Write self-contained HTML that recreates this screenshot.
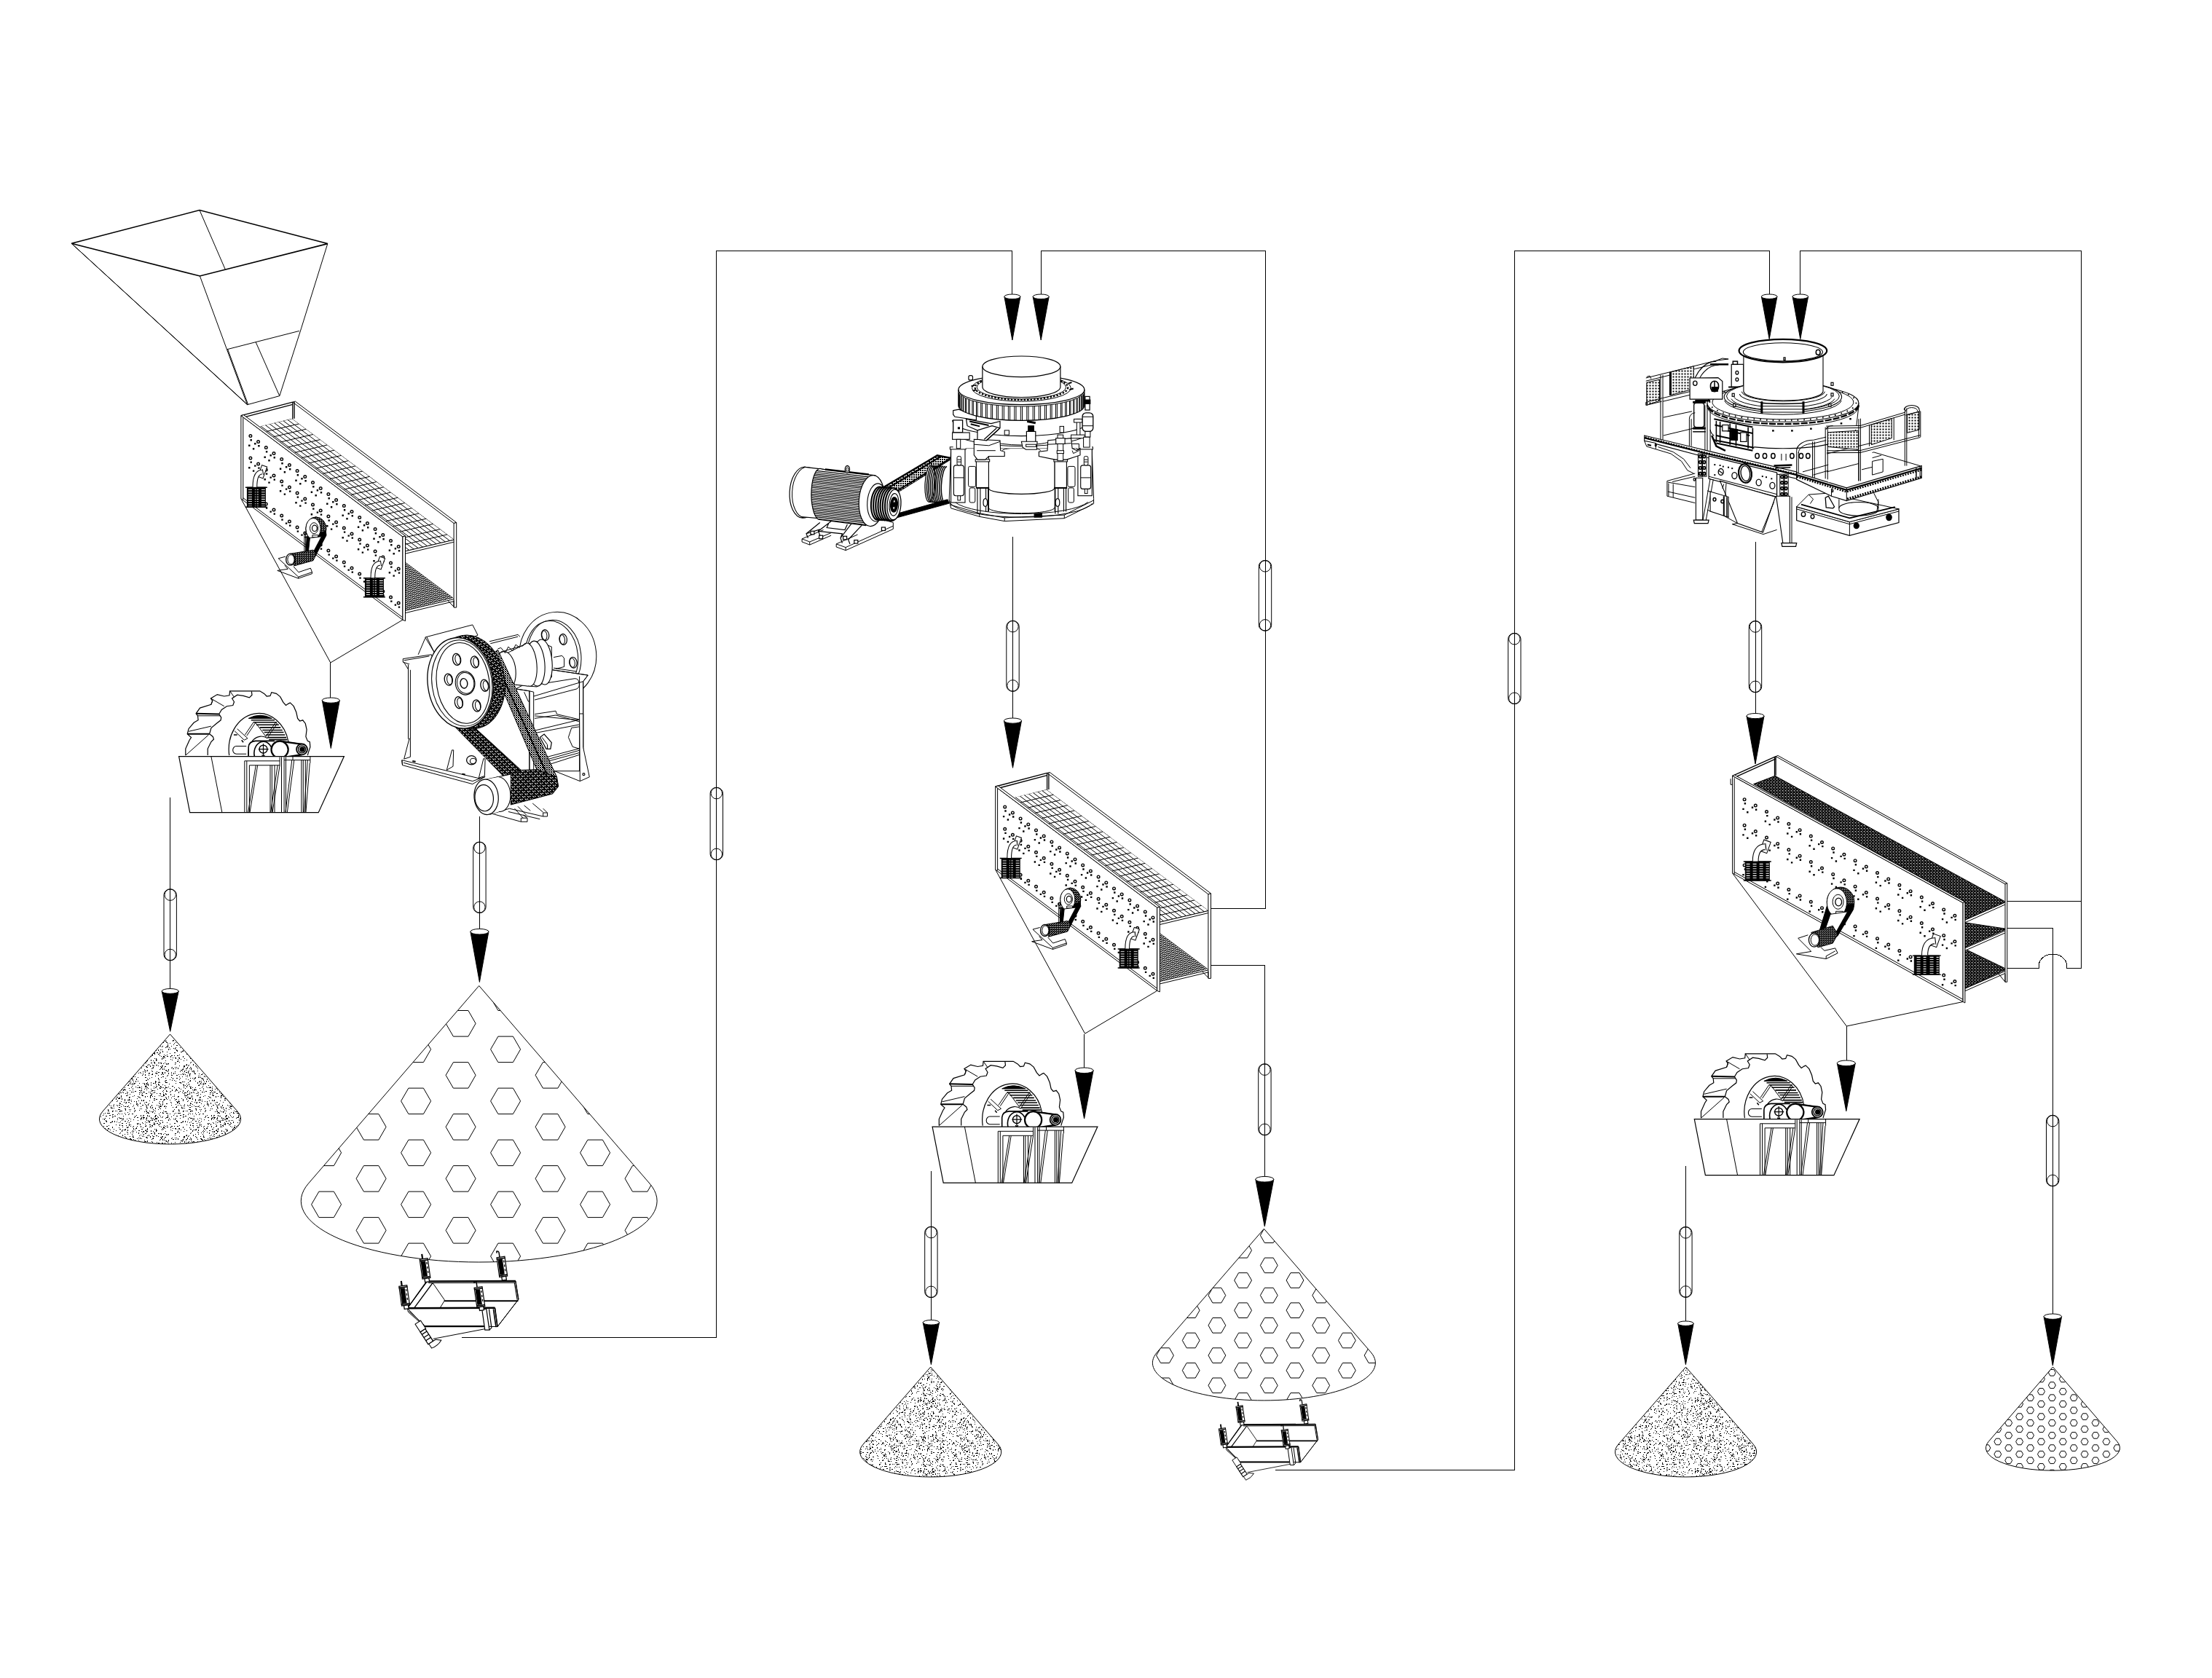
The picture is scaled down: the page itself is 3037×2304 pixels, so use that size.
<!DOCTYPE html>
<html><head><meta charset="utf-8"><title>Flow</title>
<style>html,body{margin:0;padding:0;background:#fff;font-family:"Liberation Sans",sans-serif}svg{display:block}</style>
</head><body>
<svg width="3037" height="2304" viewBox="0 0 3037 2304">
<defs>
<pattern id="sand" patternUnits="userSpaceOnUse" width="97" height="97"><path d="M41,19h1M6,9h2M12,46h1M64,27h1M55,53h1M11,70h1M72,15l1,1M80,80h1M7,73h1M6,28h1M17,37h1M69,15h1M71,87h1M74,73h1M47,12h1M8,72h1M26,63h1M54,40h1M58,46h1M23,89h2M10,73h1M63,43h1M36,77l1,1M15,65h1M96,43h1M62,53h1M85,9h2M73,40h1M44,76h1M58,8h2M34,60h1M8,7h1M39,82h1M87,57h1M49,85h1M59,45h1M14,63h1M36,16h1M50,50l1,1M63,10h1M51,70h1M17,55h2M35,90h1M45,87h2M29,19h1M19,29h1M1,62h2M23,33h1M18,53h1M78,72h1M16,88h2M79,83h1M6,58h2M87,71h1M51,50h1M81,51h1M8,26h1M14,43h1M13,0h1M68,12l1,1M78,3h1M26,78h1M81,32l1,1M77,46h1M14,62l1,1M59,61h1M10,18h1M43,94h1M88,20h1M26,67h1M88,69l1,1M67,38l1,1M11,89h2M66,46l1,1M45,28h1M64,42h1M78,24h2M51,94h2M25,66h1M93,3l1,1M35,60h1M88,77l1,1M57,92l1,1M46,10h1M29,60h1M26,61h1M78,0h1M83,44h2M10,84h1M49,91h2M61,22h1M81,42h1M92,50h1M95,10h1M21,16h1M75,59h2M18,78h2M60,84l1,1M19,70h1M2,1h2M92,83h1M95,17h1M24,27h1M27,37h1M75,41h1M53,16h1M94,45h2M84,74h2M66,53h2M64,16h1M67,65h1M56,23h1M19,22h1M79,92h1M7,41h1M67,71h1M13,71h1M24,35h1M12,64h1M3,8h1M78,64h1M25,88h1M65,68h2M64,31h1M33,71h2M25,57h1M15,50h1M9,85h1M9,27h1M15,19l1,1M82,84h1M32,17l1,1M28,95l1,1M50,62h1M85,28h1M55,65h1M53,25h1M11,92h1M43,70h1M90,2h1M66,79h1M8,14l1,1M29,13h1M34,5l1,1M23,34h2M54,86h2M33,51h1M65,73h1M41,11h1M88,23h1M9,34l1,1M81,11h2M10,77h2M8,33h2M58,1h1M70,53l1,1M34,79h1M67,90h1M14,20h1M23,25l1,1M80,39h1M26,37h1M86,22h1M2,32h1M2,93h1M24,65h1M57,13h1M83,55h1M69,50l1,1M39,88h1M29,43h1M90,93h1M51,44l1,1M16,1h1M94,32h1M7,10h1M48,64h1M36,76h1M37,5h1M20,34h1M33,46l1,1M70,41h1M39,27h1M0,42h1M60,35h1M25,31h1M0,11h1M11,18h1M5,50h1M38,80h1M74,67h2M19,84h2M76,49h2M92,63h1M92,79h1M5,91h2M80,54h1M64,17l1,1M96,64h1M2,87h1M91,87l1,1M82,29h1M5,17h1M13,48h2M71,6h1M80,68h1M62,33h1M8,95l1,1M68,11h1M8,95h1M32,9h2M30,93h2M29,94h1M58,63h2M9,61l1,1M36,5h1M82,25h1M18,42h1M95,88h1M72,17h1M7,62h1M86,12h1M86,62h1M66,36h1M59,15l1,1M70,25h1M10,60h1M58,9h2M57,34h1M26,9h1M18,95h1M46,16h1M80,65h1M14,90h1M63,62h1M20,0l1,1M87,57h1M93,18h1M48,40h1M42,0h1M43,50h1M25,91h1M94,37h1M8,50h1M75,9h1M54,96h1M6,35h1M84,36h1M19,31l1,1M55,65h1M47,54h2M80,51l1,1M70,70h1M10,6l1,1M52,57h1M17,82h2M62,6l1,1M70,16h1M53,43h1M32,94h1M83,33h1M30,38h1M85,50h1M82,20h1M64,63h1M57,42l1,1M57,54h1M24,31h1M43,71h1M30,47h1M72,25h2M95,52h1M95,67h1M34,43h2M63,35h1M46,16h1M67,80h2M27,11h1M31,49h1M57,55l1,1M2,16h1M90,60l1,1M62,0h1M67,59l1,1M31,13h1M19,66l1,1M13,92h1M58,10h1M5,0h2M29,72l1,1M82,91h1M16,80h1M81,55h1M14,12h1M67,74h1M33,28h2M0,1h1M58,35l1,1M82,31h1M30,70h1M52,90h1M7,2h1M86,82h1M32,29h1M47,29h1M89,43h1M46,87h1M0,37h1M64,8h1M25,39h2M24,29h1M33,37h1M79,63h1M28,62h1M85,7l1,1M18,50h1M3,76h1M6,90h1M50,57h2M40,93h1M10,21h1M23,83l1,1M95,59h1M85,92h1M47,42h1M13,0h1M10,44h1M15,71l1,1M26,48h1M39,55h1M90,60h1M69,57h1M46,94h2M3,80h1M80,51h1M4,59h1M7,32h1M8,77h1M34,42l1,1M78,5h1M91,88h1M35,38h1M96,76l1,1M81,8h1M29,13h1M59,49h2M55,63h1M63,23h1M94,38h2M19,77h1M40,58h1M76,10h1M50,96h1M52,8h1M61,70h1M20,54h2M9,33h1M26,12h1M90,57h1M17,53h1M86,30h1M85,15h2M37,37h1M34,47h1M33,25h1M23,31h1M36,74h1M8,50h1M31,64h1M83,12h1M4,13h1M29,57l1,1M5,37h1M6,24h1M74,24l1,1M47,65h2M57,77h1M85,0h1M76,90h1M27,4h1M18,5h1M32,4h1M83,26h2M41,52h1M23,79h1M26,4h2M70,61h1M12,50h1M19,81h1M83,20h1M34,52l1,1M85,39h1M6,39h1M45,53h1M46,82h1M93,51h1M0,55l1,1M54,14h2M51,73h2M58,20h1M6,70h1M50,11h1M47,94h1M18,44h1M66,21l1,1M13,49h1M25,38h1M5,61h1M77,81h1M91,79h1M20,81h2M28,79h1M25,60h1M27,5h1M66,20h1M15,19h1M92,24h1M71,96h1M85,41h1M76,58h1M80,39h1M39,74h1M49,84h1M64,56h1M0,79l1,1M59,30h1M79,58h2M60,51h1M16,45h1M11,56h1M84,5h1M16,10l1,1M40,92h1M6,96h1M48,83l1,1M17,3h2M78,93h1M14,24h1M62,36l1,1M21,87h2M28,8h2M78,96h1M41,78h1M58,18h1M61,26h1M78,64h1M47,4h1M51,20h1M35,86h1M48,21h2M33,14h2M6,81h2M57,71h1M88,13h1M68,80h2M94,47h1M47,73h1M42,10h1M22,78h1M6,37h2M32,39h1M74,84h2M93,0h1M28,19h1M80,55h1M46,6h1M29,78h1M2,6h1M45,38h1M45,68h1M74,38h1M26,46h1M60,20h1M31,90h1M12,8h1M85,34h1M33,1h1M71,44h1M74,56h1M66,93h1M21,0h1M68,3h1M30,20h1M13,1h1M84,25h1M25,66h1M64,82h1M78,22h1M8,38h1M92,61h1M0,48h2M95,59h1M83,57h1M13,33h1M4,15h1M95,88l1,1M33,91h1M81,70h1M87,66l1,1M37,82l1,1M27,10h2M1,21h1M30,95h1M20,95l1,1M24,49h1M30,48l1,1M80,88l1,1M68,60h1M67,89h1M3,55l1,1M29,73h2M27,50h1M9,72l1,1M18,4h1M13,79l1,1M44,18h1M3,5h1M82,81h1M8,94h1M75,46h1M68,85h1M96,91l1,1M13,31h1M14,4h1M96,81h1M96,80h1M61,12h1M96,82h1M40,43h1M2,44h1M36,6h1M47,41h2M77,64h1M36,79h1M52,3h1M12,44h1M6,68h1M91,11h1M36,21h1M67,25h1M96,6h1M62,12h1M23,63h1M65,33h1M20,36h2M89,29h1M14,81h2M62,89h1M13,80h1M12,51l1,1M95,11h1M82,3h1M38,33h1M69,64h1M80,29l1,1M16,68h1M88,96h1M4,44h1M66,19h2M57,84h1M41,21h1M88,32h1M16,42h1M89,30h1M34,38h2M79,19h1M31,92h1M66,44h1M41,24h1M93,13h1M84,13h1M19,18h2M93,38h1M25,13h1M13,35h1M49,59h1M51,55h1M64,80h1M2,18h1M94,51h1M31,55h1M75,95h1M29,85h1M82,89h1M29,86h1M15,58h1M33,80h1M53,31h2M91,91h1M32,54h1M2,79h2M66,86h1M23,83h1M1,49h2M13,4h1M27,20h1M25,66h1M73,58h1M91,60h1M81,47h1M52,94l1,1M26,87h1M65,15h1M78,45h1M32,35h1M7,1h1M53,80h1M45,74h1M28,38h1M67,28l1,1M50,59h1M16,8h2M81,24h1M71,92h1M18,45h1M52,59l1,1M70,83h1M60,45h2M29,34h1M87,32l1,1M86,23h1M92,35h1M83,38h1M62,54h1M10,84h2M19,38h2M7,10h2M41,17h1M44,81h1M84,1h1M9,83h1M77,12h1M29,23h2M44,19h1M51,68h1M88,77l1,1M11,85l1,1M70,81h2M25,63h1M67,10h1M56,85h2M71,15h1M29,17h1M71,7h1M18,89h1M63,21h1M94,0h1M41,59h1M63,85h1M59,47h1M86,9h1M46,81h1M2,78h1M94,42h2M12,65h1M96,18h1M91,53h1M43,12h2M46,43h1M67,70h2M26,36h1M54,32h1M37,37h1M63,51h1M34,64h1M26,83h1M15,42h1M91,38h1M81,11h2M5,51h1M51,69h1M51,38h1M5,24h2M60,77h2M7,64l1,1M78,48h1M80,86h1M76,87h1M5,85h1M80,22h1M23,4h1M12,83h1M17,39h1M33,38h1M4,40h1M72,82h1M6,63h1M5,15h2M53,73h1M51,57h1M87,49h1M84,19h1M52,70h1M82,60h1M19,80h1M0,1h1M15,11h1M15,16h1M35,92h1M57,93h1M6,46h2M91,88h2M93,10h1M71,90h1M85,32l1,1M6,91h1M7,1h2M87,79h1M39,39h1M21,62h1M40,47l1,1M93,56h1M21,18l1,1M14,46l1,1M20,80h2M61,49h2M57,34h2M72,42h1M7,79l1,1M90,76h1M77,92l1,1M19,76h2M74,54l1,1M31,48h1M48,77h2M29,57h1M0,41h1M54,20h1M5,36h2M73,18h1M70,87h2M63,44h1M69,70h1M48,25h2M92,29h1M7,86h1M90,26l1,1M75,96h1M49,58h1M68,45h2M29,50h1M33,66h1M64,75h1M27,24h1M89,37h1M72,45h1M66,19h1M63,47h2M47,80h1M10,19h1M3,44h1M77,2h1M26,72h1M72,27h1M35,54h1M57,75h2M16,32h2M43,25l1,1M48,10h1M4,71h1M90,58h1M8,76h1M15,90l1,1M32,40h1M82,11l1,1M85,64h1M57,20h1M30,92h1M4,32l1,1M7,70l1,1M6,33h2M90,94h1M61,7h1M40,96h1M25,86h1M75,75h1M83,13h1M47,32h1M47,61h1M56,30h2M86,1h1M24,4h1M28,9l1,1M47,95h1M57,12l1,1M49,2h1M57,43h1M29,61h1M46,18h1M94,7h1M57,70h2M56,19h1M52,31h1M34,73h2M42,21h1M13,40h1M61,14h1M65,7h1M85,27h1M36,15h1M25,46h1M33,30l1,1M12,49h1M20,7h2M37,18l1,1M2,56h2M43,65h1M0,67h1M46,55h1M52,27h1M23,17h2M66,29h1M25,76h1M11,77h1M35,22h1M78,85h1M24,74h1M1,8h1M66,52h2M7,66h2M42,36h2M63,11h1M61,17h2M34,31h1M46,4h1M47,73h1M0,45h1M57,66h1M45,91h1M41,91h2M73,96h2M37,13l1,1M63,57h1M67,68h1M31,11h1M23,21h1M32,71h2M3,2h1M89,94h1M2,76h1M59,66h1M56,13h1M12,91h1M34,15h1M74,64h2M14,15h1M17,69h1M29,18h1M59,95h1M2,81h1M53,76h2M67,4h1M6,46h1M30,42h1M72,41h2M71,6h1M18,87l1,1M31,54h1M1,46h1M23,8h1M25,64h1M28,17h1M50,58h1M5,4h2M79,34l1,1M79,34h1M4,79h1M15,66h1M30,5h1M39,44h1M15,7h1M65,34h1M75,68l1,1M56,15h1M37,52h1M35,31h1M94,69h1M58,78h1M28,83h1M70,90h1M70,38h1M60,39h1M42,28h1M69,49l1,1M50,1l1,1M20,30h1M41,62h1M27,37h1M2,20h1M77,44h1M7,66h1M56,45h1M13,66h1M86,94l1,1M53,43h1M17,86h1M78,35h2M66,12h1M95,60h1M80,90h1M90,16h1M13,0h1M70,74h1M50,73h1M35,79h1M48,57h1M36,92h1M45,50h1M76,49h1M0,95h2M63,48h1M23,68h1M18,55h1M74,29h1M42,41l1,1M77,31l1,1M26,54h2M1,3h1M72,63h1M68,39h1M55,66h2M93,87h1M59,45h1M86,44h1M1,86h1M29,12h1M64,51h1M73,19h2M53,62h1M79,75h1M67,95h2M21,46h1M9,39h1M14,83h2M88,43h2M65,53h1M67,37h2M26,64h2M52,23h1M72,77h1M72,80h1M5,88h1M0,39h1M70,0l1,1M50,12h1M85,3h1M63,70h1M82,68h1M18,73h1M77,15h1M66,65h1M12,9h1M66,62h2M78,55h2M7,83h1M74,41h1M30,45h1M4,34h1M74,8h1M57,79h1M6,28h2M74,5h1M79,30h1M5,20l1,1M22,40h1M58,38h1M32,63l1,1M8,31h1M86,91h1M52,39h1M91,62h1M31,11h1M45,48h1M37,50h1M14,42h1M49,42h1M8,15h1M44,70h1M24,59h1M30,55h1M85,3h1M19,30h1M11,25h1M16,71h1M30,20h1M27,92h1M80,74h1" fill="none" stroke="#000" stroke-width="1" shape-rendering="crispEdges" transform="translate(0 0.5)"/></pattern>
<clipPath id="hp1"><path d="M657.7,1353.5 L892,1625.1 A244.4,84 0 1 1 423.4,1625.1 Z"/></clipPath>
<clipPath id="hp2"><path d="M1735.4,1687.2 L1882.3,1856.9 A153,51.6 0 1 1 1588.5,1856.9 Z"/></clipPath>
<clipPath id="hp3"><path d="M2818.5,1876.9 L2906.8,1979.4 A92,31 0 1 1 2730.2,1979.4 Z"/></clipPath>
<pattern id="dk" patternUnits="userSpaceOnUse" width="4" height="4"><rect width="4" height="4" fill="#000"/><rect x="0" y="0" width="2" height="1" fill="#fff"/><rect x="2" y="2" width="1" height="1" fill="#fff"/></pattern>
<pattern id="dk2" patternUnits="userSpaceOnUse" width="3" height="3"><rect width="3" height="3" fill="#000"/><rect x="0" y="0" width="1" height="1" fill="#fff"/><rect x="1" y="2" width="1" height="1" fill="#fff"/></pattern>
<pattern id="coil" patternUnits="userSpaceOnUse" width="9" height="3.2"><rect width="9" height="3.2" fill="#000"/><rect x="1" y="2.2" width="5" height="1" fill="#fff"/></pattern>
<clipPath id="mc1"><path d="M26,14.9 L70.1,4 L292.9,170.4 L224.9,186.3 L225.6,164.5Z"/></clipPath>
<clipPath id="mc2"><path d="M225.6,197.5 L292.5,250.4 L225.6,267.7Z"/></clipPath>
<clipPath id="mc3"><path d="M26,14.9 L70.1,4 L292.9,170.4 L224.9,186.3 L225.6,164.5Z"/></clipPath>
<clipPath id="mc4"><path d="M225.6,197.5 L292.5,250.4 L225.6,267.7Z"/></clipPath>
<pattern id="belt1" patternUnits="userSpaceOnUse" width="5" height="5" patternTransform="rotate(43)"><rect width="5" height="5" fill="#000"/><rect x="0" y="0" width="3" height="1" fill="#fff"/><rect x="2" y="3" width="2" height="1" fill="#fff"/></pattern>
<pattern id="belt2" patternUnits="userSpaceOnUse" width="3" height="3"><rect width="3" height="3" fill="#fff"/><rect x="0" y="0" width="2" height="2" fill="#000"/><rect x="2" y="2" width="1" height="1" fill="#000"/></pattern>
<pattern id="dots" patternUnits="userSpaceOnUse" width="3" height="3"><rect width="3" height="3" fill="#fff"/><rect x="0" y="0" width="2" height="2" fill="#000"/></pattern>
<clipPath id="finclip"><path d="M1128.2,644.1 L1202.2,652.9 L1189.3,721.7 L1123.5,713.1 A11.8,34.8 0 0 1 1128.2,644.1 Z"/></clipPath>
<pattern id="perf" patternUnits="userSpaceOnUse" width="4" height="4"><rect width="4" height="4" fill="#fff"/><rect x="0.5" y="0.5" width="2" height="2" fill="#000"/></pattern>
</defs>
<rect width="3037" height="2304" fill="#fff"/>
<g stroke-linecap="butt" stroke-linejoin="miter">
<g shape-rendering="crispEdges">
<path d="M453.8,910 V958" fill="none" stroke="#000" stroke-width="1" />
<path d="M233.7,1094.7 V1358" fill="none" stroke="#000" stroke-width="1" />
<path d="M658.4,1121 V1276" fill="none" stroke="#000" stroke-width="1" />
<path d="M634.4,1836.5 H983.8 V344.8 H1389.9 V405" fill="none" stroke="#000" stroke-width="1" />
<path d="M1660.9,1247.4 H1737 V344.8 H1429.2 V405" fill="none" stroke="#000" stroke-width="1" />
<path d="M1390.5,736.6 V987" fill="none" stroke="#000" stroke-width="1" />
<path d="M1660.9,1325.3 H1736.4 V1616" fill="none" stroke="#000" stroke-width="1" />
<path d="M1488.7,1419.6 V1467" fill="none" stroke="#000" stroke-width="1" />
<path d="M1278.4,1608 V1813" fill="none" stroke="#000" stroke-width="1" />
<path d="M1751.3,2018.7 H2079.3 V344.4 H2429.2 V405" fill="none" stroke="#000" stroke-width="1" />
<path d="M2756.3,1237.4 H2857.5 M2857.5,1329.3 V344.4 H2471.8 V405" fill="none" stroke="#000" stroke-width="1" />
<path d="M2756.3,1274.5 H2818.3 V1805" fill="none" stroke="#000" stroke-width="1" />
<path d="M2756.3,1329.3 H2799.2 V1326 A19.2,16 0 0 1 2837.6,1326 V1329.3 H2857.5" fill="none" stroke="#000" stroke-width="1" />
<path d="M2410,743.7 V980" fill="none" stroke="#000" stroke-width="1" />
<path d="M2535,1408.5 V1457" fill="none" stroke="#000" stroke-width="1" />
<path d="M2314.4,1601.3 V1815" fill="none" stroke="#000" stroke-width="1" />
</g>
<path d="M225,1228.7 A8.7,8 0 0 1 242.4,1228.7 V1310.9 A8.7,8 0 0 1 225,1310.9 Z" fill="none" stroke="#000" stroke-width="1" />
<circle cx="233.7" cy="1228.7" r="7.7" fill="none" stroke="#000" stroke-width="1"/>
<circle cx="233.7" cy="1310.9" r="7.7" fill="none" stroke="#000" stroke-width="1"/>
<path d="M649.7,1164 A8.7,8 0 0 1 667.1,1164 V1245.5 A8.7,8 0 0 1 649.7,1245.5 Z" fill="none" stroke="#000" stroke-width="1" />
<circle cx="658.4" cy="1164" r="7.7" fill="none" stroke="#000" stroke-width="1"/>
<circle cx="658.4" cy="1245.5" r="7.7" fill="none" stroke="#000" stroke-width="1"/>
<path d="M975.1,1089.2 A8.7,8 0 0 1 992.5,1089.2 V1172.8 A8.7,8 0 0 1 975.1,1172.8 Z" fill="none" stroke="#000" stroke-width="1" />
<circle cx="983.8" cy="1089.2" r="7.7" fill="none" stroke="#000" stroke-width="1"/>
<circle cx="983.8" cy="1172.8" r="7.7" fill="none" stroke="#000" stroke-width="1"/>
<path d="M1381.8,860.2 A8.7,8 0 0 1 1399.2,860.2 V941.4 A8.7,8 0 0 1 1381.8,941.4 Z" fill="none" stroke="#000" stroke-width="1" />
<circle cx="1390.5" cy="860.2" r="7.7" fill="none" stroke="#000" stroke-width="1"/>
<circle cx="1390.5" cy="941.4" r="7.7" fill="none" stroke="#000" stroke-width="1"/>
<path d="M1728.3,777.4 A8.7,8 0 0 1 1745.7,777.4 V858.3 A8.7,8 0 0 1 1728.3,858.3 Z" fill="none" stroke="#000" stroke-width="1" />
<circle cx="1737" cy="777.4" r="7.7" fill="none" stroke="#000" stroke-width="1"/>
<circle cx="1737" cy="858.3" r="7.7" fill="none" stroke="#000" stroke-width="1"/>
<path d="M1727.7,1468.7 A8.7,8 0 0 1 1745.1,1468.7 V1550.8 A8.7,8 0 0 1 1727.7,1550.8 Z" fill="none" stroke="#000" stroke-width="1" />
<circle cx="1736.4" cy="1468.7" r="7.7" fill="none" stroke="#000" stroke-width="1"/>
<circle cx="1736.4" cy="1550.8" r="7.7" fill="none" stroke="#000" stroke-width="1"/>
<path d="M1269.7,1692.2 A8.7,8 0 0 1 1287.1,1692.2 V1773.7 A8.7,8 0 0 1 1269.7,1773.7 Z" fill="none" stroke="#000" stroke-width="1" />
<circle cx="1278.4" cy="1692.2" r="7.7" fill="none" stroke="#000" stroke-width="1"/>
<circle cx="1278.4" cy="1773.7" r="7.7" fill="none" stroke="#000" stroke-width="1"/>
<path d="M2070.6,877.3 A8.7,8 0 0 1 2088,877.3 V958.7 A8.7,8 0 0 1 2070.6,958.7 Z" fill="none" stroke="#000" stroke-width="1" />
<circle cx="2079.3" cy="877.3" r="7.7" fill="none" stroke="#000" stroke-width="1"/>
<circle cx="2079.3" cy="958.7" r="7.7" fill="none" stroke="#000" stroke-width="1"/>
<path d="M2401.3,860.5 A8.7,8 0 0 1 2418.7,860.5 V942.8 A8.7,8 0 0 1 2401.3,942.8 Z" fill="none" stroke="#000" stroke-width="1" />
<circle cx="2410" cy="860.5" r="7.7" fill="none" stroke="#000" stroke-width="1"/>
<circle cx="2410" cy="942.8" r="7.7" fill="none" stroke="#000" stroke-width="1"/>
<path d="M2305.7,1692.5 A8.7,8 0 0 1 2323.1,1692.5 V1773.4 A8.7,8 0 0 1 2305.7,1773.4 Z" fill="none" stroke="#000" stroke-width="1" />
<circle cx="2314.4" cy="1692.5" r="7.7" fill="none" stroke="#000" stroke-width="1"/>
<circle cx="2314.4" cy="1773.4" r="7.7" fill="none" stroke="#000" stroke-width="1"/>
<path d="M2809.5,1539.2 A8.7,8 0 0 1 2826.9,1539.2 V1620.8 A8.7,8 0 0 1 2809.5,1620.8 Z" fill="none" stroke="#000" stroke-width="1" />
<circle cx="2818.2" cy="1539.2" r="7.7" fill="none" stroke="#000" stroke-width="1"/>
<circle cx="2818.2" cy="1620.8" r="7.7" fill="none" stroke="#000" stroke-width="1"/>
<path d="M442.3,961.6 A12,3.6 0 0 0 466.3,961.6 L454.3,1027.5 Z" fill="#000" stroke="#000" stroke-width="1"/>
<ellipse cx="454.3" cy="961.6" rx="12" ry="3.6" fill="#fff" stroke="#000" stroke-width="1" />
<path d="M222.2,1360.9 A11.5,3.4 0 0 0 245.2,1360.9 L233.7,1416.3 Z" fill="#000" stroke="#000" stroke-width="1"/>
<ellipse cx="233.7" cy="1360.9" rx="11.5" ry="3.4" fill="#fff" stroke="#000" stroke-width="1" />
<path d="M645.9,1279.2 A12.5,3.8 0 0 0 670.9,1279.2 L658.4,1348.5 Z" fill="#000" stroke="#000" stroke-width="1"/>
<ellipse cx="658.4" cy="1279.2" rx="12.5" ry="3.8" fill="#fff" stroke="#000" stroke-width="1" />
<path d="M1378.9,407.3 A11,3.3 0 0 0 1400.9,407.3 L1389.9,467 Z" fill="#000" stroke="#000" stroke-width="1"/>
<ellipse cx="1389.9" cy="407.3" rx="11" ry="3.3" fill="#fff" stroke="#000" stroke-width="1" />
<path d="M1418.2,407.3 A11,3.3 0 0 0 1440.2,407.3 L1429.2,467 Z" fill="#000" stroke="#000" stroke-width="1"/>
<ellipse cx="1429.2" cy="407.3" rx="11" ry="3.3" fill="#fff" stroke="#000" stroke-width="1" />
<path d="M1378.5,989.6 A12,3.6 0 0 0 1402.5,989.6 L1390.5,1054.3 Z" fill="#000" stroke="#000" stroke-width="1"/>
<ellipse cx="1390.5" cy="989.6" rx="12" ry="3.6" fill="#fff" stroke="#000" stroke-width="1" />
<path d="M1476.1,1469.8 A12.5,3.8 0 0 0 1501.1,1469.8 L1488.6,1536 Z" fill="#000" stroke="#000" stroke-width="1"/>
<ellipse cx="1488.6" cy="1469.8" rx="12.5" ry="3.8" fill="#fff" stroke="#000" stroke-width="1" />
<path d="M1267.2,1815.8 A11.2,3.3 0 0 0 1289.6,1815.8 L1278.4,1873.6 Z" fill="#000" stroke="#000" stroke-width="1"/>
<ellipse cx="1278.4" cy="1815.8" rx="11.2" ry="3.3" fill="#fff" stroke="#000" stroke-width="1" />
<path d="M1723.8,1619.2 A12.5,3.8 0 0 0 1748.8,1619.2 L1736.3,1684 Z" fill="#000" stroke="#000" stroke-width="1"/>
<ellipse cx="1736.3" cy="1619.2" rx="12.5" ry="3.8" fill="#fff" stroke="#000" stroke-width="1" />
<path d="M2418.4,407.2 A10.8,3.2 0 0 0 2439.9,407.2 L2429.2,465.5 Z" fill="#000" stroke="#000" stroke-width="1"/>
<ellipse cx="2429.2" cy="407.2" rx="10.8" ry="3.2" fill="#fff" stroke="#000" stroke-width="1" />
<path d="M2461.1,407.2 A10.8,3.2 0 0 0 2482.6,407.2 L2471.8,465.5 Z" fill="#000" stroke="#000" stroke-width="1"/>
<ellipse cx="2471.8" cy="407.2" rx="10.8" ry="3.2" fill="#fff" stroke="#000" stroke-width="1" />
<path d="M2398,983.1 A12,3.6 0 0 0 2422,983.1 L2410,1049 Z" fill="#000" stroke="#000" stroke-width="1"/>
<ellipse cx="2410" cy="983.1" rx="12" ry="3.6" fill="#fff" stroke="#000" stroke-width="1" />
<path d="M2522.3,1459.8 A12.5,3.8 0 0 0 2547.3,1459.8 L2534.8,1525.7 Z" fill="#000" stroke="#000" stroke-width="1"/>
<ellipse cx="2534.8" cy="1459.8" rx="12.5" ry="3.8" fill="#fff" stroke="#000" stroke-width="1" />
<path d="M2303.7,1817.2 A10.8,3.2 0 0 0 2325.2,1817.2 L2314.4,1873.7 Z" fill="#000" stroke="#000" stroke-width="1"/>
<ellipse cx="2314.4" cy="1817.2" rx="10.8" ry="3.2" fill="#fff" stroke="#000" stroke-width="1" />
<path d="M2806.1,1807.7 A12.2,3.7 0 0 0 2830.6,1807.7 L2818.3,1875 Z" fill="#000" stroke="#000" stroke-width="1"/>
<ellipse cx="2818.3" cy="1807.7" rx="12.2" ry="3.7" fill="#fff" stroke="#000" stroke-width="1" />
<path d="M98.1,334.2 L274,288.6 L449.8,334.6 L274.4,379Z" fill="none" stroke="#000" stroke-width="1.6" />
<path d="M274,288.6 L309.3,370" fill="none" stroke="#000" stroke-width="1" />
<path d="M274.4,379 L311.5,479.8 L339.5,555.7" fill="none" stroke="#000" stroke-width="1" />
<path d="M312.6,479.5 L340.6,555.4" fill="none" stroke="#000" stroke-width="1" />
<path d="M98.1,334.2 L339.5,555.7 L383.8,543.6" fill="none" stroke="#000" stroke-width="1" />
<path d="M98.1,334.2 L336.5,552.5 L339.5,555.7" fill="none" stroke="#000" stroke-width="1" />
<path d="M449.8,334.6 L413.6,450.8 L383.8,543.6" fill="none" stroke="#000" stroke-width="1" />
<path d="M311.5,479.8 L410.9,454.4" fill="none" stroke="#000" stroke-width="1" />
<path d="M351.2,469.8 L383.8,543.6" fill="none" stroke="#000" stroke-width="1" />
<path d="M233.5,1420 L326.2,1526.2 A97.1,34.5 0 1 1 140.8,1526.2 Z" fill="url(#sand)" stroke="#000" stroke-width="1"/>
<path d="M1277.7,1877 L1370.4,1983.2 A97.1,34.5 0 1 1 1185,1983.2 Z" fill="url(#sand)" stroke="#000" stroke-width="1"/>
<path d="M2314.6,1877 L2407.3,1983.2 A97.1,34.5 0 1 1 2221.9,1983.2 Z" fill="url(#sand)" stroke="#000" stroke-width="1"/>
<path d="M407.1,1334.3 L396.9,1352 L376.4,1352 L366.1,1334.3 L376.4,1316.5 L396.9,1316.5ZM407.1,1405.3 L396.9,1423.1 L376.4,1423.1 L366.1,1405.3 L376.4,1387.5 L396.9,1387.5ZM407.1,1476.3 L396.9,1494.1 L376.4,1494.1 L366.1,1476.3 L376.4,1458.6 L396.9,1458.6ZM407.1,1547.3 L396.9,1565.1 L376.4,1565.1 L366.1,1547.3 L376.4,1529.6 L396.9,1529.6ZM407.1,1618.3 L396.9,1636.1 L376.4,1636.1 L366.1,1618.3 L376.4,1600.6 L396.9,1600.6ZM407.1,1689.4 L396.9,1707.1 L376.4,1707.1 L366.1,1689.4 L376.4,1671.6 L396.9,1671.6ZM407.1,1760.4 L396.9,1778.1 L376.4,1778.1 L366.1,1760.4 L376.4,1742.6 L396.9,1742.6ZM468.6,1369.8 L458.4,1387.5 L437.9,1387.5 L427.6,1369.8 L437.9,1352 L458.4,1352ZM468.6,1440.8 L458.4,1458.6 L437.9,1458.6 L427.6,1440.8 L437.9,1423.1 L458.4,1423.1ZM468.6,1511.8 L458.4,1529.6 L437.9,1529.6 L427.6,1511.8 L437.9,1494.1 L458.4,1494.1ZM468.6,1582.8 L458.4,1600.6 L437.9,1600.6 L427.6,1582.8 L437.9,1565.1 L458.4,1565.1ZM468.6,1653.8 L458.4,1671.6 L437.9,1671.6 L427.6,1653.8 L437.9,1636.1 L458.4,1636.1ZM468.6,1724.9 L458.4,1742.6 L437.9,1742.6 L427.6,1724.9 L437.9,1707.1 L458.4,1707.1ZM530.1,1334.3 L519.9,1352 L499.4,1352 L489.1,1334.3 L499.4,1316.5 L519.9,1316.5ZM530.1,1405.3 L519.9,1423.1 L499.4,1423.1 L489.1,1405.3 L499.4,1387.5 L519.9,1387.5ZM530.1,1476.3 L519.9,1494.1 L499.4,1494.1 L489.1,1476.3 L499.4,1458.6 L519.9,1458.6ZM530.1,1547.3 L519.9,1565.1 L499.4,1565.1 L489.1,1547.3 L499.4,1529.6 L519.9,1529.6ZM530.1,1618.3 L519.9,1636.1 L499.4,1636.1 L489.1,1618.3 L499.4,1600.6 L519.9,1600.6ZM530.1,1689.4 L519.9,1707.1 L499.4,1707.1 L489.1,1689.4 L499.4,1671.6 L519.9,1671.6ZM530.1,1760.4 L519.9,1778.1 L499.4,1778.1 L489.1,1760.4 L499.4,1742.6 L519.9,1742.6ZM591.6,1369.8 L581.4,1387.5 L560.9,1387.5 L550.6,1369.8 L560.9,1352 L581.4,1352ZM591.6,1440.8 L581.4,1458.6 L560.9,1458.6 L550.6,1440.8 L560.9,1423.1 L581.4,1423.1ZM591.6,1511.8 L581.4,1529.6 L560.9,1529.6 L550.6,1511.8 L560.9,1494.1 L581.4,1494.1ZM591.6,1582.8 L581.4,1600.6 L560.9,1600.6 L550.6,1582.8 L560.9,1565.1 L581.4,1565.1ZM591.6,1653.8 L581.4,1671.6 L560.9,1671.6 L550.6,1653.8 L560.9,1636.1 L581.4,1636.1ZM591.6,1724.9 L581.4,1742.6 L560.9,1742.6 L550.6,1724.9 L560.9,1707.1 L581.4,1707.1ZM653.1,1334.3 L642.9,1352 L622.4,1352 L612.1,1334.3 L622.4,1316.5 L642.9,1316.5ZM653.1,1405.3 L642.9,1423.1 L622.4,1423.1 L612.1,1405.3 L622.4,1387.5 L642.9,1387.5ZM653.1,1476.3 L642.9,1494.1 L622.4,1494.1 L612.1,1476.3 L622.4,1458.6 L642.9,1458.6ZM653.1,1547.3 L642.9,1565.1 L622.4,1565.1 L612.1,1547.3 L622.4,1529.6 L642.9,1529.6ZM653.1,1618.3 L642.9,1636.1 L622.4,1636.1 L612.1,1618.3 L622.4,1600.6 L642.9,1600.6ZM653.1,1689.4 L642.9,1707.1 L622.4,1707.1 L612.1,1689.4 L622.4,1671.6 L642.9,1671.6ZM653.1,1760.4 L642.9,1778.1 L622.4,1778.1 L612.1,1760.4 L622.4,1742.6 L642.9,1742.6ZM714.6,1369.8 L704.4,1387.5 L683.9,1387.5 L673.6,1369.8 L683.9,1352 L704.4,1352ZM714.6,1440.8 L704.4,1458.6 L683.9,1458.6 L673.6,1440.8 L683.9,1423.1 L704.4,1423.1ZM714.6,1511.8 L704.4,1529.6 L683.9,1529.6 L673.6,1511.8 L683.9,1494.1 L704.4,1494.1ZM714.6,1582.8 L704.4,1600.6 L683.9,1600.6 L673.6,1582.8 L683.9,1565.1 L704.4,1565.1ZM714.6,1653.8 L704.4,1671.6 L683.9,1671.6 L673.6,1653.8 L683.9,1636.1 L704.4,1636.1ZM714.6,1724.9 L704.4,1742.6 L683.9,1742.6 L673.6,1724.9 L683.9,1707.1 L704.4,1707.1ZM776.1,1334.3 L765.9,1352 L745.4,1352 L735.1,1334.3 L745.4,1316.5 L765.9,1316.5ZM776.1,1405.3 L765.9,1423.1 L745.4,1423.1 L735.1,1405.3 L745.4,1387.5 L765.9,1387.5ZM776.1,1476.3 L765.9,1494.1 L745.4,1494.1 L735.1,1476.3 L745.4,1458.6 L765.9,1458.6ZM776.1,1547.3 L765.9,1565.1 L745.4,1565.1 L735.1,1547.3 L745.4,1529.6 L765.9,1529.6ZM776.1,1618.3 L765.9,1636.1 L745.4,1636.1 L735.1,1618.3 L745.4,1600.6 L765.9,1600.6ZM776.1,1689.4 L765.9,1707.1 L745.4,1707.1 L735.1,1689.4 L745.4,1671.6 L765.9,1671.6ZM776.1,1760.4 L765.9,1778.1 L745.4,1778.1 L735.1,1760.4 L745.4,1742.6 L765.9,1742.6ZM837.6,1369.8 L827.4,1387.5 L806.9,1387.5 L796.6,1369.8 L806.9,1352 L827.4,1352ZM837.6,1440.8 L827.4,1458.6 L806.9,1458.6 L796.6,1440.8 L806.9,1423.1 L827.4,1423.1ZM837.6,1511.8 L827.4,1529.6 L806.9,1529.6 L796.6,1511.8 L806.9,1494.1 L827.4,1494.1ZM837.6,1582.8 L827.4,1600.6 L806.9,1600.6 L796.6,1582.8 L806.9,1565.1 L827.4,1565.1ZM837.6,1653.8 L827.4,1671.6 L806.9,1671.6 L796.6,1653.8 L806.9,1636.1 L827.4,1636.1ZM837.6,1724.9 L827.4,1742.6 L806.9,1742.6 L796.6,1724.9 L806.9,1707.1 L827.4,1707.1ZM899.1,1334.3 L888.9,1352 L868.4,1352 L858.1,1334.3 L868.4,1316.5 L888.9,1316.5ZM899.1,1405.3 L888.9,1423.1 L868.4,1423.1 L858.1,1405.3 L868.4,1387.5 L888.9,1387.5ZM899.1,1476.3 L888.9,1494.1 L868.4,1494.1 L858.1,1476.3 L868.4,1458.6 L888.9,1458.6ZM899.1,1547.3 L888.9,1565.1 L868.4,1565.1 L858.1,1547.3 L868.4,1529.6 L888.9,1529.6ZM899.1,1618.3 L888.9,1636.1 L868.4,1636.1 L858.1,1618.3 L868.4,1600.6 L888.9,1600.6ZM899.1,1689.4 L888.9,1707.1 L868.4,1707.1 L858.1,1689.4 L868.4,1671.6 L888.9,1671.6ZM899.1,1760.4 L888.9,1778.1 L868.4,1778.1 L858.1,1760.4 L868.4,1742.6 L888.9,1742.6ZM960.6,1369.8 L950.4,1387.5 L929.9,1387.5 L919.6,1369.8 L929.9,1352 L950.4,1352ZM960.6,1440.8 L950.4,1458.6 L929.9,1458.6 L919.6,1440.8 L929.9,1423.1 L950.4,1423.1ZM960.6,1511.8 L950.4,1529.6 L929.9,1529.6 L919.6,1511.8 L929.9,1494.1 L950.4,1494.1ZM960.6,1582.8 L950.4,1600.6 L929.9,1600.6 L919.6,1582.8 L929.9,1565.1 L950.4,1565.1ZM960.6,1653.8 L950.4,1671.6 L929.9,1671.6 L919.6,1653.8 L929.9,1636.1 L950.4,1636.1ZM960.6,1724.9 L950.4,1742.6 L929.9,1742.6 L919.6,1724.9 L929.9,1707.1 L950.4,1707.1Z" fill="none" stroke="#000" stroke-width="1" clip-path="url(#hp1)"/>
<path d="M657.7,1353.5 L892,1625.1 A244.4,84 0 1 1 423.4,1625.1 Z" fill="none" stroke="#000" stroke-width="1"/>
<path d="M1575.7,1675.6 L1569.8,1685.9 L1557.8,1685.9 L1551.9,1675.6 L1557.8,1665.3 L1569.8,1665.3ZM1575.7,1716.8 L1569.8,1727.1 L1557.8,1727.1 L1551.9,1716.8 L1557.8,1706.5 L1569.8,1706.5ZM1575.7,1758 L1569.8,1768.3 L1557.8,1768.3 L1551.9,1758 L1557.8,1747.7 L1569.8,1747.7ZM1575.7,1799.2 L1569.8,1809.5 L1557.8,1809.5 L1551.9,1799.2 L1557.8,1788.9 L1569.8,1788.9ZM1575.7,1840.5 L1569.8,1850.8 L1557.8,1850.8 L1551.9,1840.5 L1557.8,1830.2 L1569.8,1830.2ZM1575.7,1881.7 L1569.8,1892 L1557.8,1892 L1551.9,1881.7 L1557.8,1871.4 L1569.8,1871.4ZM1575.7,1922.9 L1569.8,1933.2 L1557.8,1933.2 L1551.9,1922.9 L1557.8,1912.6 L1569.8,1912.6ZM1611.4,1696.2 L1605.5,1706.5 L1593.5,1706.5 L1587.6,1696.2 L1593.5,1685.9 L1605.5,1685.9ZM1611.4,1737.4 L1605.5,1747.7 L1593.5,1747.7 L1587.6,1737.4 L1593.5,1727.1 L1605.5,1727.1ZM1611.4,1778.6 L1605.5,1788.9 L1593.5,1788.9 L1587.6,1778.6 L1593.5,1768.3 L1605.5,1768.3ZM1611.4,1819.8 L1605.5,1830.2 L1593.5,1830.2 L1587.6,1819.8 L1593.5,1809.5 L1605.5,1809.5ZM1611.4,1861.1 L1605.5,1871.4 L1593.5,1871.4 L1587.6,1861.1 L1593.5,1850.8 L1605.5,1850.8ZM1611.4,1902.3 L1605.5,1912.6 L1593.5,1912.6 L1587.6,1902.3 L1593.5,1892 L1605.5,1892ZM1611.4,1943.5 L1605.5,1953.8 L1593.5,1953.8 L1587.6,1943.5 L1593.5,1933.2 L1605.5,1933.2ZM1647.1,1675.6 L1641.2,1685.9 L1629.2,1685.9 L1623.3,1675.6 L1629.2,1665.3 L1641.2,1665.3ZM1647.1,1716.8 L1641.2,1727.1 L1629.2,1727.1 L1623.3,1716.8 L1629.2,1706.5 L1641.2,1706.5ZM1647.1,1758 L1641.2,1768.3 L1629.2,1768.3 L1623.3,1758 L1629.2,1747.7 L1641.2,1747.7ZM1647.1,1799.2 L1641.2,1809.5 L1629.2,1809.5 L1623.3,1799.2 L1629.2,1788.9 L1641.2,1788.9ZM1647.1,1840.5 L1641.2,1850.8 L1629.2,1850.8 L1623.3,1840.5 L1629.2,1830.2 L1641.2,1830.2ZM1647.1,1881.7 L1641.2,1892 L1629.2,1892 L1623.3,1881.7 L1629.2,1871.4 L1641.2,1871.4ZM1647.1,1922.9 L1641.2,1933.2 L1629.2,1933.2 L1623.3,1922.9 L1629.2,1912.6 L1641.2,1912.6ZM1682.8,1696.2 L1676.8,1706.5 L1664.9,1706.5 L1659,1696.2 L1664.9,1685.9 L1676.8,1685.9ZM1682.8,1737.4 L1676.8,1747.7 L1664.9,1747.7 L1659,1737.4 L1664.9,1727.1 L1676.8,1727.1ZM1682.8,1778.6 L1676.8,1788.9 L1664.9,1788.9 L1659,1778.6 L1664.9,1768.3 L1676.8,1768.3ZM1682.8,1819.8 L1676.8,1830.2 L1664.9,1830.2 L1659,1819.8 L1664.9,1809.5 L1676.8,1809.5ZM1682.8,1861.1 L1676.8,1871.4 L1664.9,1871.4 L1659,1861.1 L1664.9,1850.8 L1676.8,1850.8ZM1682.8,1902.3 L1676.8,1912.6 L1664.9,1912.6 L1659,1902.3 L1664.9,1892 L1676.8,1892ZM1682.8,1943.5 L1676.8,1953.8 L1664.9,1953.8 L1659,1943.5 L1664.9,1933.2 L1676.8,1933.2ZM1718.5,1675.6 L1712.5,1685.9 L1700.6,1685.9 L1694.7,1675.6 L1700.6,1665.3 L1712.5,1665.3ZM1718.5,1716.8 L1712.5,1727.1 L1700.6,1727.1 L1694.7,1716.8 L1700.6,1706.5 L1712.5,1706.5ZM1718.5,1758 L1712.5,1768.3 L1700.6,1768.3 L1694.7,1758 L1700.6,1747.7 L1712.5,1747.7ZM1718.5,1799.2 L1712.5,1809.5 L1700.6,1809.5 L1694.7,1799.2 L1700.6,1788.9 L1712.5,1788.9ZM1718.5,1840.5 L1712.5,1850.8 L1700.6,1850.8 L1694.7,1840.5 L1700.6,1830.2 L1712.5,1830.2ZM1718.5,1881.7 L1712.5,1892 L1700.6,1892 L1694.7,1881.7 L1700.6,1871.4 L1712.5,1871.4ZM1718.5,1922.9 L1712.5,1933.2 L1700.6,1933.2 L1694.7,1922.9 L1700.6,1912.6 L1712.5,1912.6ZM1754.2,1696.2 L1748.2,1706.5 L1736.3,1706.5 L1730.4,1696.2 L1736.3,1685.9 L1748.2,1685.9ZM1754.2,1737.4 L1748.2,1747.7 L1736.3,1747.7 L1730.4,1737.4 L1736.3,1727.1 L1748.2,1727.1ZM1754.2,1778.6 L1748.2,1788.9 L1736.3,1788.9 L1730.4,1778.6 L1736.3,1768.3 L1748.2,1768.3ZM1754.2,1819.8 L1748.2,1830.2 L1736.3,1830.2 L1730.4,1819.8 L1736.3,1809.5 L1748.2,1809.5ZM1754.2,1861.1 L1748.2,1871.4 L1736.3,1871.4 L1730.4,1861.1 L1736.3,1850.8 L1748.2,1850.8ZM1754.2,1902.3 L1748.2,1912.6 L1736.3,1912.6 L1730.4,1902.3 L1736.3,1892 L1748.2,1892ZM1754.2,1943.5 L1748.2,1953.8 L1736.3,1953.8 L1730.4,1943.5 L1736.3,1933.2 L1748.2,1933.2ZM1789.9,1675.6 L1784,1685.9 L1772,1685.9 L1766.1,1675.6 L1772,1665.3 L1784,1665.3ZM1789.9,1716.8 L1784,1727.1 L1772,1727.1 L1766.1,1716.8 L1772,1706.5 L1784,1706.5ZM1789.9,1758 L1784,1768.3 L1772,1768.3 L1766.1,1758 L1772,1747.7 L1784,1747.7ZM1789.9,1799.2 L1784,1809.5 L1772,1809.5 L1766.1,1799.2 L1772,1788.9 L1784,1788.9ZM1789.9,1840.5 L1784,1850.8 L1772,1850.8 L1766.1,1840.5 L1772,1830.2 L1784,1830.2ZM1789.9,1881.7 L1784,1892 L1772,1892 L1766.1,1881.7 L1772,1871.4 L1784,1871.4ZM1789.9,1922.9 L1784,1933.2 L1772,1933.2 L1766.1,1922.9 L1772,1912.6 L1784,1912.6ZM1825.6,1696.2 L1819.7,1706.5 L1807.8,1706.5 L1801.8,1696.2 L1807.8,1685.9 L1819.7,1685.9ZM1825.6,1737.4 L1819.7,1747.7 L1807.8,1747.7 L1801.8,1737.4 L1807.8,1727.1 L1819.7,1727.1ZM1825.6,1778.6 L1819.7,1788.9 L1807.8,1788.9 L1801.8,1778.6 L1807.8,1768.3 L1819.7,1768.3ZM1825.6,1819.8 L1819.7,1830.2 L1807.8,1830.2 L1801.8,1819.8 L1807.8,1809.5 L1819.7,1809.5ZM1825.6,1861.1 L1819.7,1871.4 L1807.8,1871.4 L1801.8,1861.1 L1807.8,1850.8 L1819.7,1850.8ZM1825.6,1902.3 L1819.7,1912.6 L1807.8,1912.6 L1801.8,1902.3 L1807.8,1892 L1819.7,1892ZM1825.6,1943.5 L1819.7,1953.8 L1807.8,1953.8 L1801.8,1943.5 L1807.8,1933.2 L1819.7,1933.2ZM1861.3,1675.6 L1855.3,1685.9 L1843.4,1685.9 L1837.5,1675.6 L1843.4,1665.3 L1855.3,1665.3ZM1861.3,1716.8 L1855.3,1727.1 L1843.4,1727.1 L1837.5,1716.8 L1843.4,1706.5 L1855.3,1706.5ZM1861.3,1758 L1855.3,1768.3 L1843.4,1768.3 L1837.5,1758 L1843.4,1747.7 L1855.3,1747.7ZM1861.3,1799.2 L1855.3,1809.5 L1843.4,1809.5 L1837.5,1799.2 L1843.4,1788.9 L1855.3,1788.9ZM1861.3,1840.5 L1855.3,1850.8 L1843.4,1850.8 L1837.5,1840.5 L1843.4,1830.2 L1855.3,1830.2ZM1861.3,1881.7 L1855.3,1892 L1843.4,1892 L1837.5,1881.7 L1843.4,1871.4 L1855.3,1871.4ZM1861.3,1922.9 L1855.3,1933.2 L1843.4,1933.2 L1837.5,1922.9 L1843.4,1912.6 L1855.3,1912.6ZM1897,1696.2 L1891,1706.5 L1879.1,1706.5 L1873.2,1696.2 L1879.1,1685.9 L1891,1685.9ZM1897,1737.4 L1891,1747.7 L1879.1,1747.7 L1873.2,1737.4 L1879.1,1727.1 L1891,1727.1ZM1897,1778.6 L1891,1788.9 L1879.1,1788.9 L1873.2,1778.6 L1879.1,1768.3 L1891,1768.3ZM1897,1819.8 L1891,1830.2 L1879.1,1830.2 L1873.2,1819.8 L1879.1,1809.5 L1891,1809.5ZM1897,1861.1 L1891,1871.4 L1879.1,1871.4 L1873.2,1861.1 L1879.1,1850.8 L1891,1850.8ZM1897,1902.3 L1891,1912.6 L1879.1,1912.6 L1873.2,1902.3 L1879.1,1892 L1891,1892ZM1897,1943.5 L1891,1953.8 L1879.1,1953.8 L1873.2,1943.5 L1879.1,1933.2 L1891,1933.2Z" fill="none" stroke="#000" stroke-width="1" clip-path="url(#hp2)"/>
<path d="M1735.4,1687.2 L1882.3,1856.9 A153,51.6 0 1 1 1588.5,1856.9 Z" fill="none" stroke="#000" stroke-width="1"/>
<path d="M2732.9,1867.6 L2730.4,1871.9 L2725.5,1871.9 L2723,1867.6 L2725.5,1863.3 L2730.4,1863.3ZM2732.9,1884.8 L2730.4,1889.1 L2725.5,1889.1 L2723,1884.8 L2725.5,1880.5 L2730.4,1880.5ZM2732.9,1902 L2730.4,1906.3 L2725.5,1906.3 L2723,1902 L2725.5,1897.7 L2730.4,1897.7ZM2732.9,1919.2 L2730.4,1923.5 L2725.5,1923.5 L2723,1919.2 L2725.5,1914.9 L2730.4,1914.9ZM2732.9,1936.4 L2730.4,1940.8 L2725.5,1940.8 L2723,1936.4 L2725.5,1932.1 L2730.4,1932.1ZM2732.9,1953.7 L2730.4,1958 L2725.5,1958 L2723,1953.7 L2725.5,1949.4 L2730.4,1949.4ZM2732.9,1970.9 L2730.4,1975.2 L2725.5,1975.2 L2723,1970.9 L2725.5,1966.6 L2730.4,1966.6ZM2732.9,1988.1 L2730.4,1992.4 L2725.5,1992.4 L2723,1988.1 L2725.5,1983.8 L2730.4,1983.8ZM2732.9,2005.3 L2730.4,2009.6 L2725.5,2009.6 L2723,2005.3 L2725.5,2001 L2730.4,2001ZM2732.9,2022.5 L2730.4,2026.8 L2725.5,2026.8 L2723,2022.5 L2725.5,2018.2 L2730.4,2018.2ZM2747.8,1876.2 L2745.3,1880.5 L2740.4,1880.5 L2737.9,1876.2 L2740.4,1871.9 L2745.3,1871.9ZM2747.8,1893.4 L2745.3,1897.7 L2740.4,1897.7 L2737.9,1893.4 L2740.4,1889.1 L2745.3,1889.1ZM2747.8,1910.6 L2745.3,1914.9 L2740.4,1914.9 L2737.9,1910.6 L2740.4,1906.3 L2745.3,1906.3ZM2747.8,1927.8 L2745.3,1932.1 L2740.4,1932.1 L2737.9,1927.8 L2740.4,1923.5 L2745.3,1923.5ZM2747.8,1945.1 L2745.3,1949.4 L2740.4,1949.4 L2737.9,1945.1 L2740.4,1940.8 L2745.3,1940.8ZM2747.8,1962.3 L2745.3,1966.6 L2740.4,1966.6 L2737.9,1962.3 L2740.4,1958 L2745.3,1958ZM2747.8,1979.5 L2745.3,1983.8 L2740.4,1983.8 L2737.9,1979.5 L2740.4,1975.2 L2745.3,1975.2ZM2747.8,1996.7 L2745.3,2001 L2740.4,2001 L2737.9,1996.7 L2740.4,1992.4 L2745.3,1992.4ZM2747.8,2013.9 L2745.3,2018.2 L2740.4,2018.2 L2737.9,2013.9 L2740.4,2009.6 L2745.3,2009.6ZM2762.7,1867.6 L2760.2,1871.9 L2755.3,1871.9 L2752.8,1867.6 L2755.3,1863.3 L2760.2,1863.3ZM2762.7,1884.8 L2760.2,1889.1 L2755.3,1889.1 L2752.8,1884.8 L2755.3,1880.5 L2760.2,1880.5ZM2762.7,1902 L2760.2,1906.3 L2755.3,1906.3 L2752.8,1902 L2755.3,1897.7 L2760.2,1897.7ZM2762.7,1919.2 L2760.2,1923.5 L2755.3,1923.5 L2752.8,1919.2 L2755.3,1914.9 L2760.2,1914.9ZM2762.7,1936.4 L2760.2,1940.8 L2755.3,1940.8 L2752.8,1936.4 L2755.3,1932.1 L2760.2,1932.1ZM2762.7,1953.7 L2760.2,1958 L2755.3,1958 L2752.8,1953.7 L2755.3,1949.4 L2760.2,1949.4ZM2762.7,1970.9 L2760.2,1975.2 L2755.3,1975.2 L2752.8,1970.9 L2755.3,1966.6 L2760.2,1966.6ZM2762.7,1988.1 L2760.2,1992.4 L2755.3,1992.4 L2752.8,1988.1 L2755.3,1983.8 L2760.2,1983.8ZM2762.7,2005.3 L2760.2,2009.6 L2755.3,2009.6 L2752.8,2005.3 L2755.3,2001 L2760.2,2001ZM2762.7,2022.5 L2760.2,2026.8 L2755.3,2026.8 L2752.8,2022.5 L2755.3,2018.2 L2760.2,2018.2ZM2777.6,1876.2 L2775.2,1880.5 L2770.2,1880.5 L2767.7,1876.2 L2770.2,1871.9 L2775.2,1871.9ZM2777.6,1893.4 L2775.2,1897.7 L2770.2,1897.7 L2767.7,1893.4 L2770.2,1889.1 L2775.2,1889.1ZM2777.6,1910.6 L2775.2,1914.9 L2770.2,1914.9 L2767.7,1910.6 L2770.2,1906.3 L2775.2,1906.3ZM2777.6,1927.8 L2775.2,1932.1 L2770.2,1932.1 L2767.7,1927.8 L2770.2,1923.5 L2775.2,1923.5ZM2777.6,1945.1 L2775.2,1949.4 L2770.2,1949.4 L2767.7,1945.1 L2770.2,1940.8 L2775.2,1940.8ZM2777.6,1962.3 L2775.2,1966.6 L2770.2,1966.6 L2767.7,1962.3 L2770.2,1958 L2775.2,1958ZM2777.6,1979.5 L2775.2,1983.8 L2770.2,1983.8 L2767.7,1979.5 L2770.2,1975.2 L2775.2,1975.2ZM2777.6,1996.7 L2775.2,2001 L2770.2,2001 L2767.7,1996.7 L2770.2,1992.4 L2775.2,1992.4ZM2777.6,2013.9 L2775.2,2018.2 L2770.2,2018.2 L2767.7,2013.9 L2770.2,2009.6 L2775.2,2009.6ZM2792.5,1867.6 L2790.1,1871.9 L2785.1,1871.9 L2782.6,1867.6 L2785.1,1863.3 L2790.1,1863.3ZM2792.5,1884.8 L2790.1,1889.1 L2785.1,1889.1 L2782.6,1884.8 L2785.1,1880.5 L2790.1,1880.5ZM2792.5,1902 L2790.1,1906.3 L2785.1,1906.3 L2782.6,1902 L2785.1,1897.7 L2790.1,1897.7ZM2792.5,1919.2 L2790.1,1923.5 L2785.1,1923.5 L2782.6,1919.2 L2785.1,1914.9 L2790.1,1914.9ZM2792.5,1936.4 L2790.1,1940.8 L2785.1,1940.8 L2782.6,1936.4 L2785.1,1932.1 L2790.1,1932.1ZM2792.5,1953.7 L2790.1,1958 L2785.1,1958 L2782.6,1953.7 L2785.1,1949.4 L2790.1,1949.4ZM2792.5,1970.9 L2790.1,1975.2 L2785.1,1975.2 L2782.6,1970.9 L2785.1,1966.6 L2790.1,1966.6ZM2792.5,1988.1 L2790.1,1992.4 L2785.1,1992.4 L2782.6,1988.1 L2785.1,1983.8 L2790.1,1983.8ZM2792.5,2005.3 L2790.1,2009.6 L2785.1,2009.6 L2782.6,2005.3 L2785.1,2001 L2790.1,2001ZM2792.5,2022.5 L2790.1,2026.8 L2785.1,2026.8 L2782.6,2022.5 L2785.1,2018.2 L2790.1,2018.2ZM2807.5,1876.2 L2805,1880.5 L2800,1880.5 L2797.5,1876.2 L2800,1871.9 L2805,1871.9ZM2807.5,1893.4 L2805,1897.7 L2800,1897.7 L2797.5,1893.4 L2800,1889.1 L2805,1889.1ZM2807.5,1910.6 L2805,1914.9 L2800,1914.9 L2797.5,1910.6 L2800,1906.3 L2805,1906.3ZM2807.5,1927.8 L2805,1932.1 L2800,1932.1 L2797.5,1927.8 L2800,1923.5 L2805,1923.5ZM2807.5,1945.1 L2805,1949.4 L2800,1949.4 L2797.5,1945.1 L2800,1940.8 L2805,1940.8ZM2807.5,1962.3 L2805,1966.6 L2800,1966.6 L2797.5,1962.3 L2800,1958 L2805,1958ZM2807.5,1979.5 L2805,1983.8 L2800,1983.8 L2797.5,1979.5 L2800,1975.2 L2805,1975.2ZM2807.5,1996.7 L2805,2001 L2800,2001 L2797.5,1996.7 L2800,1992.4 L2805,1992.4ZM2807.5,2013.9 L2805,2018.2 L2800,2018.2 L2797.5,2013.9 L2800,2009.6 L2805,2009.6ZM2822.4,1867.6 L2819.9,1871.9 L2814.9,1871.9 L2812.4,1867.6 L2814.9,1863.3 L2819.9,1863.3ZM2822.4,1884.8 L2819.9,1889.1 L2814.9,1889.1 L2812.4,1884.8 L2814.9,1880.5 L2819.9,1880.5ZM2822.4,1902 L2819.9,1906.3 L2814.9,1906.3 L2812.4,1902 L2814.9,1897.7 L2819.9,1897.7ZM2822.4,1919.2 L2819.9,1923.5 L2814.9,1923.5 L2812.4,1919.2 L2814.9,1914.9 L2819.9,1914.9ZM2822.4,1936.4 L2819.9,1940.8 L2814.9,1940.8 L2812.4,1936.4 L2814.9,1932.1 L2819.9,1932.1ZM2822.4,1953.7 L2819.9,1958 L2814.9,1958 L2812.4,1953.7 L2814.9,1949.4 L2819.9,1949.4ZM2822.4,1970.9 L2819.9,1975.2 L2814.9,1975.2 L2812.4,1970.9 L2814.9,1966.6 L2819.9,1966.6ZM2822.4,1988.1 L2819.9,1992.4 L2814.9,1992.4 L2812.4,1988.1 L2814.9,1983.8 L2819.9,1983.8ZM2822.4,2005.3 L2819.9,2009.6 L2814.9,2009.6 L2812.4,2005.3 L2814.9,2001 L2819.9,2001ZM2822.4,2022.5 L2819.9,2026.8 L2814.9,2026.8 L2812.4,2022.5 L2814.9,2018.2 L2819.9,2018.2ZM2837.3,1876.2 L2834.8,1880.5 L2829.8,1880.5 L2827.3,1876.2 L2829.8,1871.9 L2834.8,1871.9ZM2837.3,1893.4 L2834.8,1897.7 L2829.8,1897.7 L2827.3,1893.4 L2829.8,1889.1 L2834.8,1889.1ZM2837.3,1910.6 L2834.8,1914.9 L2829.8,1914.9 L2827.3,1910.6 L2829.8,1906.3 L2834.8,1906.3ZM2837.3,1927.8 L2834.8,1932.1 L2829.8,1932.1 L2827.3,1927.8 L2829.8,1923.5 L2834.8,1923.5ZM2837.3,1945.1 L2834.8,1949.4 L2829.8,1949.4 L2827.3,1945.1 L2829.8,1940.8 L2834.8,1940.8ZM2837.3,1962.3 L2834.8,1966.6 L2829.8,1966.6 L2827.3,1962.3 L2829.8,1958 L2834.8,1958ZM2837.3,1979.5 L2834.8,1983.8 L2829.8,1983.8 L2827.3,1979.5 L2829.8,1975.2 L2834.8,1975.2ZM2837.3,1996.7 L2834.8,2001 L2829.8,2001 L2827.3,1996.7 L2829.8,1992.4 L2834.8,1992.4ZM2837.3,2013.9 L2834.8,2018.2 L2829.8,2018.2 L2827.3,2013.9 L2829.8,2009.6 L2834.8,2009.6ZM2852.2,1867.6 L2849.7,1871.9 L2844.7,1871.9 L2842.3,1867.6 L2844.7,1863.3 L2849.7,1863.3ZM2852.2,1884.8 L2849.7,1889.1 L2844.7,1889.1 L2842.3,1884.8 L2844.7,1880.5 L2849.7,1880.5ZM2852.2,1902 L2849.7,1906.3 L2844.7,1906.3 L2842.3,1902 L2844.7,1897.7 L2849.7,1897.7ZM2852.2,1919.2 L2849.7,1923.5 L2844.7,1923.5 L2842.3,1919.2 L2844.7,1914.9 L2849.7,1914.9ZM2852.2,1936.4 L2849.7,1940.8 L2844.7,1940.8 L2842.3,1936.4 L2844.7,1932.1 L2849.7,1932.1ZM2852.2,1953.7 L2849.7,1958 L2844.7,1958 L2842.3,1953.7 L2844.7,1949.4 L2849.7,1949.4ZM2852.2,1970.9 L2849.7,1975.2 L2844.7,1975.2 L2842.3,1970.9 L2844.7,1966.6 L2849.7,1966.6ZM2852.2,1988.1 L2849.7,1992.4 L2844.7,1992.4 L2842.3,1988.1 L2844.7,1983.8 L2849.7,1983.8ZM2852.2,2005.3 L2849.7,2009.6 L2844.7,2009.6 L2842.3,2005.3 L2844.7,2001 L2849.7,2001ZM2852.2,2022.5 L2849.7,2026.8 L2844.7,2026.8 L2842.3,2022.5 L2844.7,2018.2 L2849.7,2018.2ZM2867.1,1876.2 L2864.6,1880.5 L2859.6,1880.5 L2857.2,1876.2 L2859.6,1871.9 L2864.6,1871.9ZM2867.1,1893.4 L2864.6,1897.7 L2859.6,1897.7 L2857.2,1893.4 L2859.6,1889.1 L2864.6,1889.1ZM2867.1,1910.6 L2864.6,1914.9 L2859.6,1914.9 L2857.2,1910.6 L2859.6,1906.3 L2864.6,1906.3ZM2867.1,1927.8 L2864.6,1932.1 L2859.6,1932.1 L2857.2,1927.8 L2859.6,1923.5 L2864.6,1923.5ZM2867.1,1945.1 L2864.6,1949.4 L2859.6,1949.4 L2857.2,1945.1 L2859.6,1940.8 L2864.6,1940.8ZM2867.1,1962.3 L2864.6,1966.6 L2859.6,1966.6 L2857.2,1962.3 L2859.6,1958 L2864.6,1958ZM2867.1,1979.5 L2864.6,1983.8 L2859.6,1983.8 L2857.2,1979.5 L2859.6,1975.2 L2864.6,1975.2ZM2867.1,1996.7 L2864.6,2001 L2859.6,2001 L2857.2,1996.7 L2859.6,1992.4 L2864.6,1992.4ZM2867.1,2013.9 L2864.6,2018.2 L2859.6,2018.2 L2857.2,2013.9 L2859.6,2009.6 L2864.6,2009.6ZM2882,1867.6 L2879.5,1871.9 L2874.6,1871.9 L2872.1,1867.6 L2874.6,1863.3 L2879.5,1863.3ZM2882,1884.8 L2879.5,1889.1 L2874.6,1889.1 L2872.1,1884.8 L2874.6,1880.5 L2879.5,1880.5ZM2882,1902 L2879.5,1906.3 L2874.6,1906.3 L2872.1,1902 L2874.6,1897.7 L2879.5,1897.7ZM2882,1919.2 L2879.5,1923.5 L2874.6,1923.5 L2872.1,1919.2 L2874.6,1914.9 L2879.5,1914.9ZM2882,1936.4 L2879.5,1940.8 L2874.6,1940.8 L2872.1,1936.4 L2874.6,1932.1 L2879.5,1932.1ZM2882,1953.7 L2879.5,1958 L2874.6,1958 L2872.1,1953.7 L2874.6,1949.4 L2879.5,1949.4ZM2882,1970.9 L2879.5,1975.2 L2874.6,1975.2 L2872.1,1970.9 L2874.6,1966.6 L2879.5,1966.6ZM2882,1988.1 L2879.5,1992.4 L2874.6,1992.4 L2872.1,1988.1 L2874.6,1983.8 L2879.5,1983.8ZM2882,2005.3 L2879.5,2009.6 L2874.6,2009.6 L2872.1,2005.3 L2874.6,2001 L2879.5,2001ZM2882,2022.5 L2879.5,2026.8 L2874.6,2026.8 L2872.1,2022.5 L2874.6,2018.2 L2879.5,2018.2ZM2896.9,1876.2 L2894.4,1880.5 L2889.5,1880.5 L2887,1876.2 L2889.5,1871.9 L2894.4,1871.9ZM2896.9,1893.4 L2894.4,1897.7 L2889.5,1897.7 L2887,1893.4 L2889.5,1889.1 L2894.4,1889.1ZM2896.9,1910.6 L2894.4,1914.9 L2889.5,1914.9 L2887,1910.6 L2889.5,1906.3 L2894.4,1906.3ZM2896.9,1927.8 L2894.4,1932.1 L2889.5,1932.1 L2887,1927.8 L2889.5,1923.5 L2894.4,1923.5ZM2896.9,1945.1 L2894.4,1949.4 L2889.5,1949.4 L2887,1945.1 L2889.5,1940.8 L2894.4,1940.8ZM2896.9,1962.3 L2894.4,1966.6 L2889.5,1966.6 L2887,1962.3 L2889.5,1958 L2894.4,1958ZM2896.9,1979.5 L2894.4,1983.8 L2889.5,1983.8 L2887,1979.5 L2889.5,1975.2 L2894.4,1975.2ZM2896.9,1996.7 L2894.4,2001 L2889.5,2001 L2887,1996.7 L2889.5,1992.4 L2894.4,1992.4ZM2896.9,2013.9 L2894.4,2018.2 L2889.5,2018.2 L2887,2013.9 L2889.5,2009.6 L2894.4,2009.6ZM2911.8,1867.6 L2909.3,1871.9 L2904.4,1871.9 L2901.9,1867.6 L2904.4,1863.3 L2909.3,1863.3ZM2911.8,1884.8 L2909.3,1889.1 L2904.4,1889.1 L2901.9,1884.8 L2904.4,1880.5 L2909.3,1880.5ZM2911.8,1902 L2909.3,1906.3 L2904.4,1906.3 L2901.9,1902 L2904.4,1897.7 L2909.3,1897.7ZM2911.8,1919.2 L2909.3,1923.5 L2904.4,1923.5 L2901.9,1919.2 L2904.4,1914.9 L2909.3,1914.9ZM2911.8,1936.4 L2909.3,1940.8 L2904.4,1940.8 L2901.9,1936.4 L2904.4,1932.1 L2909.3,1932.1ZM2911.8,1953.7 L2909.3,1958 L2904.4,1958 L2901.9,1953.7 L2904.4,1949.4 L2909.3,1949.4ZM2911.8,1970.9 L2909.3,1975.2 L2904.4,1975.2 L2901.9,1970.9 L2904.4,1966.6 L2909.3,1966.6ZM2911.8,1988.1 L2909.3,1992.4 L2904.4,1992.4 L2901.9,1988.1 L2904.4,1983.8 L2909.3,1983.8ZM2911.8,2005.3 L2909.3,2009.6 L2904.4,2009.6 L2901.9,2005.3 L2904.4,2001 L2909.3,2001ZM2911.8,2022.5 L2909.3,2026.8 L2904.4,2026.8 L2901.9,2022.5 L2904.4,2018.2 L2909.3,2018.2Z" fill="none" stroke="#000" stroke-width="1" clip-path="url(#hp3)"/>
<path d="M2818.5,1876.9 L2906.8,1979.4 A92,31 0 1 1 2730.2,1979.4 Z" fill="none" stroke="#000" stroke-width="1"/>
<g transform="translate(330.9 570.7)">
<path d="M0,114 L122.9,339.2 L222,280.4" fill="none" stroke="#000" stroke-width="1" />
<path d="M70.9,-18.6 L74.5,-19.6 L295.8,146.8 L292.2,147.8Z" fill="#fff" stroke="#000" stroke-width="1" />
<path d="M2.2,20L224.9,186.3M8.4,18.5L231.1,184.9M14.5,17.1L237.3,183.4M20.7,15.6L243.4,182M26.9,14.2L249.6,180.5M33.1,12.7L255.8,179.1M39.2,11.3L262,177.6M45.4,9.8L268.2,176.2M51.6,8.4L274.4,174.7M57.8,6.9L280.5,173.3M63.9,5.5L286.7,171.8M70.1,4L292.9,170.4M2.2,20L70.1,4M11.9,27.2L79.8,11.2M21.6,34.5L89.5,18.5M31.2,41.7L99.2,25.7M40.9,48.9L108.8,32.9M50.6,56.2L118.5,40.2M60.3,63.4L128.2,47.4M70,70.6L137.9,54.6M79.7,77.8L147.6,61.9M89.3,85.1L157.3,69.1M99,92.3L167,76.3M108.7,99.5L176.7,83.6M118.4,106.8L186.3,90.8M128.1,114L196,98.1M137.8,121.2L205.7,105.3M147.4,128.5L215.4,112.5M157.1,135.7L225.1,119.8M166.8,142.9L234.8,127M176.5,150.1L244.5,134.2M186.2,157.4L254.2,141.5M195.9,164.6L263.8,148.7M205.5,171.8L273.5,155.9M215.2,179.1L283.2,163.2M224.9,186.3L292.9,170.4" fill="none" stroke="#000" stroke-width="1" clip-path="url(#mc1)"/>
<path d="M2.2,101.4L224.9,267.7M4.8,100.8L227.5,267.1M7.4,100.2L230.1,266.5M10,99.6L232.7,265.9M12.6,98.9L235.4,265.3M15.3,98.3L238,264.6M17.9,97.7L240.6,264M20.5,97.1L243.2,263.4M23.1,96.5L245.8,262.8M25.7,95.9L248.4,262.2M28.3,95.2L251.1,261.6M30.9,94.6L253.7,261M33.5,94L256.3,260.4M36.1,93.4L258.9,259.8M38.8,92.8L261.5,259.1M41.4,92.2L264.1,258.5M44,91.6L266.7,257.9M46.6,90.9L269.4,257.3M49.2,90.3L272,256.7M51.8,89.7L274.6,256.1M54.4,89.1L277.2,255.5M57,88.5L279.8,254.9M59.7,87.9L282.4,254.2M62.3,87.2L285.1,253.6M64.9,86.6L287.7,253M67.5,86L290.3,252.4M70.1,85.4L292.9,251.8M2.2,101.4L70.1,85.4M5,103.5L72.9,87.5M7.8,105.6L75.7,89.6M10.6,107.6L78.5,91.6M13.3,109.7L81.2,93.7M16.1,111.8L84,95.8M18.9,113.9L86.8,97.9M21.7,116L89.6,100M24.5,118L92.4,102M27.3,120.1L95.2,104.1M30,122.2L97.9,106.2M32.8,124.3L100.7,108.3M35.6,126.3L103.5,110.4M38.4,128.4L106.3,112.4M41.2,130.5L109.1,114.5M44,132.6L111.9,116.6M46.7,134.7L114.7,118.7M49.5,136.7L117.4,120.8M52.3,138.8L120.2,122.8M55.1,140.9L123,124.9M57.9,143L125.8,127M60.7,145.1L128.6,129.1M63.4,147.1L131.4,131.2M66.2,149.2L134.2,133.2M69,151.3L136.9,135.3M71.8,153.4L139.7,137.4M74.6,155.4L142.5,139.5M77.4,157.5L145.3,141.6M80.1,159.6L148.1,143.6M82.9,161.7L150.9,145.7M85.7,163.8L153.6,147.8M88.5,165.8L156.4,149.9M91.3,167.9L159.2,152M94.1,170L162,154M96.8,172.1L164.8,156.1M99.6,174.2L167.6,158.2M102.4,176.2L170.4,160.3M105.2,178.3L173.1,162.4M108,180.4L175.9,164.4M110.8,182.5L178.7,166.5M113.6,184.6L181.5,168.6M116.3,186.6L184.3,170.7M119.1,188.7L187.1,172.8M121.9,190.8L189.9,174.8M124.7,192.9L192.6,176.9M127.5,194.9L195.4,179M130.3,197L198.2,181.1M133,199.1L201,183.2M135.8,201.2L203.8,185.2M138.6,203.3L206.6,187.3M141.4,205.3L209.3,189.4M144.2,207.4L212.1,191.5M147,209.5L214.9,193.6M149.7,211.6L217.7,195.6M152.5,213.7L220.5,197.7M155.3,215.7L223.3,199.8M158.1,217.8L226.1,201.9M160.9,219.9L228.8,204M163.7,222L231.6,206M166.4,224L234.4,208.1M169.2,226.1L237.2,210.2M172,228.2L240,212.3M174.8,230.3L242.8,214.4M177.6,232.4L245.6,216.4M180.4,234.4L248.3,218.5M183.1,236.5L251.1,220.6M185.9,238.6L253.9,222.7M188.7,240.7L256.7,224.8M191.5,242.8L259.5,226.8M194.3,244.8L262.3,228.9M197.1,246.9L265,231M199.8,249L267.8,233.1M202.6,251.1L270.6,235.2M205.4,253.1L273.4,237.2M208.2,255.2L276.2,239.3M211,257.3L279,241.4M213.8,259.4L281.8,243.5M216.5,261.5L284.5,245.6M219.3,263.5L287.3,247.6M222.1,265.6L290.1,249.7M224.9,267.7L292.9,251.8" fill="none" stroke="#000" stroke-width="0.9" clip-path="url(#mc2)"/>
<path d="M224.9,186.3 L292.9,170.4 L292.9,173.4 L224.9,189.7Z" fill="#fff" stroke="#000" stroke-width="1" />
<path d="M224.9,267.7 L292.9,251.8 L292.9,254.8 L224.9,271.1Z" fill="#fff" stroke="#000" stroke-width="1" />
<path d="M292.2,147.8 L295.8,146.8 L295.8,263.4 L292.2,263.4Z" fill="#fff" stroke="#000" stroke-width="1" />
<path d="M284,254 L292.2,262.5 L292.2,254" fill="none" stroke="#000" stroke-width="1" />
<path d="M0,0 L70.9,-18.6M1.2,3 L70.9,-15.4" fill="none" stroke="#000" stroke-width="1.3" />
<path d="M70.9,-18.6 L70.9,4.5M73.2,-18.6 L73.2,4" fill="none" stroke="#000" stroke-width="1.3" />
<path d="M0,0 L222,166.2 L222,280.4 L0,114Z" fill="#fff" stroke="#000" stroke-width="1" />
<path d="M0,0 L3.6,-1 L225.6,165.2 L222,166.2Z" fill="#fff" stroke="#000" stroke-width="1" />
<path d="M222,166.2 L225.6,165.2 L225.6,281.9 L222,280.4Z" fill="#fff" stroke="#000" stroke-width="1" />
<path d="M2.9,3 L2.9,115.5" fill="none" stroke="#000" stroke-width="1" />
<path d="M2.9,113 L222,277.2" fill="none" stroke="#000" stroke-width="1" />
<circle cx="13" cy="27.9" r="1.8" fill="#fff" stroke="#000" stroke-width="1.4"/>
<circle cx="23.7" cy="35.9" r="1.8" fill="#fff" stroke="#000" stroke-width="1.4"/>
<circle cx="34.4" cy="43.9" r="1.8" fill="#fff" stroke="#000" stroke-width="1.4"/>
<circle cx="45.1" cy="51.9" r="1.8" fill="#fff" stroke="#000" stroke-width="1.4"/>
<circle cx="55.8" cy="59.9" r="1.8" fill="#fff" stroke="#000" stroke-width="1.4"/>
<circle cx="66.5" cy="67.9" r="1.8" fill="#fff" stroke="#000" stroke-width="1.4"/>
<circle cx="77.2" cy="75.9" r="1.8" fill="#fff" stroke="#000" stroke-width="1.4"/>
<circle cx="87.9" cy="83.9" r="1.8" fill="#fff" stroke="#000" stroke-width="1.4"/>
<circle cx="98.6" cy="91.9" r="1.8" fill="#fff" stroke="#000" stroke-width="1.4"/>
<circle cx="109.3" cy="99.9" r="1.8" fill="#fff" stroke="#000" stroke-width="1.4"/>
<circle cx="120" cy="107.9" r="1.8" fill="#fff" stroke="#000" stroke-width="1.4"/>
<circle cx="130.7" cy="115.9" r="1.8" fill="#fff" stroke="#000" stroke-width="1.4"/>
<circle cx="141.4" cy="123.9" r="1.8" fill="#fff" stroke="#000" stroke-width="1.4"/>
<circle cx="152.1" cy="131.9" r="1.8" fill="#fff" stroke="#000" stroke-width="1.4"/>
<circle cx="162.8" cy="139.9" r="1.8" fill="#fff" stroke="#000" stroke-width="1.4"/>
<circle cx="173.5" cy="147.9" r="1.8" fill="#fff" stroke="#000" stroke-width="1.4"/>
<circle cx="184.2" cy="155.9" r="1.8" fill="#fff" stroke="#000" stroke-width="1.4"/>
<circle cx="194.9" cy="163.9" r="1.8" fill="#fff" stroke="#000" stroke-width="1.4"/>
<circle cx="205.6" cy="171.9" r="1.8" fill="#fff" stroke="#000" stroke-width="1.4"/>
<circle cx="216.3" cy="179.9" r="1.8" fill="#fff" stroke="#000" stroke-width="1.4"/>
<circle cx="13" cy="58.3" r="1.8" fill="#fff" stroke="#000" stroke-width="1.4"/>
<circle cx="23.7" cy="66.3" r="1.8" fill="#fff" stroke="#000" stroke-width="1.4"/>
<circle cx="34.4" cy="74.3" r="1.8" fill="#fff" stroke="#000" stroke-width="1.4"/>
<circle cx="45.1" cy="82.3" r="1.8" fill="#fff" stroke="#000" stroke-width="1.4"/>
<circle cx="55.8" cy="90.3" r="1.8" fill="#fff" stroke="#000" stroke-width="1.4"/>
<circle cx="66.5" cy="98.3" r="1.8" fill="#fff" stroke="#000" stroke-width="1.4"/>
<circle cx="77.2" cy="106.3" r="1.8" fill="#fff" stroke="#000" stroke-width="1.4"/>
<circle cx="87.9" cy="114.3" r="1.8" fill="#fff" stroke="#000" stroke-width="1.4"/>
<circle cx="98.6" cy="122.3" r="1.8" fill="#fff" stroke="#000" stroke-width="1.4"/>
<circle cx="109.3" cy="130.3" r="1.8" fill="#fff" stroke="#000" stroke-width="1.4"/>
<circle cx="120" cy="138.3" r="1.8" fill="#fff" stroke="#000" stroke-width="1.4"/>
<circle cx="130.7" cy="146.3" r="1.8" fill="#fff" stroke="#000" stroke-width="1.4"/>
<circle cx="141.4" cy="154.3" r="1.8" fill="#fff" stroke="#000" stroke-width="1.4"/>
<circle cx="152.1" cy="162.3" r="1.8" fill="#fff" stroke="#000" stroke-width="1.4"/>
<circle cx="162.8" cy="170.3" r="1.8" fill="#fff" stroke="#000" stroke-width="1.4"/>
<circle cx="173.5" cy="178.3" r="1.8" fill="#fff" stroke="#000" stroke-width="1.4"/>
<circle cx="184.2" cy="186.3" r="1.8" fill="#fff" stroke="#000" stroke-width="1.4"/>
<circle cx="194.9" cy="194.3" r="1.8" fill="#fff" stroke="#000" stroke-width="1.4"/>
<circle cx="205.6" cy="202.3" r="1.8" fill="#fff" stroke="#000" stroke-width="1.4"/>
<circle cx="216.3" cy="210.3" r="1.8" fill="#fff" stroke="#000" stroke-width="1.4"/>
<circle cx="13" cy="105.3" r="1.8" fill="#fff" stroke="#000" stroke-width="1.4"/>
<circle cx="23.7" cy="113.3" r="1.8" fill="#fff" stroke="#000" stroke-width="1.4"/>
<circle cx="34.4" cy="121.3" r="1.8" fill="#fff" stroke="#000" stroke-width="1.4"/>
<circle cx="45.1" cy="129.3" r="1.8" fill="#fff" stroke="#000" stroke-width="1.4"/>
<circle cx="55.8" cy="137.3" r="1.8" fill="#fff" stroke="#000" stroke-width="1.4"/>
<circle cx="66.5" cy="145.3" r="1.8" fill="#fff" stroke="#000" stroke-width="1.4"/>
<circle cx="77.2" cy="153.3" r="1.8" fill="#fff" stroke="#000" stroke-width="1.4"/>
<circle cx="87.9" cy="161.3" r="1.8" fill="#fff" stroke="#000" stroke-width="1.4"/>
<circle cx="98.6" cy="169.3" r="1.8" fill="#fff" stroke="#000" stroke-width="1.4"/>
<circle cx="109.3" cy="177.3" r="1.8" fill="#fff" stroke="#000" stroke-width="1.4"/>
<circle cx="120" cy="185.3" r="1.8" fill="#fff" stroke="#000" stroke-width="1.4"/>
<circle cx="130.7" cy="193.3" r="1.8" fill="#fff" stroke="#000" stroke-width="1.4"/>
<circle cx="141.4" cy="201.3" r="1.8" fill="#fff" stroke="#000" stroke-width="1.4"/>
<circle cx="152.1" cy="209.3" r="1.8" fill="#fff" stroke="#000" stroke-width="1.4"/>
<circle cx="162.8" cy="217.3" r="1.8" fill="#fff" stroke="#000" stroke-width="1.4"/>
<circle cx="173.5" cy="225.3" r="1.8" fill="#fff" stroke="#000" stroke-width="1.4"/>
<circle cx="184.2" cy="233.3" r="1.8" fill="#fff" stroke="#000" stroke-width="1.4"/>
<circle cx="194.9" cy="241.3" r="1.8" fill="#fff" stroke="#000" stroke-width="1.4"/>
<circle cx="205.6" cy="249.3" r="1.8" fill="#fff" stroke="#000" stroke-width="1.4"/>
<circle cx="216.3" cy="257.3" r="1.8" fill="#fff" stroke="#000" stroke-width="1.4"/>
<path d="M12.6,33.5h2.4M10.2,41.1h2.4M16,45.5h2.4M23.3,41.5h2.4M18.2,38.5h2.4M34,49.5h2.4M31.6,57.1h2.4M37.4,61.5h2.4M44.7,57.5h2.4M39.6,54.5h2.4M55.4,65.5h2.4M53,73.1h2.4M58.8,77.5h2.4M66.1,73.5h2.4M61,70.5h2.4M76.8,81.5h2.4M74.4,89.1h2.4M80.2,93.5h2.4M87.5,89.5h2.4M82.4,86.5h2.4M98.2,97.5h2.4M95.8,105.1h2.4M101.6,109.5h2.4M108.9,105.5h2.4M103.8,102.5h2.4M119.6,113.5h2.4M117.2,121.1h2.4M123,125.5h2.4M130.3,121.5h2.4M125.2,118.5h2.4M141,129.5h2.4M138.6,137.1h2.4M144.4,141.5h2.4M151.7,137.5h2.4M146.6,134.5h2.4M162.4,145.5h2.4M160,153.1h2.4M165.8,157.5h2.4M173.1,153.5h2.4M168,150.5h2.4M183.8,161.5h2.4M181.4,169.1h2.4M187.2,173.5h2.4M194.5,169.5h2.4M189.4,166.5h2.4M205.2,177.5h2.4M202.8,185.1h2.4M208.6,189.5h2.4M215.9,185.5h2.4M210.8,182.5h2.4M12.6,63.9h2.4M10.2,71.5h2.4M16,75.9h2.4M23.3,71.9h2.4M18.2,68.9h2.4M34,79.9h2.4M31.6,87.5h2.4M37.4,91.9h2.4M44.7,87.9h2.4M39.6,84.9h2.4M55.4,95.9h2.4M53,103.5h2.4M58.8,107.9h2.4M66.1,103.9h2.4M61,100.9h2.4M76.8,111.9h2.4M74.4,119.5h2.4M80.2,123.9h2.4M87.5,119.9h2.4M82.4,116.9h2.4M98.2,127.9h2.4M95.8,135.5h2.4M101.6,139.9h2.4M108.9,135.9h2.4M103.8,132.9h2.4M119.6,143.9h2.4M117.2,151.5h2.4M123,155.9h2.4M130.3,151.9h2.4M125.2,148.9h2.4M141,159.9h2.4M138.6,167.5h2.4M144.4,171.9h2.4M151.7,167.9h2.4M146.6,164.9h2.4M162.4,175.9h2.4M160,183.5h2.4M165.8,187.9h2.4M173.1,183.9h2.4M168,180.9h2.4M183.8,191.9h2.4M181.4,199.5h2.4M187.2,203.9h2.4M194.5,199.9h2.4M189.4,196.9h2.4M205.2,207.9h2.4M202.8,215.5h2.4M208.6,219.9h2.4M215.9,215.9h2.4M210.8,212.9h2.4M12.6,110.9h2.4M23.3,118.9h2.4M18.2,115.9h2.4M34,126.9h2.4M44.7,134.9h2.4M39.6,131.9h2.4M55.4,142.9h2.4M66.1,150.9h2.4M61,147.9h2.4M76.8,158.9h2.4M87.5,166.9h2.4M82.4,163.9h2.4M98.2,174.9h2.4M108.9,182.9h2.4M103.8,179.9h2.4M119.6,190.9h2.4M130.3,198.9h2.4M125.2,195.9h2.4M141,206.9h2.4M151.7,214.9h2.4M146.6,211.9h2.4M162.4,222.9h2.4M173.1,230.9h2.4M168,227.9h2.4M183.8,238.9h2.4M194.5,246.9h2.4M189.4,243.9h2.4M205.2,254.9h2.4M215.9,262.9h2.4M210.8,259.9h2.4" stroke="#000" stroke-width="2.4" fill="none"/>
<rect x="8.5" y="98.5" width="25" height="27" fill="url(#coil)" stroke="#000" stroke-width="1"/>
<path d="M6,98.5 h30 M6,125.5 h30" fill="none" stroke="#000" stroke-width="1.4" />
<path d="M21,98.5 v27" fill="none" stroke="#000" stroke-width="1.5" stroke="#fff"/>
<rect x="25.5" y="68.5" width="7.5" height="16.7" fill="#fff" stroke="#000" stroke-width="1" transform="rotate(20 29 77.4)"/>
<path d="M19,98 C19,85 22.2,77.4 29,77.4" fill="none" stroke="#000" stroke-width="6.8"/>
<path d="M19,98 C19,85 22.2,77.4 29,77.4" fill="none" stroke="#fff" stroke-width="4.7"/>
<path d="M29.5,73.7 l1.2,7.4" stroke="#000" stroke-width="1" fill="none"/>
<rect x="170.5" y="223" width="25" height="26" fill="url(#coil)" stroke="#000" stroke-width="1"/>
<path d="M168,223 h30 M168,249 h30" fill="none" stroke="#000" stroke-width="1.4" />
<path d="M183,223 v26" fill="none" stroke="#000" stroke-width="1.5" stroke="#fff"/>
<rect x="187.5" y="194.1" width="7.5" height="16.1" fill="#fff" stroke="#000" stroke-width="1" transform="rotate(20 191 202.7)"/>
<path d="M181,222.5 C181,210 184.2,202.7 191,202.7" fill="none" stroke="#000" stroke-width="6.8"/>
<path d="M181,222.5 C181,210 184.2,202.7 191,202.7" fill="none" stroke="#fff" stroke-width="4.7"/>
<path d="M191.5,199 l1.2,7.4" stroke="#000" stroke-width="1" fill="none"/>
<ellipse cx="103" cy="155.5" rx="14.1" ry="16.3" fill="url(#dk2)" stroke="#000" stroke-width="1" />
<path d="M90.4,165.7 L116.4,158.7 L117.1,164.3 L103.4,190.3 L96.2,199 L88.9,190.3Z" fill="#000" stroke="#000" stroke-width="1" />
<ellipse cx="99.1" cy="155.2" rx="10.1" ry="14.5" fill="#fff" stroke="#000" stroke-width="1" />
<ellipse cx="100.2" cy="154.5" rx="5.6" ry="7.5" fill="none" stroke="#000" stroke-width="1" />
<ellipse cx="101" cy="154.6" rx="3.4" ry="4.2" fill="none" stroke="#000" stroke-width="1.2" />
<path d="M98,164 h8 v3 h-8z" fill="none" stroke="#000" stroke-width="1" />
<path d="M94.5,168 L110.5,166 L99.5,187 L92.5,187Z" fill="#fff" stroke="#000" stroke-width="1" />
<path d="M87,159.9 L87,196M88.8,159.9 L88.8,196" fill="none" stroke="#000" stroke-width="1" />
<path d="M67.9,189.6 L99,184.5 L103.4,190.3 L99,199 L73,206.2Z" fill="url(#dk2)" stroke="#000" stroke-width="1" />
<ellipse cx="67.9" cy="197.5" rx="6.1" ry="8" fill="#fff" stroke="#000" stroke-width="1.3" />
<ellipse cx="68.6" cy="197.5" rx="4.6" ry="6.5" fill="none" stroke="#000" stroke-width="1" />
<path d="M51.3,196.1 L61,193.5M51.3,196.1 L78.8,221.4 L97.6,214.9 L95.5,209.5 L79,215 L72,207M49.9,212.7 L64.3,210.6 L60,205.5M49.9,212.7 L78.8,223.5 L97.6,217 L97.6,214.9M78.8,221.4 L78.8,223.5" fill="none" stroke="#000" stroke-width="1" />
</g>
<g transform="translate(1366.7 1080)">
<path d="M0,114 L122.9,339.2 L222,280.4" fill="none" stroke="#000" stroke-width="1" />
<path d="M70.9,-18.6 L74.5,-19.6 L295.8,146.8 L292.2,147.8Z" fill="#fff" stroke="#000" stroke-width="1" />
<path d="M2.2,20L224.9,186.3M8.4,18.5L231.1,184.9M14.5,17.1L237.3,183.4M20.7,15.6L243.4,182M26.9,14.2L249.6,180.5M33.1,12.7L255.8,179.1M39.2,11.3L262,177.6M45.4,9.8L268.2,176.2M51.6,8.4L274.4,174.7M57.8,6.9L280.5,173.3M63.9,5.5L286.7,171.8M70.1,4L292.9,170.4M2.2,20L70.1,4M11.9,27.2L79.8,11.2M21.6,34.5L89.5,18.5M31.2,41.7L99.2,25.7M40.9,48.9L108.8,32.9M50.6,56.2L118.5,40.2M60.3,63.4L128.2,47.4M70,70.6L137.9,54.6M79.7,77.8L147.6,61.9M89.3,85.1L157.3,69.1M99,92.3L167,76.3M108.7,99.5L176.7,83.6M118.4,106.8L186.3,90.8M128.1,114L196,98.1M137.8,121.2L205.7,105.3M147.4,128.5L215.4,112.5M157.1,135.7L225.1,119.8M166.8,142.9L234.8,127M176.5,150.1L244.5,134.2M186.2,157.4L254.2,141.5M195.9,164.6L263.8,148.7M205.5,171.8L273.5,155.9M215.2,179.1L283.2,163.2M224.9,186.3L292.9,170.4" fill="none" stroke="#000" stroke-width="1" clip-path="url(#mc3)"/>
<path d="M2.2,101.4L224.9,267.7M4.8,100.8L227.5,267.1M7.4,100.2L230.1,266.5M10,99.6L232.7,265.9M12.6,98.9L235.4,265.3M15.3,98.3L238,264.6M17.9,97.7L240.6,264M20.5,97.1L243.2,263.4M23.1,96.5L245.8,262.8M25.7,95.9L248.4,262.2M28.3,95.2L251.1,261.6M30.9,94.6L253.7,261M33.5,94L256.3,260.4M36.1,93.4L258.9,259.8M38.8,92.8L261.5,259.1M41.4,92.2L264.1,258.5M44,91.6L266.7,257.9M46.6,90.9L269.4,257.3M49.2,90.3L272,256.7M51.8,89.7L274.6,256.1M54.4,89.1L277.2,255.5M57,88.5L279.8,254.9M59.7,87.9L282.4,254.2M62.3,87.2L285.1,253.6M64.9,86.6L287.7,253M67.5,86L290.3,252.4M70.1,85.4L292.9,251.8M2.2,101.4L70.1,85.4M5,103.5L72.9,87.5M7.8,105.6L75.7,89.6M10.6,107.6L78.5,91.6M13.3,109.7L81.2,93.7M16.1,111.8L84,95.8M18.9,113.9L86.8,97.9M21.7,116L89.6,100M24.5,118L92.4,102M27.3,120.1L95.2,104.1M30,122.2L97.9,106.2M32.8,124.3L100.7,108.3M35.6,126.3L103.5,110.4M38.4,128.4L106.3,112.4M41.2,130.5L109.1,114.5M44,132.6L111.9,116.6M46.7,134.7L114.7,118.7M49.5,136.7L117.4,120.8M52.3,138.8L120.2,122.8M55.1,140.9L123,124.9M57.9,143L125.8,127M60.7,145.1L128.6,129.1M63.4,147.1L131.4,131.2M66.2,149.2L134.2,133.2M69,151.3L136.9,135.3M71.8,153.4L139.7,137.4M74.6,155.4L142.5,139.5M77.4,157.5L145.3,141.6M80.1,159.6L148.1,143.6M82.9,161.7L150.9,145.7M85.7,163.8L153.6,147.8M88.5,165.8L156.4,149.9M91.3,167.9L159.2,152M94.1,170L162,154M96.8,172.1L164.8,156.1M99.6,174.2L167.6,158.2M102.4,176.2L170.4,160.3M105.2,178.3L173.1,162.4M108,180.4L175.9,164.4M110.8,182.5L178.7,166.5M113.6,184.6L181.5,168.6M116.3,186.6L184.3,170.7M119.1,188.7L187.1,172.8M121.9,190.8L189.9,174.8M124.7,192.9L192.6,176.9M127.5,194.9L195.4,179M130.3,197L198.2,181.1M133,199.1L201,183.2M135.8,201.2L203.8,185.2M138.6,203.3L206.6,187.3M141.4,205.3L209.3,189.4M144.2,207.4L212.1,191.5M147,209.5L214.9,193.6M149.7,211.6L217.7,195.6M152.5,213.7L220.5,197.7M155.3,215.7L223.3,199.8M158.1,217.8L226.1,201.9M160.9,219.9L228.8,204M163.7,222L231.6,206M166.4,224L234.4,208.1M169.2,226.1L237.2,210.2M172,228.2L240,212.3M174.8,230.3L242.8,214.4M177.6,232.4L245.6,216.4M180.4,234.4L248.3,218.5M183.1,236.5L251.1,220.6M185.9,238.6L253.9,222.7M188.7,240.7L256.7,224.8M191.5,242.8L259.5,226.8M194.3,244.8L262.3,228.9M197.1,246.9L265,231M199.8,249L267.8,233.1M202.6,251.1L270.6,235.2M205.4,253.1L273.4,237.2M208.2,255.2L276.2,239.3M211,257.3L279,241.4M213.8,259.4L281.8,243.5M216.5,261.5L284.5,245.6M219.3,263.5L287.3,247.6M222.1,265.6L290.1,249.7M224.9,267.7L292.9,251.8" fill="none" stroke="#000" stroke-width="0.9" clip-path="url(#mc4)"/>
<path d="M224.9,186.3 L292.9,170.4 L292.9,173.4 L224.9,189.7Z" fill="#fff" stroke="#000" stroke-width="1" />
<path d="M224.9,267.7 L292.9,251.8 L292.9,254.8 L224.9,271.1Z" fill="#fff" stroke="#000" stroke-width="1" />
<path d="M292.2,147.8 L295.8,146.8 L295.8,263.4 L292.2,263.4Z" fill="#fff" stroke="#000" stroke-width="1" />
<path d="M284,254 L292.2,262.5 L292.2,254" fill="none" stroke="#000" stroke-width="1" />
<path d="M0,0 L70.9,-18.6M1.2,3 L70.9,-15.4" fill="none" stroke="#000" stroke-width="1.3" />
<path d="M70.9,-18.6 L70.9,4.5M73.2,-18.6 L73.2,4" fill="none" stroke="#000" stroke-width="1.3" />
<path d="M0,0 L222,166.2 L222,280.4 L0,114Z" fill="#fff" stroke="#000" stroke-width="1" />
<path d="M0,0 L3.6,-1 L225.6,165.2 L222,166.2Z" fill="#fff" stroke="#000" stroke-width="1" />
<path d="M222,166.2 L225.6,165.2 L225.6,281.9 L222,280.4Z" fill="#fff" stroke="#000" stroke-width="1" />
<path d="M2.9,3 L2.9,115.5" fill="none" stroke="#000" stroke-width="1" />
<path d="M2.9,113 L222,277.2" fill="none" stroke="#000" stroke-width="1" />
<circle cx="13" cy="27.9" r="1.8" fill="#fff" stroke="#000" stroke-width="1.4"/>
<circle cx="23.7" cy="35.9" r="1.8" fill="#fff" stroke="#000" stroke-width="1.4"/>
<circle cx="34.4" cy="43.9" r="1.8" fill="#fff" stroke="#000" stroke-width="1.4"/>
<circle cx="45.1" cy="51.9" r="1.8" fill="#fff" stroke="#000" stroke-width="1.4"/>
<circle cx="55.8" cy="59.9" r="1.8" fill="#fff" stroke="#000" stroke-width="1.4"/>
<circle cx="66.5" cy="67.9" r="1.8" fill="#fff" stroke="#000" stroke-width="1.4"/>
<circle cx="77.2" cy="75.9" r="1.8" fill="#fff" stroke="#000" stroke-width="1.4"/>
<circle cx="87.9" cy="83.9" r="1.8" fill="#fff" stroke="#000" stroke-width="1.4"/>
<circle cx="98.6" cy="91.9" r="1.8" fill="#fff" stroke="#000" stroke-width="1.4"/>
<circle cx="109.3" cy="99.9" r="1.8" fill="#fff" stroke="#000" stroke-width="1.4"/>
<circle cx="120" cy="107.9" r="1.8" fill="#fff" stroke="#000" stroke-width="1.4"/>
<circle cx="130.7" cy="115.9" r="1.8" fill="#fff" stroke="#000" stroke-width="1.4"/>
<circle cx="141.4" cy="123.9" r="1.8" fill="#fff" stroke="#000" stroke-width="1.4"/>
<circle cx="152.1" cy="131.9" r="1.8" fill="#fff" stroke="#000" stroke-width="1.4"/>
<circle cx="162.8" cy="139.9" r="1.8" fill="#fff" stroke="#000" stroke-width="1.4"/>
<circle cx="173.5" cy="147.9" r="1.8" fill="#fff" stroke="#000" stroke-width="1.4"/>
<circle cx="184.2" cy="155.9" r="1.8" fill="#fff" stroke="#000" stroke-width="1.4"/>
<circle cx="194.9" cy="163.9" r="1.8" fill="#fff" stroke="#000" stroke-width="1.4"/>
<circle cx="205.6" cy="171.9" r="1.8" fill="#fff" stroke="#000" stroke-width="1.4"/>
<circle cx="216.3" cy="179.9" r="1.8" fill="#fff" stroke="#000" stroke-width="1.4"/>
<circle cx="13" cy="58.3" r="1.8" fill="#fff" stroke="#000" stroke-width="1.4"/>
<circle cx="23.7" cy="66.3" r="1.8" fill="#fff" stroke="#000" stroke-width="1.4"/>
<circle cx="34.4" cy="74.3" r="1.8" fill="#fff" stroke="#000" stroke-width="1.4"/>
<circle cx="45.1" cy="82.3" r="1.8" fill="#fff" stroke="#000" stroke-width="1.4"/>
<circle cx="55.8" cy="90.3" r="1.8" fill="#fff" stroke="#000" stroke-width="1.4"/>
<circle cx="66.5" cy="98.3" r="1.8" fill="#fff" stroke="#000" stroke-width="1.4"/>
<circle cx="77.2" cy="106.3" r="1.8" fill="#fff" stroke="#000" stroke-width="1.4"/>
<circle cx="87.9" cy="114.3" r="1.8" fill="#fff" stroke="#000" stroke-width="1.4"/>
<circle cx="98.6" cy="122.3" r="1.8" fill="#fff" stroke="#000" stroke-width="1.4"/>
<circle cx="109.3" cy="130.3" r="1.8" fill="#fff" stroke="#000" stroke-width="1.4"/>
<circle cx="120" cy="138.3" r="1.8" fill="#fff" stroke="#000" stroke-width="1.4"/>
<circle cx="130.7" cy="146.3" r="1.8" fill="#fff" stroke="#000" stroke-width="1.4"/>
<circle cx="141.4" cy="154.3" r="1.8" fill="#fff" stroke="#000" stroke-width="1.4"/>
<circle cx="152.1" cy="162.3" r="1.8" fill="#fff" stroke="#000" stroke-width="1.4"/>
<circle cx="162.8" cy="170.3" r="1.8" fill="#fff" stroke="#000" stroke-width="1.4"/>
<circle cx="173.5" cy="178.3" r="1.8" fill="#fff" stroke="#000" stroke-width="1.4"/>
<circle cx="184.2" cy="186.3" r="1.8" fill="#fff" stroke="#000" stroke-width="1.4"/>
<circle cx="194.9" cy="194.3" r="1.8" fill="#fff" stroke="#000" stroke-width="1.4"/>
<circle cx="205.6" cy="202.3" r="1.8" fill="#fff" stroke="#000" stroke-width="1.4"/>
<circle cx="216.3" cy="210.3" r="1.8" fill="#fff" stroke="#000" stroke-width="1.4"/>
<circle cx="13" cy="105.3" r="1.8" fill="#fff" stroke="#000" stroke-width="1.4"/>
<circle cx="23.7" cy="113.3" r="1.8" fill="#fff" stroke="#000" stroke-width="1.4"/>
<circle cx="34.4" cy="121.3" r="1.8" fill="#fff" stroke="#000" stroke-width="1.4"/>
<circle cx="45.1" cy="129.3" r="1.8" fill="#fff" stroke="#000" stroke-width="1.4"/>
<circle cx="55.8" cy="137.3" r="1.8" fill="#fff" stroke="#000" stroke-width="1.4"/>
<circle cx="66.5" cy="145.3" r="1.8" fill="#fff" stroke="#000" stroke-width="1.4"/>
<circle cx="77.2" cy="153.3" r="1.8" fill="#fff" stroke="#000" stroke-width="1.4"/>
<circle cx="87.9" cy="161.3" r="1.8" fill="#fff" stroke="#000" stroke-width="1.4"/>
<circle cx="98.6" cy="169.3" r="1.8" fill="#fff" stroke="#000" stroke-width="1.4"/>
<circle cx="109.3" cy="177.3" r="1.8" fill="#fff" stroke="#000" stroke-width="1.4"/>
<circle cx="120" cy="185.3" r="1.8" fill="#fff" stroke="#000" stroke-width="1.4"/>
<circle cx="130.7" cy="193.3" r="1.8" fill="#fff" stroke="#000" stroke-width="1.4"/>
<circle cx="141.4" cy="201.3" r="1.8" fill="#fff" stroke="#000" stroke-width="1.4"/>
<circle cx="152.1" cy="209.3" r="1.8" fill="#fff" stroke="#000" stroke-width="1.4"/>
<circle cx="162.8" cy="217.3" r="1.8" fill="#fff" stroke="#000" stroke-width="1.4"/>
<circle cx="173.5" cy="225.3" r="1.8" fill="#fff" stroke="#000" stroke-width="1.4"/>
<circle cx="184.2" cy="233.3" r="1.8" fill="#fff" stroke="#000" stroke-width="1.4"/>
<circle cx="194.9" cy="241.3" r="1.8" fill="#fff" stroke="#000" stroke-width="1.4"/>
<circle cx="205.6" cy="249.3" r="1.8" fill="#fff" stroke="#000" stroke-width="1.4"/>
<circle cx="216.3" cy="257.3" r="1.8" fill="#fff" stroke="#000" stroke-width="1.4"/>
<path d="M12.6,33.5h2.4M10.2,41.1h2.4M16,45.5h2.4M23.3,41.5h2.4M18.2,38.5h2.4M34,49.5h2.4M31.6,57.1h2.4M37.4,61.5h2.4M44.7,57.5h2.4M39.6,54.5h2.4M55.4,65.5h2.4M53,73.1h2.4M58.8,77.5h2.4M66.1,73.5h2.4M61,70.5h2.4M76.8,81.5h2.4M74.4,89.1h2.4M80.2,93.5h2.4M87.5,89.5h2.4M82.4,86.5h2.4M98.2,97.5h2.4M95.8,105.1h2.4M101.6,109.5h2.4M108.9,105.5h2.4M103.8,102.5h2.4M119.6,113.5h2.4M117.2,121.1h2.4M123,125.5h2.4M130.3,121.5h2.4M125.2,118.5h2.4M141,129.5h2.4M138.6,137.1h2.4M144.4,141.5h2.4M151.7,137.5h2.4M146.6,134.5h2.4M162.4,145.5h2.4M160,153.1h2.4M165.8,157.5h2.4M173.1,153.5h2.4M168,150.5h2.4M183.8,161.5h2.4M181.4,169.1h2.4M187.2,173.5h2.4M194.5,169.5h2.4M189.4,166.5h2.4M205.2,177.5h2.4M202.8,185.1h2.4M208.6,189.5h2.4M215.9,185.5h2.4M210.8,182.5h2.4M12.6,63.9h2.4M10.2,71.5h2.4M16,75.9h2.4M23.3,71.9h2.4M18.2,68.9h2.4M34,79.9h2.4M31.6,87.5h2.4M37.4,91.9h2.4M44.7,87.9h2.4M39.6,84.9h2.4M55.4,95.9h2.4M53,103.5h2.4M58.8,107.9h2.4M66.1,103.9h2.4M61,100.9h2.4M76.8,111.9h2.4M74.4,119.5h2.4M80.2,123.9h2.4M87.5,119.9h2.4M82.4,116.9h2.4M98.2,127.9h2.4M95.8,135.5h2.4M101.6,139.9h2.4M108.9,135.9h2.4M103.8,132.9h2.4M119.6,143.9h2.4M117.2,151.5h2.4M123,155.9h2.4M130.3,151.9h2.4M125.2,148.9h2.4M141,159.9h2.4M138.6,167.5h2.4M144.4,171.9h2.4M151.7,167.9h2.4M146.6,164.9h2.4M162.4,175.9h2.4M160,183.5h2.4M165.8,187.9h2.4M173.1,183.9h2.4M168,180.9h2.4M183.8,191.9h2.4M181.4,199.5h2.4M187.2,203.9h2.4M194.5,199.9h2.4M189.4,196.9h2.4M205.2,207.9h2.4M202.8,215.5h2.4M208.6,219.9h2.4M215.9,215.9h2.4M210.8,212.9h2.4M12.6,110.9h2.4M23.3,118.9h2.4M18.2,115.9h2.4M34,126.9h2.4M44.7,134.9h2.4M39.6,131.9h2.4M55.4,142.9h2.4M66.1,150.9h2.4M61,147.9h2.4M76.8,158.9h2.4M87.5,166.9h2.4M82.4,163.9h2.4M98.2,174.9h2.4M108.9,182.9h2.4M103.8,179.9h2.4M119.6,190.9h2.4M130.3,198.9h2.4M125.2,195.9h2.4M141,206.9h2.4M151.7,214.9h2.4M146.6,211.9h2.4M162.4,222.9h2.4M173.1,230.9h2.4M168,227.9h2.4M183.8,238.9h2.4M194.5,246.9h2.4M189.4,243.9h2.4M205.2,254.9h2.4M215.9,262.9h2.4M210.8,259.9h2.4" stroke="#000" stroke-width="2.4" fill="none"/>
<rect x="8.5" y="98.5" width="25" height="27" fill="url(#coil)" stroke="#000" stroke-width="1"/>
<path d="M6,98.5 h30 M6,125.5 h30" fill="none" stroke="#000" stroke-width="1.4" />
<path d="M21,98.5 v27" fill="none" stroke="#000" stroke-width="1.5" stroke="#fff"/>
<rect x="25.5" y="68.5" width="7.5" height="16.7" fill="#fff" stroke="#000" stroke-width="1" transform="rotate(20 29 77.4)"/>
<path d="M19,98 C19,85 22.2,77.4 29,77.4" fill="none" stroke="#000" stroke-width="6.8"/>
<path d="M19,98 C19,85 22.2,77.4 29,77.4" fill="none" stroke="#fff" stroke-width="4.7"/>
<path d="M29.5,73.7 l1.2,7.4" stroke="#000" stroke-width="1" fill="none"/>
<rect x="170.5" y="223" width="25" height="26" fill="url(#coil)" stroke="#000" stroke-width="1"/>
<path d="M168,223 h30 M168,249 h30" fill="none" stroke="#000" stroke-width="1.4" />
<path d="M183,223 v26" fill="none" stroke="#000" stroke-width="1.5" stroke="#fff"/>
<rect x="187.5" y="194.1" width="7.5" height="16.1" fill="#fff" stroke="#000" stroke-width="1" transform="rotate(20 191 202.7)"/>
<path d="M181,222.5 C181,210 184.2,202.7 191,202.7" fill="none" stroke="#000" stroke-width="6.8"/>
<path d="M181,222.5 C181,210 184.2,202.7 191,202.7" fill="none" stroke="#fff" stroke-width="4.7"/>
<path d="M191.5,199 l1.2,7.4" stroke="#000" stroke-width="1" fill="none"/>
<ellipse cx="103" cy="155.5" rx="14.1" ry="16.3" fill="url(#dk2)" stroke="#000" stroke-width="1" />
<path d="M90.4,165.7 L116.4,158.7 L117.1,164.3 L103.4,190.3 L96.2,199 L88.9,190.3Z" fill="#000" stroke="#000" stroke-width="1" />
<ellipse cx="99.1" cy="155.2" rx="10.1" ry="14.5" fill="#fff" stroke="#000" stroke-width="1" />
<ellipse cx="100.2" cy="154.5" rx="5.6" ry="7.5" fill="none" stroke="#000" stroke-width="1" />
<ellipse cx="101" cy="154.6" rx="3.4" ry="4.2" fill="none" stroke="#000" stroke-width="1.2" />
<path d="M98,164 h8 v3 h-8z" fill="none" stroke="#000" stroke-width="1" />
<path d="M94.5,168 L110.5,166 L99.5,187 L92.5,187Z" fill="#fff" stroke="#000" stroke-width="1" />
<path d="M87,159.9 L87,196M88.8,159.9 L88.8,196" fill="none" stroke="#000" stroke-width="1" />
<path d="M67.9,189.6 L99,184.5 L103.4,190.3 L99,199 L73,206.2Z" fill="url(#dk2)" stroke="#000" stroke-width="1" />
<ellipse cx="67.9" cy="197.5" rx="6.1" ry="8" fill="#fff" stroke="#000" stroke-width="1.3" />
<ellipse cx="68.6" cy="197.5" rx="4.6" ry="6.5" fill="none" stroke="#000" stroke-width="1" />
<path d="M51.3,196.1 L61,193.5M51.3,196.1 L78.8,221.4 L97.6,214.9 L95.5,209.5 L79,215 L72,207M49.9,212.7 L64.3,210.6 L60,205.5M49.9,212.7 L78.8,223.5 L97.6,217 L97.6,214.9M78.8,221.4 L78.8,223.5" fill="none" stroke="#000" stroke-width="1" />
</g>
<g transform="translate(2378.6 1065.3)">
<path d="M0,133.6 L156.7,343.7 L316.5,310.2" fill="none" stroke="#000" stroke-width="1" />
<path d="M59.5,-26.7 L62.3,-27.9 L377.2,147.4 L374.4,148.6Z" fill="#fff" stroke="#000" stroke-width="1" />
<path d="M29,11.3 L58.4,0 L375.4,173.2 L319.2,198.1 L319.2,173.2Z" fill="url(#dk)" stroke="#000" stroke-width="1" />
<path d="M319.2,201.5 L376.5,210.1 L319.2,235.5Z" fill="url(#dk)" stroke="#000" stroke-width="1" />
<path d="M319.2,237.7 L376.5,265.4 L319.2,292.1Z" fill="url(#dk)" stroke="#000" stroke-width="1" />
<path d="M319.2,198.1 L375.4,173.2 L375.4,176.2 L319.2,201.5Z" fill="#fff" stroke="#000" stroke-width="1" />
<path d="M319.2,236.6 L376.5,211.7 L376.5,214.7 L319.2,240Z" fill="#fff" stroke="#000" stroke-width="1" />
<path d="M319.2,292.1 L376.5,267.2 L376.5,270.2 L319.2,295.5Z" fill="#fff" stroke="#000" stroke-width="1" />
<path d="M374.4,148.6 L377.2,147.4 L377.2,283 L374.4,283Z" fill="#fff" stroke="#000" stroke-width="1" />
<path d="M364,270 L374.4,283 L374.4,272" fill="none" stroke="#000" stroke-width="1" />
<path d="M0,0 L59.5,-26.7M1,3 L59.5,-23.5" fill="none" stroke="#000" stroke-width="1.3" />
<path d="M59.5,-26.7 L59.5,-0.5M57.9,-25.7 L57.9,0" fill="none" stroke="#000" stroke-width="1.3" />
<path d="M0,0 L316.5,174.3 L316.5,310.2 L0,133.6Z" fill="#fff" stroke="#000" stroke-width="1" />
<path d="M0,0 L2.8,-1.2 L319.3,173.1 L316.5,174.3Z" fill="#fff" stroke="#000" stroke-width="1" />
<path d="M316.5,174.3 L319.3,173.1 L319.3,311.7 L316.5,310.2Z" fill="#fff" stroke="#000" stroke-width="1" />
<path d="M2.6,3 L2.6,135" fill="none" stroke="#000" stroke-width="1" />
<path d="M2.6,132 L316.5,307" fill="none" stroke="#000" stroke-width="1" />
<path d="M-2.5,4 L-2.5,12 L0,12" fill="none" stroke="#000" stroke-width="1" />
<circle cx="16.5" cy="32.4" r="1.8" fill="#fff" stroke="#000" stroke-width="1.4"/>
<circle cx="31.7" cy="40.8" r="1.8" fill="#fff" stroke="#000" stroke-width="1.4"/>
<circle cx="46.9" cy="49.2" r="1.8" fill="#fff" stroke="#000" stroke-width="1.4"/>
<circle cx="62.1" cy="57.6" r="1.8" fill="#fff" stroke="#000" stroke-width="1.4"/>
<circle cx="77.3" cy="66" r="1.8" fill="#fff" stroke="#000" stroke-width="1.4"/>
<circle cx="92.5" cy="74.4" r="1.8" fill="#fff" stroke="#000" stroke-width="1.4"/>
<circle cx="107.7" cy="82.8" r="1.8" fill="#fff" stroke="#000" stroke-width="1.4"/>
<circle cx="122.9" cy="91.2" r="1.8" fill="#fff" stroke="#000" stroke-width="1.4"/>
<circle cx="138.1" cy="99.6" r="1.8" fill="#fff" stroke="#000" stroke-width="1.4"/>
<circle cx="153.3" cy="108" r="1.8" fill="#fff" stroke="#000" stroke-width="1.4"/>
<circle cx="168.5" cy="116.4" r="1.8" fill="#fff" stroke="#000" stroke-width="1.4"/>
<circle cx="183.7" cy="124.8" r="1.8" fill="#fff" stroke="#000" stroke-width="1.4"/>
<circle cx="198.9" cy="133.2" r="1.8" fill="#fff" stroke="#000" stroke-width="1.4"/>
<circle cx="214.1" cy="141.6" r="1.8" fill="#fff" stroke="#000" stroke-width="1.4"/>
<circle cx="229.3" cy="150" r="1.8" fill="#fff" stroke="#000" stroke-width="1.4"/>
<circle cx="244.5" cy="158.4" r="1.8" fill="#fff" stroke="#000" stroke-width="1.4"/>
<circle cx="259.7" cy="166.8" r="1.8" fill="#fff" stroke="#000" stroke-width="1.4"/>
<circle cx="274.9" cy="175.2" r="1.8" fill="#fff" stroke="#000" stroke-width="1.4"/>
<circle cx="290.1" cy="183.6" r="1.8" fill="#fff" stroke="#000" stroke-width="1.4"/>
<circle cx="305.3" cy="192" r="1.8" fill="#fff" stroke="#000" stroke-width="1.4"/>
<circle cx="16.5" cy="67.9" r="1.8" fill="#fff" stroke="#000" stroke-width="1.4"/>
<circle cx="31.7" cy="76.3" r="1.8" fill="#fff" stroke="#000" stroke-width="1.4"/>
<circle cx="46.9" cy="84.7" r="1.8" fill="#fff" stroke="#000" stroke-width="1.4"/>
<circle cx="62.1" cy="93.1" r="1.8" fill="#fff" stroke="#000" stroke-width="1.4"/>
<circle cx="77.3" cy="101.5" r="1.8" fill="#fff" stroke="#000" stroke-width="1.4"/>
<circle cx="92.5" cy="109.9" r="1.8" fill="#fff" stroke="#000" stroke-width="1.4"/>
<circle cx="107.7" cy="118.3" r="1.8" fill="#fff" stroke="#000" stroke-width="1.4"/>
<circle cx="122.9" cy="126.7" r="1.8" fill="#fff" stroke="#000" stroke-width="1.4"/>
<circle cx="138.1" cy="135.1" r="1.8" fill="#fff" stroke="#000" stroke-width="1.4"/>
<circle cx="153.3" cy="143.5" r="1.8" fill="#fff" stroke="#000" stroke-width="1.4"/>
<circle cx="168.5" cy="151.9" r="1.8" fill="#fff" stroke="#000" stroke-width="1.4"/>
<circle cx="183.7" cy="160.3" r="1.8" fill="#fff" stroke="#000" stroke-width="1.4"/>
<circle cx="198.9" cy="168.7" r="1.8" fill="#fff" stroke="#000" stroke-width="1.4"/>
<circle cx="214.1" cy="177.1" r="1.8" fill="#fff" stroke="#000" stroke-width="1.4"/>
<circle cx="229.3" cy="185.5" r="1.8" fill="#fff" stroke="#000" stroke-width="1.4"/>
<circle cx="244.5" cy="193.9" r="1.8" fill="#fff" stroke="#000" stroke-width="1.4"/>
<circle cx="259.7" cy="202.3" r="1.8" fill="#fff" stroke="#000" stroke-width="1.4"/>
<circle cx="274.9" cy="210.7" r="1.8" fill="#fff" stroke="#000" stroke-width="1.4"/>
<circle cx="290.1" cy="219.1" r="1.8" fill="#fff" stroke="#000" stroke-width="1.4"/>
<circle cx="305.3" cy="227.5" r="1.8" fill="#fff" stroke="#000" stroke-width="1.4"/>
<circle cx="16.5" cy="122.6" r="1.8" fill="#fff" stroke="#000" stroke-width="1.4"/>
<circle cx="31.7" cy="131" r="1.8" fill="#fff" stroke="#000" stroke-width="1.4"/>
<circle cx="46.9" cy="139.4" r="1.8" fill="#fff" stroke="#000" stroke-width="1.4"/>
<circle cx="62.1" cy="147.8" r="1.8" fill="#fff" stroke="#000" stroke-width="1.4"/>
<circle cx="77.3" cy="156.2" r="1.8" fill="#fff" stroke="#000" stroke-width="1.4"/>
<circle cx="92.5" cy="164.6" r="1.8" fill="#fff" stroke="#000" stroke-width="1.4"/>
<circle cx="107.7" cy="173" r="1.8" fill="#fff" stroke="#000" stroke-width="1.4"/>
<circle cx="122.9" cy="181.4" r="1.8" fill="#fff" stroke="#000" stroke-width="1.4"/>
<circle cx="138.1" cy="189.8" r="1.8" fill="#fff" stroke="#000" stroke-width="1.4"/>
<circle cx="153.3" cy="198.2" r="1.8" fill="#fff" stroke="#000" stroke-width="1.4"/>
<circle cx="168.5" cy="206.6" r="1.8" fill="#fff" stroke="#000" stroke-width="1.4"/>
<circle cx="183.7" cy="215" r="1.8" fill="#fff" stroke="#000" stroke-width="1.4"/>
<circle cx="198.9" cy="223.4" r="1.8" fill="#fff" stroke="#000" stroke-width="1.4"/>
<circle cx="214.1" cy="231.8" r="1.8" fill="#fff" stroke="#000" stroke-width="1.4"/>
<circle cx="229.3" cy="240.2" r="1.8" fill="#fff" stroke="#000" stroke-width="1.4"/>
<circle cx="244.5" cy="248.6" r="1.8" fill="#fff" stroke="#000" stroke-width="1.4"/>
<circle cx="259.7" cy="257" r="1.8" fill="#fff" stroke="#000" stroke-width="1.4"/>
<circle cx="274.9" cy="265.4" r="1.8" fill="#fff" stroke="#000" stroke-width="1.4"/>
<circle cx="290.1" cy="273.8" r="1.8" fill="#fff" stroke="#000" stroke-width="1.4"/>
<circle cx="305.3" cy="282.2" r="1.8" fill="#fff" stroke="#000" stroke-width="1.4"/>
<path d="M16.1,38h2.4M13.7,45.6h2.4M19.5,50h2.4M31.3,46.4h2.4M26.2,43.4h2.4M46.5,54.8h2.4M44.1,62.4h2.4M49.9,66.8h2.4M61.7,63.2h2.4M56.6,60.2h2.4M76.9,71.6h2.4M74.5,79.2h2.4M80.3,83.6h2.4M92.1,80h2.4M87,77h2.4M107.3,88.4h2.4M104.9,96h2.4M110.7,100.4h2.4M122.5,96.8h2.4M117.4,93.8h2.4M137.7,105.2h2.4M135.3,112.8h2.4M141.1,117.2h2.4M152.9,113.6h2.4M147.8,110.6h2.4M168.1,122h2.4M165.7,129.6h2.4M171.5,134h2.4M183.3,130.4h2.4M178.2,127.4h2.4M198.5,138.8h2.4M196.1,146.4h2.4M201.9,150.8h2.4M213.7,147.2h2.4M208.6,144.2h2.4M228.9,155.6h2.4M226.5,163.2h2.4M232.3,167.6h2.4M244.1,164h2.4M239,161h2.4M259.3,172.4h2.4M256.9,180h2.4M262.7,184.4h2.4M274.5,180.8h2.4M269.4,177.8h2.4M289.7,189.2h2.4M287.3,196.8h2.4M293.1,201.2h2.4M304.9,197.6h2.4M299.8,194.6h2.4M16.1,73.5h2.4M13.7,81.1h2.4M19.5,85.5h2.4M31.3,81.9h2.4M26.2,78.9h2.4M46.5,90.3h2.4M44.1,97.9h2.4M49.9,102.3h2.4M61.7,98.7h2.4M56.6,95.7h2.4M76.9,107.1h2.4M74.5,114.7h2.4M80.3,119.1h2.4M92.1,115.5h2.4M87,112.5h2.4M107.3,123.9h2.4M104.9,131.5h2.4M110.7,135.9h2.4M122.5,132.3h2.4M117.4,129.3h2.4M137.7,140.7h2.4M135.3,148.3h2.4M141.1,152.7h2.4M152.9,149.1h2.4M147.8,146.1h2.4M168.1,157.5h2.4M165.7,165.1h2.4M171.5,169.5h2.4M183.3,165.9h2.4M178.2,162.9h2.4M198.5,174.3h2.4M196.1,181.9h2.4M201.9,186.3h2.4M213.7,182.7h2.4M208.6,179.7h2.4M228.9,191.1h2.4M226.5,198.7h2.4M232.3,203.1h2.4M244.1,199.5h2.4M239,196.5h2.4M259.3,207.9h2.4M256.9,215.5h2.4M262.7,219.9h2.4M274.5,216.3h2.4M269.4,213.3h2.4M289.7,224.7h2.4M287.3,232.3h2.4M293.1,236.7h2.4M304.9,233.1h2.4M299.8,230.1h2.4M16.1,128.2h2.4M13.7,135.8h2.4M31.3,136.6h2.4M26.2,133.6h2.4M46.5,145h2.4M44.1,152.6h2.4M61.7,153.4h2.4M56.6,150.4h2.4M76.9,161.8h2.4M74.5,169.4h2.4M92.1,170.2h2.4M87,167.2h2.4M107.3,178.6h2.4M104.9,186.2h2.4M122.5,187h2.4M117.4,184h2.4M137.7,195.4h2.4M135.3,203h2.4M152.9,203.8h2.4M147.8,200.8h2.4M168.1,212.2h2.4M165.7,219.8h2.4M183.3,220.6h2.4M178.2,217.6h2.4M198.5,229h2.4M196.1,236.6h2.4M213.7,237.4h2.4M208.6,234.4h2.4M228.9,245.8h2.4M226.5,253.4h2.4M244.1,254.2h2.4M239,251.2h2.4M259.3,262.6h2.4M256.9,270.2h2.4M274.5,271h2.4M269.4,268h2.4M289.7,279.4h2.4M287.3,287h2.4M304.9,287.8h2.4M299.8,284.8h2.4" stroke="#000" stroke-width="2.4" fill="none"/>
<rect x="17.7" y="117.7" width="33" height="26" fill="url(#coil)" stroke="#000" stroke-width="1"/>
<path d="M15.2,117.7 h38 M15.2,143.7 h38" fill="none" stroke="#000" stroke-width="1.4" />
<path d="M34.2,117.7 v26" fill="none" stroke="#000" stroke-width="1.5" stroke="#fff"/>
<rect x="40.1" y="88.8" width="9.9" height="16.1" fill="#fff" stroke="#000" stroke-width="1" transform="rotate(20 44.8 97.4)"/>
<path d="M31.6,117.2 C31.6,104.7 35.9,97.4 44.8,97.4" fill="none" stroke="#000" stroke-width="8.9"/>
<path d="M31.6,117.2 C31.6,104.7 35.9,97.4 44.8,97.4" fill="none" stroke="#fff" stroke-width="6.8"/>
<path d="M45.3,92.5 l1.2,9.8" stroke="#000" stroke-width="1" fill="none"/>
<rect x="249.7" y="246.8" width="34" height="26" fill="url(#coil)" stroke="#000" stroke-width="1"/>
<path d="M247.2,246.8 h39 M247.2,272.8 h39" fill="none" stroke="#000" stroke-width="1.4" />
<path d="M266.7,246.8 v26" fill="none" stroke="#000" stroke-width="1.5" stroke="#fff"/>
<rect x="272.8" y="217.9" width="10.2" height="16.1" fill="#fff" stroke="#000" stroke-width="1" transform="rotate(20 277.6 226.5)"/>
<path d="M264,246.3 C264,233.8 268.4,226.5 277.6,226.5" fill="none" stroke="#000" stroke-width="9.2"/>
<path d="M264,246.3 C264,233.8 268.4,226.5 277.6,226.5" fill="none" stroke="#fff" stroke-width="7.1"/>
<path d="M278.1,221.5 l1.2,10.1" stroke="#000" stroke-width="1" fill="none"/>
<ellipse cx="148.5" cy="173.2" rx="18.8" ry="20.4" fill="url(#dk2)" stroke="#000" stroke-width="1" />
<path d="M129.7,178.9 L167.1,176.1 L166,183.4 L144.5,219.6 L135.4,226.4 L119.5,212.8Z" fill="#000" stroke="#000" stroke-width="1" />
<ellipse cx="143.3" cy="173.9" rx="13.6" ry="19.2" fill="#fff" stroke="#000" stroke-width="1" />
<ellipse cx="145" cy="173" rx="7.5" ry="10" fill="none" stroke="#000" stroke-width="1" />
<ellipse cx="145.6" cy="173.2" rx="4.4" ry="5.4" fill="none" stroke="#000" stroke-width="1.3" />
<path d="M142,186 h10 v4 h-10z" fill="none" stroke="#000" stroke-width="1" />
<path d="M134.5,190 L158,186.5 L141.5,216 L126.5,213Z" fill="#fff" stroke="#000" stroke-width="1" />
<path d="M108.2,215.1 L137.7,206 L144.5,217.4 L137.7,229.8 L117.3,235.5Z" fill="url(#dk2)" stroke="#000" stroke-width="1" />
<ellipse cx="112.3" cy="225.3" rx="7.5" ry="9.5" fill="#fff" stroke="#000" stroke-width="1.3" />
<ellipse cx="113.2" cy="225.3" rx="5.6" ry="7.6" fill="none" stroke="#000" stroke-width="1" />
<path d="M90.1,223 L103.7,218.5M90.1,223 L108.2,241.1 L87.8,244.5 L128.6,251.3 L144.5,243.4 L141.1,236.6 L126.3,240 L121,235M128.6,251.3 L128.6,247.5 L141.1,240.5" fill="none" stroke="#000" stroke-width="1" />
</g>
<g transform="translate(245.6 1038.6)">
<path d="M9.2,-1.5 L9.2,-10.5 L14.5,-22.4 L16.9,-26 L11.6,-30.8 L13.4,-37.9 L20.5,-46.3 L26.5,-49.8 L25.9,-55.8 L23.5,-58.8 L28.9,-66.5 L44.3,-71.3 L46.1,-76.1 L43.8,-79.6 L52.7,-85 L62.2,-82.6 L69.4,-83.8 L70,-89.8 L111.1,-89.8 L117.1,-86.2 L120.6,-82.6 L125.4,-83.2 L127.2,-88 L133.8,-86.2 L139.1,-82 L143.3,-74.3 L146.9,-70.1 L150.5,-72.5 L152.8,-73.7 L157.6,-68.9 L161.2,-60.6 L163,-52.2 L166,-48.6 L170.1,-49.8 L173.7,-45.1 L175.5,-36.7 L174.3,-27.2 L176.7,-21.2 L179.7,-20 L180.3,-12.9 L177.9,-5.7 L176.7,-1.5" fill="#fff" stroke="#000" stroke-width="1.2" />
<path d="M39.6,-1.5 L39.6,-10.5 L44.3,-20 L47.9,-23.6 L46.7,-27.2 L42,-30.8 L44.3,-39.1 L51.5,-45.1 L57.5,-49.8 L58.1,-53.4 L55.1,-58.2 L58.7,-64.1 L65.8,-68.9 L74.2,-70.1 L75.9,-74.9 L73,-79.6 L80.1,-84.4 L88.5,-83.2 L96.8,-80.8 L100.4,-84.4 L99.8,-89.2" fill="none" stroke="#000" stroke-width="1.2" />
<path d="M23.5,-58.8 L55.1,-58.2M11.6,-30.8 L42,-30.8" fill="none" stroke="#000" stroke-width="2" />
<path d="M25.9,-55.8 L56.3,-55.8M43.8,-79.6 L62.2,-68.9M70,-89.8 L75.9,-81.4M13.4,-34.3 L44.3,-41.5M9.2,-1.5 L40.8,-29.6M44.3,-71.3 L46.7,-78.4" fill="none" stroke="#000" stroke-width="1" />
<path d="M69.1,-1.5 A40.8,48.9 0 0 1 150.7,-17.6" fill="#fff" stroke="#000" stroke-width="1.2"/>
<path d="M95.6,-52.2 Q111.1,-60.6 127.8,-52.2 Z" fill="#000" stroke="#000" stroke-width="1"/>
<path d="M99.2,-49.8L131.4,-49.8M102.8,-46.9L134.4,-46.9M106.3,-43.3L137.3,-43.3M111.1,-39.7L139.7,-39.7M114.7,-36.1L142.1,-36.1M117.1,-33.1L143.9,-33.1M119.5,-29.6L145.7,-29.6M121.8,-26L147.5,-26M123.6,-23L148.7,-23" fill="none" stroke="#000" stroke-width="1.6" />
<path d="M76.5,-34.9 L89.7,-22.4 L94.4,-24.8 L80.1,-37.9M90.8,-29.6 L102.8,-47.4 L105.2,-46.3 L93.2,-28.4M119.5,-27.2 L132.6,-46.3 L135,-45.1 L121.8,-26M105.2,-46.3 L119.5,-27.2" fill="none" stroke="#000" stroke-width="1" />
<path d="M75.3,-29.6 L80.1,-29.6M86.1,-22.4 L88.5,-19.4" fill="none" stroke="#000" stroke-width="1.5" />
<path d="M95.6,-1 A17.9,22.7 0 0 1 121.8,-24.8" fill="none" stroke="#000" stroke-width="1.1"/>
<path d="M92.6,-14.1 H78.9 A4.8,5.4 0 0 0 78.9,-3.3 H92.6" fill="none" stroke="#000" stroke-width="1.1"/>
<path d="M95.6,3.8 V-12.9 Q96.2,-20.6 105.2,-21.2 H131.4" fill="#fff" stroke="#000" stroke-width="1.6"/>
<circle cx="115.9" cy="-9.9" r="5.5" fill="#fff" stroke="#000" stroke-width="1.4"/>
<path d="M115.9,-17.6 L115.9,2M109.3,-9.9 L123,-9.9M114.1,-2.1 L115.9,2 L117.7,-2.1" fill="none" stroke="#000" stroke-width="1.2" />
<path d="M105.2,3.8 A11.3,14.3 0 0 1 126.6,-12.9" fill="none" stroke="#000" stroke-width="1.6"/>
<path d="M138.5,-21.2 L168.9,-17 L176.7,-9.9 L168.9,-2.1 L138.5,2.6Z" fill="#fff" stroke="#000" stroke-width="1" />
<path d="M138.5,-20.9 L168.9,-16.7M138.5,2.3 L168.9,-2.5" fill="none" stroke="#000" stroke-width="2.2" />
<circle cx="138.5" cy="-9.3" r="11.6" fill="#fff" stroke="#000" stroke-width="2.2"/>
<circle cx="168.9" cy="-9.7" r="7.4" fill="#fff" stroke="#000" stroke-width="1.8"/>
<circle cx="168.9" cy="-9.7" r="5" fill="none" stroke="#000" stroke-width="1.4"/>
<circle cx="169.3" cy="-9.7" r="2.4" fill="#000" stroke="#000" stroke-width="2.5"/>
<path d="M0,0 L226.8,0 L191.6,77.1 L15.1,77.1Z" fill="#fff" stroke="#000" stroke-width="1.2" />
<path d="M44.3,0 L59.3,77.1" fill="none" stroke="#000" stroke-width="1" />
<path d="M90.2,6.2 L90.2,77.1M93.2,6.2 L93.2,77.1M96.8,12.2 L96.8,77.1M90.2,6.2 L138.5,6.2M96.8,12.2 L138.5,12.2M138.5,0.8 L138.5,12.2M108.1,12.2 L97.4,77.1M105.7,12.2 L95,77.1M125.4,12.2 L125.4,77.1M127.8,12.2 L127.8,77.1M131.4,12.2 L131.4,77.1M138.5,12.2 L128.4,77.1M135.6,12.2 L126,77.1M140.9,0.8 L140.9,77.1M144.5,0.8 L144.5,77.1M146.9,0.8 L146.9,77.1M144.5,5 L180.3,5M180.3,0 L180.3,9.2M156.4,0 L156.4,5M158.2,5 L148.7,77.1M155.2,5 L146.3,77.1M168.3,5 L168.3,77.1M170.7,5 L170.7,77.1M173.7,5 L173.7,77.1M179.7,9.2 L174.3,77.1M176.7,5 L171.9,77.1" fill="none" stroke="#000" stroke-width="1" />
</g>
<g transform="translate(1280.1 1547.1)">
<path d="M9.2,-1.5 L9.2,-10.5 L14.5,-22.4 L16.9,-26 L11.6,-30.8 L13.4,-37.9 L20.5,-46.3 L26.5,-49.8 L25.9,-55.8 L23.5,-58.8 L28.9,-66.5 L44.3,-71.3 L46.1,-76.1 L43.8,-79.6 L52.7,-85 L62.2,-82.6 L69.4,-83.8 L70,-89.8 L111.1,-89.8 L117.1,-86.2 L120.6,-82.6 L125.4,-83.2 L127.2,-88 L133.8,-86.2 L139.1,-82 L143.3,-74.3 L146.9,-70.1 L150.5,-72.5 L152.8,-73.7 L157.6,-68.9 L161.2,-60.6 L163,-52.2 L166,-48.6 L170.1,-49.8 L173.7,-45.1 L175.5,-36.7 L174.3,-27.2 L176.7,-21.2 L179.7,-20 L180.3,-12.9 L177.9,-5.7 L176.7,-1.5" fill="#fff" stroke="#000" stroke-width="1.2" />
<path d="M39.6,-1.5 L39.6,-10.5 L44.3,-20 L47.9,-23.6 L46.7,-27.2 L42,-30.8 L44.3,-39.1 L51.5,-45.1 L57.5,-49.8 L58.1,-53.4 L55.1,-58.2 L58.7,-64.1 L65.8,-68.9 L74.2,-70.1 L75.9,-74.9 L73,-79.6 L80.1,-84.4 L88.5,-83.2 L96.8,-80.8 L100.4,-84.4 L99.8,-89.2" fill="none" stroke="#000" stroke-width="1.2" />
<path d="M23.5,-58.8 L55.1,-58.2M11.6,-30.8 L42,-30.8" fill="none" stroke="#000" stroke-width="2" />
<path d="M25.9,-55.8 L56.3,-55.8M43.8,-79.6 L62.2,-68.9M70,-89.8 L75.9,-81.4M13.4,-34.3 L44.3,-41.5M9.2,-1.5 L40.8,-29.6M44.3,-71.3 L46.7,-78.4" fill="none" stroke="#000" stroke-width="1" />
<path d="M69.1,-1.5 A40.8,48.9 0 0 1 150.7,-17.6" fill="#fff" stroke="#000" stroke-width="1.2"/>
<path d="M95.6,-52.2 Q111.1,-60.6 127.8,-52.2 Z" fill="#000" stroke="#000" stroke-width="1"/>
<path d="M99.2,-49.8L131.4,-49.8M102.8,-46.9L134.4,-46.9M106.3,-43.3L137.3,-43.3M111.1,-39.7L139.7,-39.7M114.7,-36.1L142.1,-36.1M117.1,-33.1L143.9,-33.1M119.5,-29.6L145.7,-29.6M121.8,-26L147.5,-26M123.6,-23L148.7,-23" fill="none" stroke="#000" stroke-width="1.6" />
<path d="M76.5,-34.9 L89.7,-22.4 L94.4,-24.8 L80.1,-37.9M90.8,-29.6 L102.8,-47.4 L105.2,-46.3 L93.2,-28.4M119.5,-27.2 L132.6,-46.3 L135,-45.1 L121.8,-26M105.2,-46.3 L119.5,-27.2" fill="none" stroke="#000" stroke-width="1" />
<path d="M75.3,-29.6 L80.1,-29.6M86.1,-22.4 L88.5,-19.4" fill="none" stroke="#000" stroke-width="1.5" />
<path d="M95.6,-1 A17.9,22.7 0 0 1 121.8,-24.8" fill="none" stroke="#000" stroke-width="1.1"/>
<path d="M92.6,-14.1 H78.9 A4.8,5.4 0 0 0 78.9,-3.3 H92.6" fill="none" stroke="#000" stroke-width="1.1"/>
<path d="M95.6,3.8 V-12.9 Q96.2,-20.6 105.2,-21.2 H131.4" fill="#fff" stroke="#000" stroke-width="1.6"/>
<circle cx="115.9" cy="-9.9" r="5.5" fill="#fff" stroke="#000" stroke-width="1.4"/>
<path d="M115.9,-17.6 L115.9,2M109.3,-9.9 L123,-9.9M114.1,-2.1 L115.9,2 L117.7,-2.1" fill="none" stroke="#000" stroke-width="1.2" />
<path d="M105.2,3.8 A11.3,14.3 0 0 1 126.6,-12.9" fill="none" stroke="#000" stroke-width="1.6"/>
<path d="M138.5,-21.2 L168.9,-17 L176.7,-9.9 L168.9,-2.1 L138.5,2.6Z" fill="#fff" stroke="#000" stroke-width="1" />
<path d="M138.5,-20.9 L168.9,-16.7M138.5,2.3 L168.9,-2.5" fill="none" stroke="#000" stroke-width="2.2" />
<circle cx="138.5" cy="-9.3" r="11.6" fill="#fff" stroke="#000" stroke-width="2.2"/>
<circle cx="168.9" cy="-9.7" r="7.4" fill="#fff" stroke="#000" stroke-width="1.8"/>
<circle cx="168.9" cy="-9.7" r="5" fill="none" stroke="#000" stroke-width="1.4"/>
<circle cx="169.3" cy="-9.7" r="2.4" fill="#000" stroke="#000" stroke-width="2.5"/>
<path d="M0,0 L226.8,0 L191.6,77.1 L15.1,77.1Z" fill="#fff" stroke="#000" stroke-width="1.2" />
<path d="M44.3,0 L59.3,77.1" fill="none" stroke="#000" stroke-width="1" />
<path d="M90.2,6.2 L90.2,77.1M93.2,6.2 L93.2,77.1M96.8,12.2 L96.8,77.1M90.2,6.2 L138.5,6.2M96.8,12.2 L138.5,12.2M138.5,0.8 L138.5,12.2M108.1,12.2 L97.4,77.1M105.7,12.2 L95,77.1M125.4,12.2 L125.4,77.1M127.8,12.2 L127.8,77.1M131.4,12.2 L131.4,77.1M138.5,12.2 L128.4,77.1M135.6,12.2 L126,77.1M140.9,0.8 L140.9,77.1M144.5,0.8 L144.5,77.1M146.9,0.8 L146.9,77.1M144.5,5 L180.3,5M180.3,0 L180.3,9.2M156.4,0 L156.4,5M158.2,5 L148.7,77.1M155.2,5 L146.3,77.1M168.3,5 L168.3,77.1M170.7,5 L170.7,77.1M173.7,5 L173.7,77.1M179.7,9.2 L174.3,77.1M176.7,5 L171.9,77.1" fill="none" stroke="#000" stroke-width="1" />
</g>
<g transform="translate(2326.3 1536.6)">
<path d="M9.2,-1.5 L9.2,-10.5 L14.5,-22.4 L16.9,-26 L11.6,-30.8 L13.4,-37.9 L20.5,-46.3 L26.5,-49.8 L25.9,-55.8 L23.5,-58.8 L28.9,-66.5 L44.3,-71.3 L46.1,-76.1 L43.8,-79.6 L52.7,-85 L62.2,-82.6 L69.4,-83.8 L70,-89.8 L111.1,-89.8 L117.1,-86.2 L120.6,-82.6 L125.4,-83.2 L127.2,-88 L133.8,-86.2 L139.1,-82 L143.3,-74.3 L146.9,-70.1 L150.5,-72.5 L152.8,-73.7 L157.6,-68.9 L161.2,-60.6 L163,-52.2 L166,-48.6 L170.1,-49.8 L173.7,-45.1 L175.5,-36.7 L174.3,-27.2 L176.7,-21.2 L179.7,-20 L180.3,-12.9 L177.9,-5.7 L176.7,-1.5" fill="#fff" stroke="#000" stroke-width="1.2" />
<path d="M39.6,-1.5 L39.6,-10.5 L44.3,-20 L47.9,-23.6 L46.7,-27.2 L42,-30.8 L44.3,-39.1 L51.5,-45.1 L57.5,-49.8 L58.1,-53.4 L55.1,-58.2 L58.7,-64.1 L65.8,-68.9 L74.2,-70.1 L75.9,-74.9 L73,-79.6 L80.1,-84.4 L88.5,-83.2 L96.8,-80.8 L100.4,-84.4 L99.8,-89.2" fill="none" stroke="#000" stroke-width="1.2" />
<path d="M23.5,-58.8 L55.1,-58.2M11.6,-30.8 L42,-30.8" fill="none" stroke="#000" stroke-width="2" />
<path d="M25.9,-55.8 L56.3,-55.8M43.8,-79.6 L62.2,-68.9M70,-89.8 L75.9,-81.4M13.4,-34.3 L44.3,-41.5M9.2,-1.5 L40.8,-29.6M44.3,-71.3 L46.7,-78.4" fill="none" stroke="#000" stroke-width="1" />
<path d="M69.1,-1.5 A40.8,48.9 0 0 1 150.7,-17.6" fill="#fff" stroke="#000" stroke-width="1.2"/>
<path d="M95.6,-52.2 Q111.1,-60.6 127.8,-52.2 Z" fill="#000" stroke="#000" stroke-width="1"/>
<path d="M99.2,-49.8L131.4,-49.8M102.8,-46.9L134.4,-46.9M106.3,-43.3L137.3,-43.3M111.1,-39.7L139.7,-39.7M114.7,-36.1L142.1,-36.1M117.1,-33.1L143.9,-33.1M119.5,-29.6L145.7,-29.6M121.8,-26L147.5,-26M123.6,-23L148.7,-23" fill="none" stroke="#000" stroke-width="1.6" />
<path d="M76.5,-34.9 L89.7,-22.4 L94.4,-24.8 L80.1,-37.9M90.8,-29.6 L102.8,-47.4 L105.2,-46.3 L93.2,-28.4M119.5,-27.2 L132.6,-46.3 L135,-45.1 L121.8,-26M105.2,-46.3 L119.5,-27.2" fill="none" stroke="#000" stroke-width="1" />
<path d="M75.3,-29.6 L80.1,-29.6M86.1,-22.4 L88.5,-19.4" fill="none" stroke="#000" stroke-width="1.5" />
<path d="M95.6,-1 A17.9,22.7 0 0 1 121.8,-24.8" fill="none" stroke="#000" stroke-width="1.1"/>
<path d="M92.6,-14.1 H78.9 A4.8,5.4 0 0 0 78.9,-3.3 H92.6" fill="none" stroke="#000" stroke-width="1.1"/>
<path d="M95.6,3.8 V-12.9 Q96.2,-20.6 105.2,-21.2 H131.4" fill="#fff" stroke="#000" stroke-width="1.6"/>
<circle cx="115.9" cy="-9.9" r="5.5" fill="#fff" stroke="#000" stroke-width="1.4"/>
<path d="M115.9,-17.6 L115.9,2M109.3,-9.9 L123,-9.9M114.1,-2.1 L115.9,2 L117.7,-2.1" fill="none" stroke="#000" stroke-width="1.2" />
<path d="M105.2,3.8 A11.3,14.3 0 0 1 126.6,-12.9" fill="none" stroke="#000" stroke-width="1.6"/>
<path d="M138.5,-21.2 L168.9,-17 L176.7,-9.9 L168.9,-2.1 L138.5,2.6Z" fill="#fff" stroke="#000" stroke-width="1" />
<path d="M138.5,-20.9 L168.9,-16.7M138.5,2.3 L168.9,-2.5" fill="none" stroke="#000" stroke-width="2.2" />
<circle cx="138.5" cy="-9.3" r="11.6" fill="#fff" stroke="#000" stroke-width="2.2"/>
<circle cx="168.9" cy="-9.7" r="7.4" fill="#fff" stroke="#000" stroke-width="1.8"/>
<circle cx="168.9" cy="-9.7" r="5" fill="none" stroke="#000" stroke-width="1.4"/>
<circle cx="169.3" cy="-9.7" r="2.4" fill="#000" stroke="#000" stroke-width="2.5"/>
<path d="M0,0 L226.8,0 L191.6,77.1 L15.1,77.1Z" fill="#fff" stroke="#000" stroke-width="1.2" />
<path d="M44.3,0 L59.3,77.1" fill="none" stroke="#000" stroke-width="1" />
<path d="M90.2,6.2 L90.2,77.1M93.2,6.2 L93.2,77.1M96.8,12.2 L96.8,77.1M90.2,6.2 L138.5,6.2M96.8,12.2 L138.5,12.2M138.5,0.8 L138.5,12.2M108.1,12.2 L97.4,77.1M105.7,12.2 L95,77.1M125.4,12.2 L125.4,77.1M127.8,12.2 L127.8,77.1M131.4,12.2 L131.4,77.1M138.5,12.2 L128.4,77.1M135.6,12.2 L126,77.1M140.9,0.8 L140.9,77.1M144.5,0.8 L144.5,77.1M146.9,0.8 L146.9,77.1M144.5,5 L180.3,5M180.3,0 L180.3,9.2M156.4,0 L156.4,5M158.2,5 L148.7,77.1M155.2,5 L146.3,77.1M168.3,5 L168.3,77.1M170.7,5 L170.7,77.1M173.7,5 L173.7,77.1M179.7,9.2 L174.3,77.1M176.7,5 L171.9,77.1" fill="none" stroke="#000" stroke-width="1" />
</g>
<g transform="translate(559.4 1796.3) scale(1.0)">
<path d="M27.4,-37 L148.4,-37.5 L152.5,-12.2 L123.6,25.3 L105.4,24.8 L23.3,24.8 L0,0Z" fill="#fff" stroke="#000" stroke-width="1" />
<path d="M27.4,-37 L148.4,-37.5" fill="none" stroke="#000" stroke-width="2.2" />
<path d="M28.9,-34.8 L147.9,-35.2" fill="none" stroke="#000" stroke-width="1.2" />
<path d="M148.4,-37.5 L152.5,-12.2M146.9,-35.5 L150.8,-11.7" fill="none" stroke="#000" stroke-width="1.2" />
<path d="M50.7,-10.1 L152,-10.1" fill="none" stroke="#000" stroke-width="2.0" />
<path d="M35,-34.4 L50.7,-11.7 L50.7,-10.1 L45.1,-1" fill="none" stroke="#000" stroke-width="1" />
<path d="M0,0 L25.3,-35.5M8.6,0.5 L34.4,-34.4" fill="none" stroke="#000" stroke-width="1.4" />
<path d="M0,0 L120.1,-0.5 L123.6,25.3 L105.4,24.8 L23.3,24.8Z" fill="#fff" stroke="#000" stroke-width="1" />
<path d="M0,0 L120.1,-0.5" fill="none" stroke="#000" stroke-width="2.6" />
<path d="M23.3,24.8 L105.4,24.8" fill="none" stroke="#000" stroke-width="2.4" />
<path d="M120.1,-0.5 L123.6,25.3M118,1 L121.6,25.8" fill="none" stroke="#000" stroke-width="1.6" />
<path d="M123.6,25.3 L152.5,-12.2" fill="none" stroke="#000" stroke-width="1" />
<path d="M102.3,1 L106.4,29.9 L112.5,29.9 L108.4,1Z" fill="#fff" stroke="#000" stroke-width="1.2" />
<path d="M112.5,29.9 L115.5,26.8 L112,1" fill="none" stroke="#000" stroke-width="1.2" />
<path d="M35.5,42 L106.4,28.4" fill="none" stroke="#000" stroke-width="1" />
<path d="M0,0 L1,5.1 L23.3,24.8M2,4.1 L23.3,23.3" fill="none" stroke="#000" stroke-width="1" />
<g transform="translate(10.6 21.8) rotate(57)">
<rect x="0" y="-9" width="13" height="9" fill="#fff" stroke="#000" stroke-width="1"/>
<rect x="13" y="-8" width="20" height="8" fill="#fff" stroke="#000" stroke-width="1.3"/>
<path d="M17,-8 v8 M22,-8 v8 M27,-8 v8" stroke="#000" stroke-width="1.3"/>
<path d="M33,-12 L33,-1 L40,-1 Q42,-10 38,-18 Z" fill="#fff" stroke="#000" stroke-width="1"/>
</g>
<g transform="translate(19.8 -74.5) rotate(-8)">
<path d="M0,0 V8" fill="none" stroke="#000" stroke-width="2.2"/>
<rect x="-4" y="7" width="11" height="27" fill="#fff" stroke="#000" stroke-width="1.2"/>
<rect x="-3" y="10" width="6.5" height="21" fill="#000"/>
<path d="M-4.5,9 h12 M-4.5,32 h12" stroke="#000" stroke-width="1.6" fill="none"/>
<path d="M5,12 v3 M5,18 v3 M5,24 v3" stroke="#000" stroke-width="1.3" fill="none"/>
<rect x="-1" y="34" width="6" height="5" fill="#fff" stroke="#000" stroke-width="1.3"/>
</g>
<g transform="translate(125.6 -77) rotate(-8)">
<path d="M0,8 V1 Q0,-2 -3,-1.5 V1" fill="none" stroke="#000" stroke-width="1.5"/>
<rect x="-4" y="7" width="11" height="27" fill="#fff" stroke="#000" stroke-width="1.2"/>
<rect x="-3" y="10" width="6.5" height="21" fill="#000"/>
<path d="M-4.5,9 h12 M-4.5,32 h12" stroke="#000" stroke-width="1.6" fill="none"/>
<path d="M5,12 v3 M5,18 v3 M5,24 v3" stroke="#000" stroke-width="1.3" fill="none"/>
<rect x="-1" y="34" width="6" height="5" fill="#fff" stroke="#000" stroke-width="1.3"/>
</g>
<g transform="translate(-8.6 -37.5) rotate(-8)">
<path d="M0,0 V8" fill="none" stroke="#000" stroke-width="2.2"/>
<rect x="-4" y="7" width="11" height="27" fill="#fff" stroke="#000" stroke-width="1.2"/>
<rect x="-3" y="10" width="6.5" height="21" fill="#000"/>
<path d="M-4.5,9 h12 M-4.5,32 h12" stroke="#000" stroke-width="1.6" fill="none"/>
<path d="M5,12 v3 M5,18 v3 M5,24 v3" stroke="#000" stroke-width="1.3" fill="none"/>
<rect x="-1" y="34" width="6" height="5" fill="#fff" stroke="#000" stroke-width="1.3"/>
</g>
<g transform="translate(94.7 -35.5) rotate(-8)">
<path d="M0,8 V1 Q0,-2 -3,-1.5 V1" fill="none" stroke="#000" stroke-width="1.5"/>
<rect x="-4" y="7" width="11" height="27" fill="#fff" stroke="#000" stroke-width="1.2"/>
<rect x="-3" y="10" width="6.5" height="21" fill="#000"/>
<path d="M-4.5,9 h12 M-4.5,32 h12" stroke="#000" stroke-width="1.6" fill="none"/>
<path d="M5,12 v3 M5,18 v3 M5,24 v3" stroke="#000" stroke-width="1.3" fill="none"/>
<rect x="-1" y="34" width="6" height="5" fill="#fff" stroke="#000" stroke-width="1.3"/>
</g>
</g>
<g transform="translate(1683 1986.8) scale(0.83)">
<path d="M27.4,-37 L148.4,-37.5 L152.5,-12.2 L123.6,25.3 L105.4,24.8 L23.3,24.8 L0,0Z" fill="#fff" stroke="#000" stroke-width="1" />
<path d="M27.4,-37 L148.4,-37.5" fill="none" stroke="#000" stroke-width="2.2" />
<path d="M28.9,-34.8 L147.9,-35.2" fill="none" stroke="#000" stroke-width="1.2" />
<path d="M148.4,-37.5 L152.5,-12.2M146.9,-35.5 L150.8,-11.7" fill="none" stroke="#000" stroke-width="1.2" />
<path d="M50.7,-10.1 L152,-10.1" fill="none" stroke="#000" stroke-width="2.0" />
<path d="M35,-34.4 L50.7,-11.7 L50.7,-10.1 L45.1,-1" fill="none" stroke="#000" stroke-width="1" />
<path d="M0,0 L25.3,-35.5M8.6,0.5 L34.4,-34.4" fill="none" stroke="#000" stroke-width="1.4" />
<path d="M0,0 L120.1,-0.5 L123.6,25.3 L105.4,24.8 L23.3,24.8Z" fill="#fff" stroke="#000" stroke-width="1" />
<path d="M0,0 L120.1,-0.5" fill="none" stroke="#000" stroke-width="2.6" />
<path d="M23.3,24.8 L105.4,24.8" fill="none" stroke="#000" stroke-width="2.4" />
<path d="M120.1,-0.5 L123.6,25.3M118,1 L121.6,25.8" fill="none" stroke="#000" stroke-width="1.6" />
<path d="M123.6,25.3 L152.5,-12.2" fill="none" stroke="#000" stroke-width="1" />
<path d="M102.3,1 L106.4,29.9 L112.5,29.9 L108.4,1Z" fill="#fff" stroke="#000" stroke-width="1.2" />
<path d="M112.5,29.9 L115.5,26.8 L112,1" fill="none" stroke="#000" stroke-width="1.2" />
<path d="M35.5,42 L106.4,28.4" fill="none" stroke="#000" stroke-width="1" />
<path d="M0,0 L1,5.1 L23.3,24.8M2,4.1 L23.3,23.3" fill="none" stroke="#000" stroke-width="1" />
<g transform="translate(10.6 21.8) rotate(57)">
<rect x="0" y="-9" width="13" height="9" fill="#fff" stroke="#000" stroke-width="1"/>
<rect x="13" y="-8" width="20" height="8" fill="#fff" stroke="#000" stroke-width="1.3"/>
<path d="M17,-8 v8 M22,-8 v8 M27,-8 v8" stroke="#000" stroke-width="1.3"/>
<path d="M33,-12 L33,-1 L40,-1 Q42,-10 38,-18 Z" fill="#fff" stroke="#000" stroke-width="1"/>
</g>
<g transform="translate(19.8 -74.5) rotate(-8)">
<path d="M0,0 V8" fill="none" stroke="#000" stroke-width="2.2"/>
<rect x="-4" y="7" width="11" height="27" fill="#fff" stroke="#000" stroke-width="1.2"/>
<rect x="-3" y="10" width="6.5" height="21" fill="#000"/>
<path d="M-4.5,9 h12 M-4.5,32 h12" stroke="#000" stroke-width="1.6" fill="none"/>
<path d="M5,12 v3 M5,18 v3 M5,24 v3" stroke="#000" stroke-width="1.3" fill="none"/>
<rect x="-1" y="34" width="6" height="5" fill="#fff" stroke="#000" stroke-width="1.3"/>
</g>
<g transform="translate(125.6 -77) rotate(-8)">
<path d="M0,8 V1 Q0,-2 -3,-1.5 V1" fill="none" stroke="#000" stroke-width="1.5"/>
<rect x="-4" y="7" width="11" height="27" fill="#fff" stroke="#000" stroke-width="1.2"/>
<rect x="-3" y="10" width="6.5" height="21" fill="#000"/>
<path d="M-4.5,9 h12 M-4.5,32 h12" stroke="#000" stroke-width="1.6" fill="none"/>
<path d="M5,12 v3 M5,18 v3 M5,24 v3" stroke="#000" stroke-width="1.3" fill="none"/>
<rect x="-1" y="34" width="6" height="5" fill="#fff" stroke="#000" stroke-width="1.3"/>
</g>
<g transform="translate(-8.6 -37.5) rotate(-8)">
<path d="M0,0 V8" fill="none" stroke="#000" stroke-width="2.2"/>
<rect x="-4" y="7" width="11" height="27" fill="#fff" stroke="#000" stroke-width="1.2"/>
<rect x="-3" y="10" width="6.5" height="21" fill="#000"/>
<path d="M-4.5,9 h12 M-4.5,32 h12" stroke="#000" stroke-width="1.6" fill="none"/>
<path d="M5,12 v3 M5,18 v3 M5,24 v3" stroke="#000" stroke-width="1.3" fill="none"/>
<rect x="-1" y="34" width="6" height="5" fill="#fff" stroke="#000" stroke-width="1.3"/>
</g>
<g transform="translate(94.7 -35.5) rotate(-8)">
<path d="M0,8 V1 Q0,-2 -3,-1.5 V1" fill="none" stroke="#000" stroke-width="1.5"/>
<rect x="-4" y="7" width="11" height="27" fill="#fff" stroke="#000" stroke-width="1.2"/>
<rect x="-3" y="10" width="6.5" height="21" fill="#000"/>
<path d="M-4.5,9 h12 M-4.5,32 h12" stroke="#000" stroke-width="1.6" fill="none"/>
<path d="M5,12 v3 M5,18 v3 M5,24 v3" stroke="#000" stroke-width="1.3" fill="none"/>
<rect x="-1" y="34" width="6" height="5" fill="#fff" stroke="#000" stroke-width="1.3"/>
</g>
</g>
<ellipse cx="765.9" cy="899.6" rx="52.8" ry="59.3" fill="#fff" stroke="#000" stroke-width="1" transform="rotate(-6 765.9 899.6)" />
<ellipse cx="760.9" cy="901" rx="36.9" ry="49.9" fill="none" stroke="#000" stroke-width="1" transform="rotate(-6 760.9 901)" />
<ellipse cx="757.3" cy="901.7" rx="36.2" ry="49.2" fill="none" stroke="#000" stroke-width="1" transform="rotate(-6 757.3 901.7)" />
<ellipse cx="748.6" cy="872.1" rx="5.2" ry="7.5" fill="none" stroke="#000" stroke-width="1.2" transform="rotate(-8 748.6 872.1)" />
<ellipse cx="747.4" cy="872.4" rx="3.5" ry="6.4" fill="none" stroke="#000" stroke-width="1" transform="rotate(-8 747.4 872.4)" />
<ellipse cx="773.2" cy="877.9" rx="5.2" ry="7.5" fill="none" stroke="#000" stroke-width="1.2" transform="rotate(-8 773.2 877.9)" />
<ellipse cx="772" cy="878.2" rx="3.5" ry="6.4" fill="none" stroke="#000" stroke-width="1" transform="rotate(-8 772 878.2)" />
<ellipse cx="786.9" cy="909.7" rx="5.2" ry="7.5" fill="none" stroke="#000" stroke-width="1.2" transform="rotate(-8 786.9 909.7)" />
<ellipse cx="785.8" cy="910" rx="3.5" ry="6.4" fill="none" stroke="#000" stroke-width="1" transform="rotate(-8 785.8 910)" />
<path d="M708.1,945.9 L758.7,919.8 L807.2,927.1 L800.7,935.7 L800.7,1058.7 L726.9,1058.7 L726.9,948.8Z" fill="#fff" stroke="#000" stroke-width="1" />
<path d="M758.7,919.8 L807.2,927.1 L800.7,935.7 L732.7,956M760.1,917.2 L792,922" fill="none" stroke="#000" stroke-width="1" />
<path d="M795.6,928.5 L795.6,1058.7M800.7,935.7 L800.7,1058.7" fill="none" stroke="#000" stroke-width="1" />
<path d="M726.9,948.8 L726.9,1058.7M732.7,950.2 L732.7,1058.7" fill="none" stroke="#000" stroke-width="1" />
<path d="M708.1,945.9 L726.9,948.8 L732.7,950.2M719.6,950.2 L725.4,963.2 L726.9,962.5" fill="none" stroke="#000" stroke-width="1" />
<path d="M734.1,940.4 L789.1,931.7 A6,7.5 0 0 1 792,945.9 L734.1,961" fill="none" stroke="#000" stroke-width="1" />
<path d="M734.1,980.6 L763,976.2 L764.5,980.6 L794.9,987.8M734.1,986.4 L763,982 L794.9,990.7M734.1,1006.6 L794.9,995" fill="none" stroke="#000" stroke-width="1" />
<path d="M794.9,997.9 L784.7,999.4 L780.4,1012.4 L786.2,1025.4 L796.3,1028.3" fill="none" stroke="#000" stroke-width="1" />
<path d="M751.5,1042.8 L797,1029.8M752.9,1050 L797.8,1035.6" fill="none" stroke="#000" stroke-width="1" />
<path d="M741.3,1012.4 L747.1,1008.1 L757.3,1019.6 L755.8,1028.3 L750,1028.3Z" fill="#fff" stroke="#000" stroke-width="1.2" />
<path d="M744.2,1012.4 L751.5,1022.5 L751.5,1028.3" fill="none" stroke="#000" stroke-width="1" />
<path d="M795.6,980 L796.3,1072.6 L809.3,1066.8 L800.7,1026.3 L800.7,980Z" fill="#fff" stroke="#000" stroke-width="1" />
<path d="M760.1,1058.1 L796.3,1072.6M751.5,1039.3 L795.6,1027.7M752.9,1045.1 L795.6,1033.5M734.1,982.9 L794.9,988.7M734.1,1003.1 L793.4,988.7" fill="none" stroke="#000" stroke-width="1" />
<circle cx="801.4" cy="1063.2" r="1.5" fill="none" stroke="#000" stroke-width="1.2"/>
<path d="M687.8,895.2 L737,880.8 L757.3,888 L757.3,929.9 L737,943 L706.6,940.1Z" fill="#fff" stroke="#000" stroke-width="1" />
<ellipse cx="745.7" cy="909" rx="12.3" ry="31.1" fill="#fff" stroke="#000" stroke-width="1.1" transform="rotate(-5 745.7 909)" />
<ellipse cx="735.6" cy="911.1" rx="12.3" ry="31.1" fill="#fff" stroke="#000" stroke-width="1.1" transform="rotate(-5 735.6 911.1)" />
<ellipse cx="725.4" cy="912.6" rx="11.6" ry="29.7" fill="#fff" stroke="#000" stroke-width="1.1" transform="rotate(-5 725.4 912.6)" />
<path d="M690.7,901 L725.4,883.4 L725.4,942.2 L708.1,940.1Z" fill="#fff" stroke="#000" stroke-width="0" />
<path d="M687.8,901 L722.5,883.7M708.1,940.1 L725.4,942.2" fill="none" stroke="#000" stroke-width="1" />
<ellipse cx="693.6" cy="921.3" rx="14.5" ry="26.8" fill="#fff" stroke="#000" stroke-width="1.1" transform="rotate(-5 693.6 921.3)" />
<path d="M683.5,890.9 L687.8,889.4 L693.6,896.7 L697.9,888 L703.7,893.8 L708.1,885.1 L713.9,889.4" fill="none" stroke="#000" stroke-width="1" />
<path d="M671.9,880.8 L711,871.4 L713.9,874.2M673.3,883.7 L711,874.2" fill="none" stroke="#000" stroke-width="1" />
<path d="M760.1,902.5 L771.7,900.3 L774.6,903.9 L774.6,915.5 L763,918.4" fill="none" stroke="#000" stroke-width="1" />
<path d="M583.7,875 L648.8,857.9 L656,872.1 L598.1,898.8Z" fill="#fff" stroke="#000" stroke-width="1" />
<path d="M585.8,874.4 L597.4,898.1M574.2,898.8 L583.7,876.4" fill="none" stroke="#000" stroke-width="1" />
<path d="M553.3,904.6 L592.3,898.8 L595.2,906.8 L588,914.8 L563.4,912.6 L562,921.3 L554.7,909.7 L553.3,909Z" fill="#fff" stroke="#000" stroke-width="1" />
<path d="M553.3,909 L563.4,912.6M554.7,906.8 L589.4,901" fill="none" stroke="#000" stroke-width="1" />
<path d="M560.5,912.6 L621.3,901 L621.3,1029.8 L560.5,1013.9Z" fill="#fff" stroke="#000" stroke-width="0" />
<path d="M560.5,912.6 L560.5,1013.9M563.4,919.8 L563.4,1013.9" fill="none" stroke="#000" stroke-width="1" />
<path d="M560.5,980 L650.2,980 L693.6,1061 L666.1,1066.8 L648.8,1076.6 L552.5,1050.6 L551.8,1043.7 L560.5,1014.7Z" fill="#fff" stroke="#000" stroke-width="0" />
<path d="M560.5,980 L560.5,1014.7M563.4,980 L563.4,1014.7" fill="none" stroke="#000" stroke-width="1" />
<path d="M551.8,1043.7 L658.9,1069 L666.1,1066.5 L648.8,1076.6 L552.5,1050.6Z" fill="#fff" stroke="#000" stroke-width="1" />
<path d="M552.5,1050.6 L551.8,1043.7M658.9,1069 L648.8,1072.6 L554,1047.3" fill="none" stroke="#000" stroke-width="1" />
<path d="M554.7,1042.2 L562,1014 L563.4,1014.7 L563.4,1039.3Z" fill="#fff" stroke="#000" stroke-width="1" />
<path d="M613.3,1057.4 L620.5,1029.9 L622.7,1029.9 L622,1052.3Z" fill="#fff" stroke="#000" stroke-width="1" />
<path d="M657.4,1068.2 L663.9,1041.5 L666.1,1042.2 L665.4,1065.4Z" fill="#fff" stroke="#000" stroke-width="1" />
<ellipse cx="647.3" cy="1043.7" rx="6.7" ry="6.1" fill="#fff" stroke="#000" stroke-width="1.3" />
<ellipse cx="649.5" cy="1045.1" rx="4.1" ry="3.8" fill="none" stroke="#000" stroke-width="1.1" />
<path d="M566.3,1045.1 L570.6,1045.8M634.3,1062.7 L638.6,1063.6" fill="none" stroke="#000" stroke-width="2" />
<path d="M670.5,901 L683.5,892.3 L764.5,1066.8 L737,1056.7Z" fill="url(#belt2)" stroke="#000" stroke-width="1" />
<path d="M675.5,897.4 L750,1061" fill="none" stroke="#000" stroke-width="2" />
<path d="M621.3,994.5 L653.1,1000.3 L715.3,1057.4 L692.2,1066.8Z" fill="url(#belt1)" stroke="#000" stroke-width="1" />
<ellipse cx="644.4" cy="936.5" rx="48.5" ry="64.7" fill="url(#belt1)" stroke="#000" stroke-width="1" transform="rotate(-8 644.4 936.5)" />
<ellipse cx="632.1" cy="937.9" rx="44.8" ry="62.5" fill="#fff" stroke="#000" stroke-width="1.3" transform="rotate(-8 632.1 937.9)" />
<ellipse cx="634.3" cy="937.9" rx="41.2" ry="59.3" fill="none" stroke="#000" stroke-width="1" transform="rotate(-8 634.3 937.9)" />
<ellipse cx="635.7" cy="937.9" rx="36.2" ry="55.7" fill="none" stroke="#000" stroke-width="1.1" transform="rotate(-8 635.7 937.9)" />
<ellipse cx="638.6" cy="937.9" rx="13.3" ry="16.2" fill="none" stroke="#000" stroke-width="1.2" transform="rotate(-8 638.6 937.9)" />
<ellipse cx="639.2" cy="937.9" rx="11.6" ry="14.5" fill="none" stroke="#000" stroke-width="1" transform="rotate(-8 639.2 937.9)" />
<ellipse cx="636.9" cy="938.3" rx="4.9" ry="6.7" fill="none" stroke="#000" stroke-width="1.4" transform="rotate(-8 636.9 938.3)" />
<ellipse cx="627.1" cy="905.4" rx="5.5" ry="8.1" fill="none" stroke="#000" stroke-width="1.3" transform="rotate(-10 627.1 905.4)" />
<ellipse cx="628.5" cy="905.6" rx="3.5" ry="6.7" fill="none" stroke="#000" stroke-width="1" transform="rotate(-10 628.5 905.6)" />
<ellipse cx="651.9" cy="909" rx="5.5" ry="8.1" fill="none" stroke="#000" stroke-width="1.3" transform="rotate(-10 651.9 909)" />
<ellipse cx="653.4" cy="909.3" rx="3.5" ry="6.7" fill="none" stroke="#000" stroke-width="1" transform="rotate(-10 653.4 909.3)" />
<ellipse cx="615.8" cy="933.1" rx="5.5" ry="8.1" fill="none" stroke="#000" stroke-width="1.3" transform="rotate(-10 615.8 933.1)" />
<ellipse cx="617.2" cy="933.4" rx="3.5" ry="6.7" fill="none" stroke="#000" stroke-width="1" transform="rotate(-10 617.2 933.4)" />
<ellipse cx="665.4" cy="941.2" rx="5.5" ry="8.1" fill="none" stroke="#000" stroke-width="1.3" transform="rotate(-10 665.4 941.2)" />
<ellipse cx="666.8" cy="941.5" rx="3.5" ry="6.7" fill="none" stroke="#000" stroke-width="1" transform="rotate(-10 666.8 941.5)" />
<ellipse cx="629.9" cy="964.7" rx="5.5" ry="8.1" fill="none" stroke="#000" stroke-width="1.3" transform="rotate(-10 629.9 964.7)" />
<ellipse cx="631.4" cy="965" rx="3.5" ry="6.7" fill="none" stroke="#000" stroke-width="1" transform="rotate(-10 631.4 965)" />
<ellipse cx="654.5" cy="969" rx="5.5" ry="8.1" fill="none" stroke="#000" stroke-width="1.3" transform="rotate(-10 654.5 969)" />
<ellipse cx="656" cy="969.3" rx="3.5" ry="6.7" fill="none" stroke="#000" stroke-width="1" transform="rotate(-10 656 969.3)" />
<path d="M692.2,1065.4 L715.3,1057.4 L737,1056.7 L764.5,1066.8 L766.7,1079.8 L758.7,1089.9 L737,1095.7 L700.8,1105.1 L697.9,1081.3Z" fill="url(#belt1)" stroke="#000" stroke-width="1" />
<path d="M667.6,1070 L700.8,1063.2 L700.8,1110.2 L673.3,1118.2Z" fill="#fff" stroke="#000" stroke-width="0" />
<path d="M667.6,1070 L700.8,1063.2M673.3,1118.2 L699.4,1110.2" fill="none" stroke="#000" stroke-width="1" />
<ellipse cx="684.9" cy="1090.7" rx="15.9" ry="23.9" fill="#fff" stroke="#000" stroke-width="1" transform="rotate(-5 684.9 1090.7)" />
<path d="M667.6,1070 L684.9,1066.8 L684.9,1114.5 L673.3,1118.2Z" fill="#fff" stroke="#000" stroke-width="0" />
<ellipse cx="667.6" cy="1094.3" rx="16.6" ry="24.3" fill="#fff" stroke="#000" stroke-width="1.2" transform="rotate(-5 667.6 1094.3)" />
<ellipse cx="664.7" cy="1095.7" rx="12.7" ry="18.1" fill="none" stroke="#000" stroke-width="1.2" transform="rotate(-5 664.7 1095.7)" />
<path d="M676.2,1117.4 L715.3,1128.3 L724,1128.3 L724,1123.2 L718.2,1118.9M715.3,1128.3 L715.3,1123.2 L724,1123.2M699.4,1110.2 L745.7,1121 L751.5,1121 L751.5,1116 L745.7,1110.2M745.7,1121 L745.7,1116 L751.5,1116M706.6,1110.2 L718.2,1123.2M731.2,1103 L745.7,1115.3M697.9,1114.5 L741.3,1124.7M711,1107.3 L722.5,1118.9M719.6,1105.9 L728.3,1113.1" fill="none" stroke="#000" stroke-width="1" />
<path d="M1212.8,669.3 L1286.8,625.3 L1306.8,630 L1234,675.2Z" fill="url(#dots)" stroke="#000" stroke-width="1" />
<path d="M1212.8,669.3 L1286.8,625.3 L1308,629.4" fill="none" stroke="#000" stroke-width="2.4" />
<path d="M1218.1,670.8 L1291,627.3M1230.4,674.6 L1303.9,630.3" fill="none" stroke="#000" stroke-width="2.2" />
<path d="M1234,704.6 L1300.9,685.8 L1303.3,691.1 L1230.4,711.1Z" fill="#000" stroke="#000" stroke-width="1" />
<ellipse cx="1276.9" cy="664.1" rx="6.8" ry="25.3" fill="#fff" stroke="#000" stroke-width="1.3" transform="rotate(3 1276.9 664.1)" />
<path d="M1280.3,639 A6.8,25.3 3 0 0 1278.3,689.5M1282.8,639.1 A6.8,25.3 3 0 0 1280.8,689.7M1285.3,639.3 A6.8,25.3 3 0 0 1283.3,689.9M1287.7,639.5 A6.8,25.3 3 0 0 1285.7,690M1290.2,639.7 A6.8,25.3 3 0 0 1288.2,690.2M1292.7,639.8 A6.8,25.3 3 0 0 1290.7,690.4M1295.1,640 A6.8,25.3 3 0 0 1293.1,690.6M1297.6,640.2 A6.8,25.3 3 0 0 1295.6,690.7M1300.1,640.4 A6.8,25.3 3 0 0 1298.1,690.9" fill="none" stroke="#000" stroke-width="1.5" />
<path d="M1303.2,686.1 L1305.6,697.8 L1345.1,709.4 L1379.2,715.6 L1461.3,711.7 L1501.6,691.6 L1501.6,684.6 L1499.2,615.6 L1305.6,615.6Z" fill="#fff" stroke="#000" stroke-width="1" />
<path d="M1303.2,686.1 L1304.8,693.1 L1344.3,704.7 L1379.2,710.9 L1461.3,707.1 L1501.6,686.9" fill="none" stroke="#000" stroke-width="1" />
<path d="M1345.1,709.4 L1344.3,704.7M1379.2,715.6 L1379.2,710.9M1461.3,711.7 L1461.3,707.1" fill="none" stroke="#000" stroke-width="1" />
<rect x="1420.2" y="705.5" width="10.1" height="4.6" rx="0" fill="#000" stroke="#000" stroke-width="1.2"/>
<path d="M1500.1,691 A99.2,23.2 0 0 1 1304.7,691" fill="none" stroke="#000" stroke-width="1" />
<path d="M1493.7,689.4 A94.5,21.7 0 0 1 1311.1,689.4" fill="none" stroke="#000" stroke-width="1" />
<rect x="1357.5" y="624.9" width="90.6" height="77.5" rx="0" fill="#fff" stroke="#000" stroke-width="0"/>
<path d="M1357.5,624.9 L1357.5,702.4M1448.1,624.9 L1448.1,702.4" fill="none" stroke="#000" stroke-width="1" />
<path d="M1447.8,669.9 A45.4,8.5 0 0 1 1357,669.9" fill="none" stroke="#000" stroke-width="1.1" />
<path d="M1447.8,697 A45.4,7.7 0 0 1 1357,697" fill="none" stroke="#000" stroke-width="1" />
<path d="M1376.1,618.7 A26.3,3.9 0 0 1 1428.7,618.7" fill="none" stroke="#000" stroke-width="1" />
<rect x="1305.6" y="615.6" width="19.4" height="74.4" rx="0" fill="#fff" stroke="#000" stroke-width="1.1"/>
<rect x="1312.5" y="598.6" width="5.6" height="17" rx="0" fill="#fff" stroke="#000" stroke-width="1"/>
<rect x="1304.3" y="613.8" width="21.8" height="3.1" rx="0" fill="#fff" stroke="#000" stroke-width="1"/>
<rect x="1309.4" y="638.9" width="13.9" height="41.8" rx="3" fill="#fff" stroke="#000" stroke-width="1.1"/>
<rect x="1314" y="626.5" width="5.6" height="12.4" rx="2" fill="#fff" stroke="#000" stroke-width="1"/>
<path d="M1309.4,655.9 L1323.4,655.9M1314.5,631.1 L1319.1,631.1M1314.5,634.2 L1319.1,634.2" fill="none" stroke="#000" stroke-width="1" />
<rect x="1314.9" y="680.7" width="3.7" height="6.2" rx="0" fill="#fff" stroke="#000" stroke-width="1"/>
<rect x="1479.9" y="615.6" width="19.4" height="65.1" rx="0" fill="#fff" stroke="#000" stroke-width="1.1"/>
<rect x="1486.8" y="598.6" width="5.6" height="17" rx="0" fill="#fff" stroke="#000" stroke-width="1"/>
<rect x="1478.6" y="613.8" width="21.8" height="3.1" rx="0" fill="#fff" stroke="#000" stroke-width="1"/>
<rect x="1483.7" y="638.9" width="13.9" height="32.5" rx="3" fill="#fff" stroke="#000" stroke-width="1.1"/>
<rect x="1488.3" y="626.5" width="5.6" height="12.4" rx="2" fill="#fff" stroke="#000" stroke-width="1"/>
<path d="M1483.7,655.9 L1497.7,655.9M1488.8,631.1 L1493.4,631.1M1488.8,634.2 L1493.4,634.2" fill="none" stroke="#000" stroke-width="1" />
<rect x="1489.3" y="671.4" width="3.7" height="6.2" rx="0" fill="#fff" stroke="#000" stroke-width="1"/>
<rect x="1340.4" y="632.7" width="17" height="37.2" rx="0" fill="#fff" stroke="#000" stroke-width="1.1"/>
<rect x="1346.2" y="615.6" width="5.6" height="17" rx="0" fill="#fff" stroke="#000" stroke-width="1"/>
<rect x="1339.2" y="630.8" width="19.5" height="3.1" rx="0" fill="#fff" stroke="#000" stroke-width="1"/>
<rect x="1448.1" y="632.7" width="16.3" height="37.2" rx="0" fill="#fff" stroke="#000" stroke-width="1.1"/>
<rect x="1453.5" y="615.6" width="5.6" height="17" rx="0" fill="#fff" stroke="#000" stroke-width="1"/>
<rect x="1446.9" y="630.8" width="18.7" height="3.1" rx="0" fill="#fff" stroke="#000" stroke-width="1"/>
<rect x="1329.6" y="640.4" width="10.1" height="27.9" rx="2" fill="#fff" stroke="#000" stroke-width="1"/>
<rect x="1331.1" y="669.9" width="7.7" height="20.1" rx="2" fill="#fff" stroke="#000" stroke-width="1"/>
<rect x="1465.9" y="640.4" width="10.1" height="27.9" rx="2" fill="#fff" stroke="#000" stroke-width="1"/>
<rect x="1466.7" y="669.9" width="7.7" height="20.1" rx="2" fill="#fff" stroke="#000" stroke-width="1"/>
<path d="M1342,669.9 L1342,705.5M1345.9,669.9 L1345.9,705.5M1353.6,669.9 L1353.6,702.4M1356.7,669.9 L1356.7,702.4" fill="none" stroke="#000" stroke-width="1.1" />
<ellipse cx="1352.8" cy="690" rx="2.8" ry="5.4" fill="#fff" stroke="#000" stroke-width="1.2" />
<path d="M1340.4,669.9 L1358.2,669.9" fill="none" stroke="#000" stroke-width="2" />
<path d="M1448.9,669.9 L1448.9,705.5M1452.8,669.9 L1452.8,705.5M1460.5,669.9 L1460.5,702.4M1463.6,669.9 L1463.6,702.4" fill="none" stroke="#000" stroke-width="1.1" />
<ellipse cx="1452" cy="690" rx="2.8" ry="5.4" fill="#fff" stroke="#000" stroke-width="1.2" />
<path d="M1447.3,669.9 L1465.2,669.9" fill="none" stroke="#000" stroke-width="2" />
<path d="M1308.7,569.2 L1308.7,615.6 L1499.2,615.6 L1496.9,569.2Z" fill="#fff" stroke="#000" stroke-width="0" />
<path d="M1497.2,576.9 A94.8,21.7 0 0 1 1307.6,576.9" fill="#fff" stroke="#000" stroke-width="1.1" />
<path d="M1496.9,592.7 A94.8,21.7 0 0 1 1307.9,592.7" fill="none" stroke="#000" stroke-width="1" />
<path d="M1446.1,604.9 A46.5,9.3 0 0 1 1358.7,604.9" fill="none" stroke="#000" stroke-width="1" />
<path d="M1337.3,603.3 L1373,604.8 L1373.7,618.7 L1379.2,620.3 L1379.2,626.5 L1357.5,626.5 L1352.8,631.1 L1342,631.1 L1337.3,624.9Z" fill="#fff" stroke="#000" stroke-width="1.1" />
<path d="M1426.4,626.5 L1426.4,620.3 L1438,618.7 L1438.8,604.8 L1470.6,601.7 L1472.1,615.6 L1478.3,618.7 L1483,615.6 L1483,624.9 L1464.4,631.1 L1448.9,631.1Z" fill="#fff" stroke="#000" stroke-width="1.1" />
<path d="M1337.3,610.2 L1357.5,611.8 L1373,606.3M1341.2,618.7 L1366.8,618.7M1438.8,610.2 L1470.6,608.7" fill="none" stroke="#000" stroke-width="1" />
<path d="M1308.7,563.7 L1316.4,562.2 L1340.4,570.7 L1340.4,576.9 L1311,572.3 L1308.7,569.2Z" fill="#fff" stroke="#000" stroke-width="1.2" />
<rect x="1308.7" y="576.9" width="12.9" height="17" rx="0" fill="#fff" stroke="#000" stroke-width="1.3"/>
<rect x="1307.6" y="594" width="23.6" height="9.3" rx="0" fill="#fff" stroke="#000" stroke-width="1.1"/>
<rect x="1313.3" y="603.3" width="5.4" height="12.4" rx="0" fill="#fff" stroke="#000" stroke-width="1"/>
<path d="M1314.9,587.8 L1318,587.8" fill="none" stroke="#000" stroke-width="3" />
<path d="M1326.5,575.4 L1360.6,581.6 L1373,578.5 L1373,587.8 L1354.4,604.8 L1342,603.3 L1342,590.9 L1328,584.7Z" fill="#fff" stroke="#000" stroke-width="1.2" />
<path d="M1342,590.9 L1362.1,584.7 L1373,587.8M1354.4,604.8 L1371.4,589.3M1351.3,603.3 L1368.3,587.8" fill="none" stroke="#000" stroke-width="1.2" />
<path d="M1331.1,578.5 L1357.5,583.9M1332.7,582.3 L1345.1,585.4" fill="none" stroke="#000" stroke-width="2" />
<rect x="1379.2" y="590.9" width="6.2" height="6.2" rx="0" fill="#fff" stroke="#000" stroke-width="1"/>
<rect x="1455.1" y="585.4" width="5.4" height="8.5" rx="0" fill="#fff" stroke="#000" stroke-width="1"/>
<rect x="1411.7" y="584.7" width="7.7" height="7.7" rx="0" fill="#000" stroke="#000" stroke-width="1"/>
<rect x="1409.4" y="592.4" width="12.4" height="17" rx="0" fill="#fff" stroke="#000" stroke-width="1.2"/>
<path d="M1402.4,606.3 L1424.1,606.3 L1423.3,617.2 L1408.6,617.2 L1404,614.1Z" fill="#fff" stroke="#000" stroke-width="1.1" />
<rect x="1408.6" y="610.2" width="13.9" height="3.1" rx="0" fill="#fff" stroke="#000" stroke-width="1"/>
<path d="M1410.2,578.5 L1421.8,580.8" fill="none" stroke="#000" stroke-width="3" />
<rect x="1452" y="597.1" width="7.7" height="35.6" rx="0" fill="#fff" stroke="#000" stroke-width="1"/>
<rect x="1449.7" y="601.7" width="12.4" height="7.7" rx="0" fill="#fff" stroke="#000" stroke-width="1.1"/>
<rect x="1451.2" y="618.7" width="9.3" height="3.9" rx="0" fill="#fff" stroke="#000" stroke-width="1"/>
<rect x="1478.3" y="575.4" width="4.6" height="26.3" rx="0" fill="#fff" stroke="#000" stroke-width="1"/>
<rect x="1470.6" y="597.1" width="18.6" height="4.6" rx="0" fill="#fff" stroke="#000" stroke-width="1"/>
<rect x="1474.5" y="575.4" width="11.6" height="4.6" rx="0" fill="#fff" stroke="#000" stroke-width="1"/>
<path d="M1472.1,609.4 L1481.4,609.4 L1481.4,618.7 L1473.7,622.6 L1472.1,618.7" fill="none" stroke="#000" stroke-width="1" />
<rect x="1489.9" y="544.4" width="6.2" height="18.6" rx="0" fill="#fff" stroke="#000" stroke-width="1.2"/>
<rect x="1488.4" y="549" width="8.5" height="5.4" rx="0" fill="#000" stroke="#000" stroke-width="1"/>
<rect x="1486.1" y="566.8" width="14.7" height="25.6" rx="5" fill="#fff" stroke="#000" stroke-width="1.3"/>
<path d="M1486.1,572.3 L1500.8,572.3M1486.1,584.7 L1500.8,584.7" fill="none" stroke="#000" stroke-width="1" />
<rect x="1489.9" y="592.4" width="7" height="7.7" rx="0" fill="#fff" stroke="#000" stroke-width="1"/>
<rect x="1487.6" y="600.2" width="8.5" height="13.9" rx="0" fill="#fff" stroke="#000" stroke-width="1"/>
<path d="M1315.9,535.1 A86.5,20.5 0 0 1 1488.9,535.1 V556.8 A86.5,20.5 0 0 1 1315.9,556.8 Z" fill="#fff" stroke="#000" stroke-width="1.2" />
<path d="M1488.9,535.1 A86.5,20.5 0 0 1 1315.9,535.1" fill="none" stroke="#000" stroke-width="1.2" />
<path d="M1487.7,539 A85.5,20.5 0 0 1 1317.1,539" fill="none" stroke="#000" stroke-width="1" />
<path d="M1488.5,539.3L1488.5,558.5M1488.3,539.8L1488.3,559M1487.4,541.3L1487.4,560.5M1487,541.8L1487,561M1485.5,543.2L1485.5,562.4M1484.8,543.7L1484.8,563M1482.7,545.1L1482.7,564.3M1481.8,545.6L1481.8,564.8M1479.2,547L1479.2,566.2M1478.1,547.4L1478.1,566.6M1474.9,548.7L1474.9,567.9M1473.7,549.1L1473.7,568.4M1469.9,550.3L1469.9,569.5M1468.5,550.7L1468.5,569.9M1464.3,551.8L1464.3,571M1462.7,552.2L1462.7,571.4M1458.1,553.2L1458.1,572.4M1456.4,553.5L1456.4,572.7M1451.4,554.4L1451.4,573.6M1449.5,554.7L1449.5,573.9M1444.1,555.5L1444.1,574.7M1442.2,555.7L1442.2,574.9M1436.5,556.3L1436.5,575.6M1434.4,556.6L1434.4,575.8M1428.6,557L1428.6,576.3M1426.4,557.2L1426.4,576.4M1420.4,557.6L1420.4,576.8M1418.2,557.7L1418.2,576.9M1412,557.9L1412,577.1M1409.8,557.9L1409.8,577.1M1403.5,558L1403.5,577.2M1401.3,558L1401.3,577.2M1395,557.9L1395,577.1M1392.8,557.9L1392.8,577.1M1386.6,557.7L1386.6,576.9M1384.4,557.6L1384.4,576.8M1378.4,557.2L1378.4,576.4M1376.2,557L1376.2,576.3M1370.4,556.6L1370.4,575.8M1368.3,556.3L1368.3,575.6M1362.6,555.7L1362.6,574.9M1360.7,555.5L1360.7,574.7M1355.3,554.7L1355.3,573.9M1353.4,554.4L1353.4,573.6M1348.4,553.5L1348.4,572.7M1346.7,553.2L1346.7,572.4M1342.1,552.2L1342.1,571.4M1340.5,551.8L1340.5,571M1336.3,550.7L1336.3,569.9M1334.9,550.3L1334.9,569.5M1331.1,549.1L1331.1,568.4M1329.9,548.7L1329.9,567.9M1326.7,547.4L1326.7,566.6M1325.6,547L1325.6,566.2M1323,545.6L1323,564.8M1322.1,545.1L1322.1,564.3M1320,543.7L1320,563M1319.4,543.2L1319.4,562.4M1317.8,541.8L1317.8,561M1317.4,541.3L1317.4,560.5M1316.5,539.8L1316.5,559M1316.3,539.3L1316.3,558.5" fill="none" stroke="#000" stroke-width="1" />
<ellipse cx="1402.4" cy="532.8" rx="67.9" ry="18.3" fill="none" stroke="#000" stroke-width="1" />
<ellipse cx="1402.4" cy="532" rx="63.8" ry="17" fill="none" stroke="#000" stroke-width="2.2" stroke-dasharray="2.5 2"/>
<ellipse cx="1402.4" cy="531.7" rx="61.2" ry="16.1" fill="none" stroke="#000" stroke-width="1" />
<rect x="1329.9" y="515.7" width="5.6" height="6.2" rx="2" fill="#fff" stroke="#000" stroke-width="1.2"/>
<path d="M1466.7,526.6 L1471.4,525M1468.3,535.1 L1473.7,533.5M1333.5,530.4 L1338.1,528.9M1335.8,536.6 L1340.4,535.1" fill="none" stroke="#000" stroke-width="2" />
<path d="M1348.9,503.3 A53.5,14.3 0 0 1 1455.9,503.3 V531.2 A53.5,14.3 0 0 1 1348.9,531.2 Z" fill="#fff" stroke="#000" stroke-width="1.2" />
<path d="M1455.9,503.3 A53.5,14.3 0 0 1 1348.9,503.3" fill="none" stroke="#000" stroke-width="1.2" />
<path d="M1101.1,739.9 L1111.7,744 L1141.1,731.6M1101.1,739.9 L1101.1,744 L1111.7,748.1 L1111.7,744M1111.7,748.1 L1141.1,735.2M1148.2,746.9 L1161.1,751.6 L1226.3,722.2 L1226.3,717.5 L1216.3,714.6M1148.2,746.9 L1148.2,751 L1161.1,755.7 L1161.1,751.6M1161.1,755.7 L1226.3,726.4 L1226.3,722.2M1101.1,739.9 L1130.5,727.5M1148.2,746.9 L1177.5,734" fill="none" stroke="#000" stroke-width="1" />
<path d="M1125.8,717.5 L1107,732.8 L1109.4,738.7M1141.1,715.8 L1123.5,729.3 L1125.8,735.2M1169.3,718.7 L1154,738.7 L1156.4,745.7M1183.4,721.1 L1164.6,741 L1167,746.9M1123.5,729.3 L1156.4,732.8 L1154,738.7M1137.6,718.7 L1135.2,724.6 L1159.9,727.5 L1163.4,719.9M1107,732.8 L1125.8,726.9" fill="none" stroke="#000" stroke-width="1.2" />
<rect x="1124.6" y="735.2" width="5" height="4.5" fill="#fff" stroke="#000" stroke-width="1.2"/>
<rect x="1172.8" y="741.6" width="5" height="4.5" fill="#fff" stroke="#000" stroke-width="1.2"/>
<rect x="1210.4" y="724" width="5" height="4.5" fill="#fff" stroke="#000" stroke-width="1.2"/>
<rect x="1112.9" y="729.3" width="5" height="4.5" fill="#fff" stroke="#000" stroke-width="1.2"/>
<rect x="1157.6" y="736.3" width="5" height="4.5" fill="#fff" stroke="#000" stroke-width="1.2"/>
<ellipse cx="1103.5" cy="676.2" rx="19.4" ry="35" fill="#fff" stroke="#000" stroke-width="1.2" transform="rotate(3 1103.5 676.2)" />
<ellipse cx="1106.4" cy="676.2" rx="18.8" ry="34.7" fill="#fff" stroke="#000" stroke-width="1" transform="rotate(3 1106.4 676.2)" />
<path d="M1104.7,641.4 L1130.5,644.4 L1125.8,711.7 L1101.1,709.5Z" fill="#fff" stroke="#000" stroke-width="0" />
<path d="M1103.5,641.1 L1130.5,644.4M1100,709.5 L1125.8,711.9" fill="none" stroke="#000" stroke-width="1.2" />
<g clip-path="url(#finclip)"><rect x="1100" y="630" width="130" height="110" fill="#fff"/><path d="M1111.7,645.3L1208.1,656.8M1111.7,647.6L1208.1,659.2M1111.7,650L1208.1,661.5M1111.7,652.3L1208.1,663.9M1111.7,654.7L1208.1,666.2M1111.7,657L1208.1,668.6M1111.7,659.4L1208.1,670.9M1111.7,661.7L1208.1,673.3M1111.7,664.1L1208.1,675.6M1111.7,666.4L1208.1,678M1111.7,668.8L1208.1,680.3M1111.7,671.1L1208.1,682.7M1111.7,673.5L1208.1,685M1111.7,675.8L1208.1,687.4M1111.7,678.2L1208.1,689.7M1111.7,680.5L1208.1,692.1M1111.7,682.9L1208.1,694.4M1111.7,685.2L1208.1,696.8M1111.7,687.6L1208.1,699.1M1111.7,689.9L1208.1,701.5M1111.7,692.3L1208.1,703.8M1111.7,694.6L1208.1,706.2M1111.7,697L1208.1,708.5M1111.7,699.3L1208.1,710.9M1111.7,701.7L1208.1,713.2M1111.7,704L1208.1,715.6M1111.7,706.4L1208.1,717.9M1111.7,708.7L1208.1,720.3M1111.7,711.1L1208.1,722.6M1111.7,713.4L1208.1,725M1111.7,715.8L1208.1,727.3" stroke="#000" stroke-width="1.2" fill="none"/></g>
<path d="M1128.2,644.1 L1202.2,652.9 M1123.5,713.1 L1189.3,721.7 M1128.2,644.1 A11.8,34.8 0 0 0 1123.5,713.1" fill="none" stroke="#000" stroke-width="1.2" />
<path d="M1132.9,644.4 L1192.8,651.5" fill="none" stroke="#000" stroke-width="2.5" />
<ellipse cx="1163.4" cy="644.4" rx="3.1" ry="4.9" fill="#fff" stroke="#000" stroke-width="1.3" />
<ellipse cx="1163.4" cy="644.7" rx="1.4" ry="3.1" fill="#fff" stroke="#000" stroke-width="1" />
<ellipse cx="1196.9" cy="687.6" rx="17.6" ry="35" fill="#fff" stroke="#000" stroke-width="1.2" transform="rotate(4 1196.9 687.6)" />
<ellipse cx="1204" cy="689.9" rx="13.2" ry="26.1" fill="none" stroke="#000" stroke-width="1.1" transform="rotate(4 1204 689.9)" />
<ellipse cx="1206.3" cy="691.1" rx="10.3" ry="22.6" fill="#fff" stroke="#000" stroke-width="2.1" transform="rotate(4 1206.3 691.1)" />
<ellipse cx="1209.5" cy="691.3" rx="10.3" ry="22.6" fill="#fff" stroke="#000" stroke-width="2.1" transform="rotate(4 1209.5 691.3)" />
<ellipse cx="1212.7" cy="691.6" rx="10.3" ry="22.6" fill="#fff" stroke="#000" stroke-width="2.1" transform="rotate(4 1212.7 691.6)" />
<ellipse cx="1215.9" cy="691.8" rx="10.3" ry="22.6" fill="#fff" stroke="#000" stroke-width="2.1" transform="rotate(4 1215.9 691.8)" />
<ellipse cx="1219" cy="692" rx="10.3" ry="22.6" fill="#fff" stroke="#000" stroke-width="2.1" transform="rotate(4 1219 692)" />
<ellipse cx="1222.2" cy="692.3" rx="10.3" ry="22.6" fill="#fff" stroke="#000" stroke-width="2.1" transform="rotate(4 1222.2 692.3)" />
<ellipse cx="1225.4" cy="692.5" rx="10.3" ry="22.6" fill="#fff" stroke="#000" stroke-width="2.1" transform="rotate(4 1225.4 692.5)" />
<ellipse cx="1227.5" cy="692.9" rx="9.4" ry="20.9" fill="#fff" stroke="#000" stroke-width="1.3" transform="rotate(4 1227.5 692.9)" />
<ellipse cx="1227.5" cy="692.9" rx="6.5" ry="15.3" fill="none" stroke="#000" stroke-width="1.1" transform="rotate(4 1227.5 692.9)" />
<ellipse cx="1227.5" cy="692.9" rx="3.5" ry="8.8" fill="none" stroke="#000" stroke-width="4" transform="rotate(4 1227.5 692.9)" />
<ellipse cx="1227.5" cy="692.9" rx="1.2" ry="2.6" fill="#000" stroke="#000" stroke-width="2" transform="rotate(4 1227.5 692.9)" />
<path d="M2259.8,520.1 L2356.4,495.7 L2373.1,493.6 L2373.1,531.5 L2283.7,552.3 L2259.8,556.4Z" fill="#fff" stroke="#000" stroke-width="0" />
<path d="M2259.8,519 L2356.4,495.1 L2373.1,493" fill="none" stroke="#000" stroke-width="1" />
<path d="M2259.8,523.2 L2327.3,506.5 L2356.4,499.3" fill="none" stroke="#000" stroke-width="1" />
<path d="M2260.8,517.4 L2265,516.1 L2267,520.1" fill="none" stroke="#000" stroke-width="1" />
<path d="M2260.8,525.3 L2278.5,521.1 L2278.5,550.2 L2260.8,556.4Z" fill="url(#perf)" stroke="#000" stroke-width="1" />
<path d="M2294.5,510.7 L2325.3,502.8 L2325.3,534 L2294.5,542.3Z" fill="url(#perf)" stroke="#000" stroke-width="1" />
<path d="M2293,510.7 L2293,542.9" fill="none" stroke="#000" stroke-width="2.2" />
<path d="M2259.8,552.3 L2282.6,546.5" fill="none" stroke="#000" stroke-width="1" />
<path d="M2259.8,556.4 L2281.6,551.2" fill="none" stroke="#000" stroke-width="1" />
<path d="M2259.8,552.3 L2259.8,556.4" fill="none" stroke="#000" stroke-width="1" />
<path d="M2279.9,514.9 L2279.9,604.3" fill="none" stroke="#000" stroke-width="1" />
<path d="M2283,514.9 L2283,604.3" fill="none" stroke="#000" stroke-width="1" />
<path d="M2283,546.5 L2320.1,537.7" fill="none" stroke="#000" stroke-width="1" />
<path d="M2283,551.2 L2320.1,542.3" fill="none" stroke="#000" stroke-width="1" />
<path d="M2283.7,573.1 L2323.2,564.8" fill="none" stroke="#000" stroke-width="1" />
<path d="M2283.7,598 L2327.3,587.6" fill="none" stroke="#000" stroke-width="1" />
<path d="M2321.1,548.1 A35.4,52 0 0 1 2356.4,496.1" fill="none" stroke="#000" stroke-width="1.1" />
<path d="M2326.3,548.1 A33.3,46.8 0 0 1 2359.6,501.3" fill="none" stroke="#000" stroke-width="1.1" />
<path d="M2348.1,500.3 L2373.1,500.3" fill="none" stroke="#000" stroke-width="2.5" />
<path d="M2356.4,495.1 L2364.8,492 L2373.1,493" fill="none" stroke="#000" stroke-width="1" />
<rect x="2377.2" y="500.3" width="16.6" height="31.2" rx="0" fill="#fff" stroke="#000" stroke-width="1.2"/>
<ellipse cx="2384.9" cy="511.7" rx="1.9" ry="2.3" fill="none" stroke="#000" stroke-width="1.3" />
<ellipse cx="2384.9" cy="521.1" rx="1.9" ry="2.3" fill="none" stroke="#000" stroke-width="1.3" />
<rect x="2379.3" y="496.1" width="6.2" height="4.2" rx="0" fill="#fff" stroke="#000" stroke-width="1.5"/>
<path d="M2373.1,531.5 L2394.9,531.5" fill="none" stroke="#000" stroke-width="2" />
<path d="M2344,552.3 L2551.9,552.3 L2547.8,585.6 L2468.7,618.8 L2356.4,606.4 L2348.1,585.6Z" fill="#fff" stroke="#000" stroke-width="0" />
<path d="M2547.8,589.7 A99.8,26 0 0 1 2348.1,589.7" fill="#fff" stroke="#000" stroke-width="1.1" />
<rect x="2344" y="552.3" width="203.8" height="37.4" rx="0" fill="#fff" stroke="#000" stroke-width="0"/>
<path d="M2551.7,559.6 L2548.8,584.9" fill="none" stroke="#000" stroke-width="1" />
<path d="M2551.5,559.6 A103.6,26.6 0 0 1 2344.4,559.6" fill="none" stroke="#000" stroke-width="1" />
<path d="M2551.9,556.4 A104,26.6 0 0 1 2344,556.4" fill="none" stroke="#000" stroke-width="2.3" stroke-dasharray="9 2"/>
<path d="M2551.9,553.3 L2551.9,559.6" fill="none" stroke="#000" stroke-width="1" />
<path d="M2344,553.3 L2344,559.6" fill="none" stroke="#000" stroke-width="1" />
<ellipse cx="2447.9" cy="553.3" rx="104" ry="26" fill="#fff" stroke="#000" stroke-width="1.1" />
<ellipse cx="2447.9" cy="552.7" rx="100.6" ry="24.7" fill="none" stroke="#000" stroke-width="2" stroke-dasharray="1.6 7"/>
<ellipse cx="2447.9" cy="552.3" rx="96.9" ry="23.5" fill="none" stroke="#000" stroke-width="1" />
<rect x="2433.1" y="590.2" width="2.6" height="2.4" fill="#000"/>
<rect x="2459.1" y="590.2" width="2.6" height="2.4" fill="#000"/>
<rect x="2485.1" y="587.5" width="2.6" height="2.4" fill="#000"/>
<rect x="2526.7" y="580.2" width="2.6" height="2.4" fill="#000"/>
<rect x="2539.2" y="574" width="2.6" height="2.4" fill="#000"/>
<ellipse cx="2447.9" cy="545" rx="80.7" ry="21.2" fill="#fff" stroke="#000" stroke-width="1.1" />
<ellipse cx="2447.9" cy="544" rx="77.4" ry="20" fill="none" stroke="#000" stroke-width="1" />
<path d="M2528.3,550 A80.7,21.2 0 0 1 2367.6,550" fill="none" stroke="#000" stroke-width="1" />
<path d="M2515.5,545 A68.6,17.7 0 0 1 2380.4,545" fill="none" stroke="#000" stroke-width="1" />
<path d="M2519,547.6 A71.7,18.7 0 0 1 2376.9,547.6" fill="none" stroke="#000" stroke-width="1" />
<rect x="2418.4" y="552.3" width="58.6" height="15" rx="0" fill="#fff" stroke="#000" stroke-width="0"/>
<path d="M2418.8,554 L2476.6,554" fill="none" stroke="#000" stroke-width="1" />
<path d="M2418.8,557.7 L2476.6,557.7" fill="none" stroke="#000" stroke-width="1" />
<path d="M2418.8,561.9 L2476.6,561.9" fill="none" stroke="#000" stroke-width="1" />
<path d="M2418.8,566 L2476.6,566" fill="none" stroke="#000" stroke-width="1" />
<path d="M2418.8,551.2 L2418.8,567.9" fill="none" stroke="#000" stroke-width="3" />
<path d="M2476,551.2 L2476,567.9" fill="none" stroke="#000" stroke-width="3" />
<rect x="2514" y="525.3" width="3" height="4" fill="#fff" stroke="#000" stroke-width="1.2"/>
<rect x="2514" y="539.9" width="3" height="4" fill="#fff" stroke="#000" stroke-width="1.2"/>
<rect x="2378.2" y="540.3" width="3" height="4" fill="#fff" stroke="#000" stroke-width="1.2"/>
<rect x="2510.9" y="554.4" width="3" height="4" fill="#fff" stroke="#000" stroke-width="1.2"/>
<rect x="2379.9" y="554.4" width="3" height="4" fill="#fff" stroke="#000" stroke-width="1.2"/>
<path d="M2393.9,482.6 V537.7 A54.6,12.9 0 0 0 2503,537.7 V482.6 Z" fill="#fff" stroke="#000" stroke-width="1.1" />
<path d="M2508.4,541.1 A60.3,15 0 0 1 2388.3,541.1" fill="none" stroke="#000" stroke-width="1.1" />
<path d="M2505.5,537.7 A57.2,13.7 0 0 1 2391.2,537.7" fill="none" stroke="#000" stroke-width="1" />
<ellipse cx="2447.9" cy="481.6" rx="60.3" ry="15.8" fill="#fff" stroke="#000" stroke-width="2.2" />
<ellipse cx="2447.9" cy="483.3" rx="54.5" ry="12.5" fill="#fff" stroke="#000" stroke-width="1.1" />
<ellipse cx="2496.2" cy="483.7" rx="2.9" ry="3.5" fill="#fff" stroke="#000" stroke-width="1.6" />
<rect x="2449" y="490.9" width="2.1" height="3.5" rx="0" fill="#fff" stroke="#000" stroke-width="1.2"/>
<path d="M2320.1,519 L2358.9,518.6 L2364.8,523.6 L2364.8,548.1 L2320.1,548.1Z" fill="#fff" stroke="#000" stroke-width="1.2" />
<ellipse cx="2327.3" cy="526.3" rx="2.7" ry="3.1" fill="none" stroke="#000" stroke-width="1.3" />
<rect x="2348.5" y="523.2" width="11" height="14.6" rx="6" fill="#fff" stroke="#000" stroke-width="1.6"/>
<rect x="2350.2" y="531.5" width="8.3" height="5.8" rx="0" fill="#000" stroke="#000" stroke-width="1"/>
<path d="M2354,523.6 L2354,531.5" fill="none" stroke="#000" stroke-width="1.5" />
<rect x="2325.7" y="553.3" width="14.1" height="33.3" rx="3" fill="#fff" stroke="#000" stroke-width="1.3"/>
<path d="M2324.2,552.3 L2341.9,552.3" fill="none" stroke="#000" stroke-width="3" />
<path d="M2324.2,588.1 L2341.9,588.1" fill="none" stroke="#000" stroke-width="3" />
<path d="M2324.2,592.8 L2341.9,592.8" fill="none" stroke="#000" stroke-width="1.5" />
<path d="M2327.3,550.2 L2348.1,550.2" fill="none" stroke="#000" stroke-width="2.5" />
<path d="M2319.4,575.2 A7.9,8.3 0 0 1 2327.3,566.8" fill="none" stroke="#000" stroke-width="1" />
<path d="M2319.4,575.2 L2319.4,612.6" fill="none" stroke="#000" stroke-width="1" />
<path d="M2322.1,575.2 L2322.1,612.6" fill="none" stroke="#000" stroke-width="1" />
<path d="M2340.9,556.4 L2340.9,618.8" fill="none" stroke="#000" stroke-width="1" />
<path d="M2344,556.4 L2344,618.8" fill="none" stroke="#000" stroke-width="1" />
<path d="M2348.1,564.8 L2348.1,618.8" fill="none" stroke="#000" stroke-width="1" />
<path d="M2353.3,575.2 L2408.4,585.6 L2408.4,614.7 L2353.3,604.3Z" fill="#fff" stroke="#000" stroke-width="0" />
<path d="M2353.3,575.2 L2406.4,586.6" fill="none" stroke="#000" stroke-width="2" />
<path d="M2354.4,583.5 L2406.4,594.9" fill="none" stroke="#000" stroke-width="2" />
<path d="M2353.3,604.3 L2408.4,614.7" fill="none" stroke="#000" stroke-width="2" />
<path d="M2356.4,608.4 L2406.4,618.8" fill="none" stroke="#000" stroke-width="2" />
<path d="M2364.8,589.7 L2402.2,598" fill="none" stroke="#000" stroke-width="2" />
<path d="M2356.4,598 L2385.6,604.3" fill="none" stroke="#000" stroke-width="2" />
<path d="M2356.4,577.9 L2356.4,607" fill="none" stroke="#000" stroke-width="1.6" />
<path d="M2361.6,578.9 L2361.6,608" fill="none" stroke="#000" stroke-width="1.6" />
<path d="M2375.2,581.6 L2375.2,610.7" fill="none" stroke="#000" stroke-width="1.6" />
<path d="M2383.5,583.3 L2383.5,612.4" fill="none" stroke="#000" stroke-width="1.6" />
<path d="M2400.1,586.6 L2400.1,615.7" fill="none" stroke="#000" stroke-width="1.6" />
<path d="M2406.4,587.8 L2406.4,617" fill="none" stroke="#000" stroke-width="1.6" />
<rect x="2376.2" y="589.7" width="9.4" height="14.6" rx="0" fill="#000" stroke="#000" stroke-width="1"/>
<rect x="2364.8" y="583.5" width="8.3" height="8.3" rx="0" fill="#fff" stroke="#000" stroke-width="1.2"/>
<rect x="2389.7" y="593.9" width="8.3" height="12.5" rx="0" fill="#fff" stroke="#000" stroke-width="1.2"/>
<path d="M2350.2,598 L2356.4,612.6 L2368.9,618.8" fill="none" stroke="#000" stroke-width="2.5" />
<path d="M2257.7,598 L2327.3,614.7 L2348.1,619.9 L2466.7,647.9 L2466.7,657.3 L2344,628.2 L2257.7,605.3Z" fill="#fff" stroke="#000" stroke-width="1.1" />
<path d="M2257.7,601.2 L2344,623 L2466.7,652.1" fill="none" stroke="#000" stroke-width="2.2" />
<path d="M2257.7,605.3 L2260.8,613 L2273.3,616.8 L2273.3,608.4Z" fill="#fff" stroke="#000" stroke-width="1" />
<ellipse cx="2273.3" cy="610.9" rx="1" ry="1.9" fill="none" stroke="#000" stroke-width="1.2" />
<path d="M2261.8,610.5 L2267,611.8" fill="none" stroke="#000" stroke-width="2" />
<path d="M2273.3,616.8 L2294.1,623 L2308.6,633.4 L2316.9,645.9 L2325.3,650" fill="none" stroke="#000" stroke-width="1" />
<path d="M2276.4,613.6 L2297.2,620.5 L2311.7,630.3 L2321.1,642.7" fill="none" stroke="#000" stroke-width="1" />
<path d="M2346.1,626.1 L2439.6,649 L2439.6,682.3 L2346.1,657.3Z" fill="#fff" stroke="#000" stroke-width="1.2" />
<path d="M2346.1,654.2 L2439.6,678.7" fill="none" stroke="#000" stroke-width="1" />
<ellipse cx="2396" cy="650" rx="8.9" ry="12.9" fill="#fff" stroke="#000" stroke-width="2.2" transform="rotate(-8 2396 650)" />
<ellipse cx="2396.4" cy="650" rx="6.2" ry="10.4" fill="none" stroke="#000" stroke-width="1.3" transform="rotate(-8 2396.4 650)" />
<ellipse cx="2362.7" cy="647.9" rx="3.5" ry="4.4" fill="#fff" stroke="#000" stroke-width="1.3" />
<ellipse cx="2381.4" cy="653.1" rx="3.5" ry="4.4" fill="#fff" stroke="#000" stroke-width="1.3" />
<ellipse cx="2414.7" cy="662.5" rx="3.5" ry="4.4" fill="#fff" stroke="#000" stroke-width="1.3" />
<ellipse cx="2433.4" cy="666.7" rx="3.5" ry="4.4" fill="#fff" stroke="#000" stroke-width="1.3" />
<path d="M2359.6,645.9 L2365.8,650.4" fill="none" stroke="#000" stroke-width="1.2" />
<rect x="2353.3" y="637.1" width="2" height="2" fill="#000"/>
<rect x="2360.6" y="638" width="2" height="2" fill="#000"/>
<rect x="2364.8" y="639.6" width="2" height="2" fill="#000"/>
<rect x="2372" y="640.7" width="2" height="2" fill="#000"/>
<rect x="2377.2" y="642.1" width="2" height="2" fill="#000"/>
<rect x="2418.8" y="653.1" width="2" height="2" fill="#000"/>
<rect x="2424" y="654.2" width="2" height="2" fill="#000"/>
<rect x="2431.3" y="656.3" width="2" height="2" fill="#000"/>
<rect x="2353.3" y="651.1" width="2" height="2" fill="#000"/>
<rect x="2331.5" y="623" width="11.4" height="31.2" rx="0" fill="#fff" stroke="#000" stroke-width="1"/>
<ellipse cx="2334.4" cy="626.7" rx="1.7" ry="1.9" fill="#fff" stroke="#000" stroke-width="1.8" />
<ellipse cx="2339.8" cy="626.7" rx="1.7" ry="1.9" fill="#fff" stroke="#000" stroke-width="1.8" />
<ellipse cx="2334.4" cy="634.6" rx="1.7" ry="1.9" fill="#fff" stroke="#000" stroke-width="1.8" />
<ellipse cx="2339.8" cy="634.6" rx="1.7" ry="1.9" fill="#fff" stroke="#000" stroke-width="1.8" />
<ellipse cx="2334.4" cy="642.5" rx="1.7" ry="1.9" fill="#fff" stroke="#000" stroke-width="1.8" />
<ellipse cx="2339.8" cy="642.5" rx="1.7" ry="1.9" fill="#fff" stroke="#000" stroke-width="1.8" />
<ellipse cx="2334.4" cy="650.4" rx="1.7" ry="1.9" fill="#fff" stroke="#000" stroke-width="1.8" />
<ellipse cx="2339.8" cy="650.4" rx="1.7" ry="1.9" fill="#fff" stroke="#000" stroke-width="1.8" />
<path d="M2337.1,623 L2337.1,654.2" fill="none" stroke="#000" stroke-width="1.8" />
<rect x="2443.8" y="651.1" width="11.4" height="31.2" rx="0" fill="#fff" stroke="#000" stroke-width="1"/>
<ellipse cx="2446.7" cy="654.8" rx="1.7" ry="1.9" fill="#fff" stroke="#000" stroke-width="1.8" />
<ellipse cx="2452.1" cy="654.8" rx="1.7" ry="1.9" fill="#fff" stroke="#000" stroke-width="1.8" />
<ellipse cx="2446.7" cy="662.7" rx="1.7" ry="1.9" fill="#fff" stroke="#000" stroke-width="1.8" />
<ellipse cx="2452.1" cy="662.7" rx="1.7" ry="1.9" fill="#fff" stroke="#000" stroke-width="1.8" />
<ellipse cx="2446.7" cy="670.6" rx="1.7" ry="1.9" fill="#fff" stroke="#000" stroke-width="1.8" />
<ellipse cx="2452.1" cy="670.6" rx="1.7" ry="1.9" fill="#fff" stroke="#000" stroke-width="1.8" />
<ellipse cx="2446.7" cy="678.5" rx="1.7" ry="1.9" fill="#fff" stroke="#000" stroke-width="1.8" />
<ellipse cx="2452.1" cy="678.5" rx="1.7" ry="1.9" fill="#fff" stroke="#000" stroke-width="1.8" />
<path d="M2449.4,651.1 L2449.4,682.3" fill="none" stroke="#000" stroke-width="1.8" />
<ellipse cx="2412.6" cy="626.1" rx="2.7" ry="3.5" fill="#fff" stroke="#000" stroke-width="1.5" />
<ellipse cx="2423" cy="626.1" rx="2.7" ry="3.5" fill="#fff" stroke="#000" stroke-width="1.5" />
<ellipse cx="2434.4" cy="626.1" rx="2.7" ry="3.5" fill="#fff" stroke="#000" stroke-width="1.5" />
<ellipse cx="2460.4" cy="626.1" rx="2.7" ry="3.5" fill="#fff" stroke="#000" stroke-width="1.5" />
<ellipse cx="2472.9" cy="626.1" rx="2.7" ry="3.5" fill="#fff" stroke="#000" stroke-width="1.5" />
<ellipse cx="2482.3" cy="626.1" rx="2.7" ry="3.5" fill="#fff" stroke="#000" stroke-width="1.5" />
<path d="M2445.9,623 L2445.9,632.3" fill="none" stroke="#000" stroke-width="1" />
<path d="M2452.1,623 L2452.1,632.3" fill="none" stroke="#000" stroke-width="1" />
<path d="M2435.5,639.6 L2460.4,638.6" fill="none" stroke="#000" stroke-width="2.5" />
<path d="M2437.5,642.7 L2458.3,641.7" fill="none" stroke="#000" stroke-width="1.5" />
<path d="M2328.4,656.3 L2337.7,656.3 L2337.7,714.1 L2328.4,714.1Z" fill="#fff" stroke="#000" stroke-width="1.1" />
<path d="M2325.3,714.1 L2346.1,714.1 L2345,718.6 L2326.3,718.6Z" fill="#fff" stroke="#000" stroke-width="1.2" />
<path d="M2348.1,657.3 L2338.1,714.1" fill="none" stroke="#000" stroke-width="1" />
<path d="M2352.3,658.3 L2342.3,714.1" fill="none" stroke="#000" stroke-width="1" />
<path d="M2438.6,681.2 L2457.3,681.2 L2457.3,746.1 L2447.9,746.1Z" fill="#fff" stroke="#000" stroke-width="1.1" />
<path d="M2445.9,745.7 L2466.7,745.7 L2465.6,750.3 L2446.9,750.3Z" fill="#fff" stroke="#000" stroke-width="1.2" />
<path d="M2460,682.3 L2460,745.7" fill="none" stroke="#000" stroke-width="1" />
<path d="M2361.6,660.4 L2437.5,682.3 L2420.5,731.1 L2385.6,718.6Z" fill="#fff" stroke="#000" stroke-width="1.1" />
<path d="M2378.3,719.7 L2420.9,733.6 L2439.6,727.4" fill="none" stroke="#000" stroke-width="1" />
<path d="M2378.3,719.7 L2385.6,718.6" fill="none" stroke="#000" stroke-width="1" />
<path d="M2370,663.5 L2366.8,708.2 L2385.6,718.6" fill="none" stroke="#000" stroke-width="1" />
<path d="M2435.5,689.5 L2418.8,730.1" fill="none" stroke="#000" stroke-width="1" />
<path d="M2366.8,664.6 L2364.8,670.8" fill="none" stroke="#000" stroke-width="1" />
<path d="M2288.9,660.4 L2327.3,650" fill="none" stroke="#000" stroke-width="1" />
<path d="M2289.9,662.1 L2327.3,668.7" fill="none" stroke="#000" stroke-width="1" />
<path d="M2288.9,660.4 L2288.9,681.2 L2327.3,690.6" fill="none" stroke="#000" stroke-width="1" />
<path d="M2290.9,663.5 L2290.9,681.2" fill="none" stroke="#000" stroke-width="1" />
<path d="M2297.2,664.6 L2297.2,682.9" fill="none" stroke="#000" stroke-width="1" />
<path d="M2289.9,675 L2327.3,683.3" fill="none" stroke="#000" stroke-width="1" />
<path d="M2296.1,661.5 L2327.3,654.2" fill="none" stroke="#000" stroke-width="1" />
<ellipse cx="2326.3" cy="658.3" rx="1.2" ry="1.9" fill="none" stroke="#000" stroke-width="1.2" />
<path d="M2348.1,675 L2373.1,682.3 L2373.1,710.3 L2348.1,702Z" fill="#fff" stroke="#000" stroke-width="1.1" />
<ellipse cx="2354" cy="685.8" rx="1.9" ry="2.3" fill="none" stroke="#000" stroke-width="1.5" />
<ellipse cx="2364.8" cy="688.5" rx="1.9" ry="2.3" fill="none" stroke="#000" stroke-width="1.5" />
<path d="M2344,673.9 L2348.1,675" fill="none" stroke="#000" stroke-width="1" />
<path d="M2344,699.9 L2348.1,702" fill="none" stroke="#000" stroke-width="1" />
<path d="M2366.8,681.2 L2366.8,708.2" fill="none" stroke="#000" stroke-width="2" />
<path d="M2371,682.3 L2371,709.3" fill="none" stroke="#000" stroke-width="1.5" />
<path d="M2466.7,695.8 L2539.4,716.6 L2607,698.9 L2607,717.6 L2539.4,735.3 L2466.7,714.5Z" fill="#fff" stroke="#000" stroke-width="1.2" />
<path d="M2539.4,716.6 L2539.4,735.3" fill="none" stroke="#000" stroke-width="1" />
<path d="M2466.7,698.9 L2539.4,719.7 L2607,702" fill="none" stroke="#000" stroke-width="1" />
<path d="M2466.7,695.8 L2483.3,679.1 L2510.3,677.1 L2535.3,683.3 L2607,698.9 L2539.4,716.6Z" fill="#fff" stroke="#000" stroke-width="1" />
<path d="M2472.9,692.7 L2539.4,711.4 L2601.8,696.2" fill="none" stroke="#000" stroke-width="1.8" />
<ellipse cx="2476" cy="706.2" rx="2.7" ry="3.1" fill="none" stroke="#000" stroke-width="1.4" />
<ellipse cx="2488.5" cy="709.3" rx="2.3" ry="2.7" fill="none" stroke="#000" stroke-width="1.4" />
<ellipse cx="2548.8" cy="721.8" rx="2.9" ry="3.3" fill="#000" stroke="#000" stroke-width="2.5" />
<ellipse cx="2593.5" cy="710.3" rx="3.1" ry="3.7" fill="#000" stroke="#000" stroke-width="2.5" />
<path d="M2524.9,697.8 A27,8.3 0 0 1 2578.9,697.8" fill="none" stroke="#000" stroke-width="1.1" />
<path d="M2578.9,699.9 A27,8.3 0 0 1 2524.9,699.9" fill="none" stroke="#000" stroke-width="1.1" />
<path d="M2524.9,685.4 L2524.9,699.9" fill="none" stroke="#000" stroke-width="1" />
<path d="M2578.9,685.4 L2578.9,699.9" fill="none" stroke="#000" stroke-width="1" />
<path d="M2506.2,683.3 L2510.3,681.2 L2518.6,695.8 L2516.6,697.8 L2507.2,696.8Z" fill="#fff" stroke="#000" stroke-width="1.3" />
<path d="M2483.3,679.1 L2489.5,685.4 L2485.4,691.6" fill="none" stroke="#000" stroke-width="1" />
<path d="M2572.7,677.1 L2578.9,689.5 L2576.9,702" fill="none" stroke="#000" stroke-width="1" />
<path d="M2466.7,649 L2535.3,669.8 L2638.2,639.6 L2638.2,656.3 L2535.3,687.5 L2514.5,681.2 L2466.7,658.3Z" fill="#fff" stroke="#000" stroke-width="1.2" />
<path d="M2535.3,669.8 L2535.3,687.5" fill="none" stroke="#000" stroke-width="1" />
<path d="M2466.7,652.1 L2535.3,672.9 L2638.2,642.7" fill="none" stroke="#000" stroke-width="2.2" />
<path d="M2467.1,654.6 L2535.3,675.4 L2638.2,645.2" fill="none" stroke="#000" stroke-width="2.4" stroke-dasharray="2 1.6"/>
<path d="M2536.1,685 L2638.2,654.6" fill="none" stroke="#000" stroke-width="3" stroke-dasharray="2 1.6"/>
<path d="M2258.7,600.5 L2345,622.6 L2466.2,651.3" fill="none" stroke="#000" stroke-width="2.6" stroke-dasharray="2 1.6"/>
<path d="M2514.5,670.8 L2514.5,681.2" fill="none" stroke="#000" stroke-width="1" />
<ellipse cx="2515.9" cy="673.9" rx="1" ry="1.7" fill="none" stroke="#000" stroke-width="1.2" />
<path d="M2630.9,642.7 L2630.9,657.3" fill="none" stroke="#000" stroke-width="1.5" />
<path d="M2636.1,639.6 L2636.1,656.3" fill="none" stroke="#000" stroke-width="1" />
<path d="M2475,647.9 L2572.7,620.9 L2636.1,639.6" fill="none" stroke="#000" stroke-width="1" />
<path d="M2489.5,652.1 L2583.1,625.1" fill="none" stroke="#000" stroke-width="1" />
<path d="M2510.3,623 L2570.6,608.4 L2570.6,647.9 L2510.3,662.5Z" fill="#fff" stroke="#000" stroke-width="0" />
<path d="M2508.2,623 L2572.7,607.4" fill="none" stroke="#000" stroke-width="1" />
<path d="M2508.2,647.9 L2551.9,636.5" fill="none" stroke="#000" stroke-width="1" />
<path d="M2570.6,633.4 L2585.2,630.3 L2585.2,647.9 L2570.6,652.1 L2570.6,633.4" fill="none" stroke="#000" stroke-width="1" />
<path d="M2551.9,618.8 L2551.9,660.4" fill="none" stroke="#000" stroke-width="1" />
<path d="M2556.1,644.8 L2570.6,641.3" fill="none" stroke="#000" stroke-width="1" />
<path d="M2509.5,593.7 L2551.5,591.2 L2551.5,617.4 L2509.5,613.4Z" fill="url(#perf)" stroke="#000" stroke-width="1" />
<path d="M2569.2,583.3 L2597.2,574.7 L2597.2,601.6 L2569.2,610.7Z" fill="url(#perf)" stroke="#000" stroke-width="1" />
<path d="M2618.5,569.3 L2635.1,565.2 L2635.1,590.1 L2618.5,594.3Z" fill="url(#perf)" stroke="#000" stroke-width="1" />
<path d="M2506.2,586.6 L2506.2,657.3" fill="none" stroke="#000" stroke-width="1" />
<path d="M2509.3,586.6 L2509.3,658.3" fill="none" stroke="#000" stroke-width="1" />
<path d="M2551.9,575.2 L2551.9,660.4" fill="none" stroke="#000" stroke-width="1" />
<path d="M2554.4,574.7 L2554.4,660.4" fill="none" stroke="#000" stroke-width="1" />
<path d="M2566.5,583.5 L2566.5,612.6" fill="none" stroke="#000" stroke-width="1" />
<path d="M2600.2,573.5 L2600.2,604.3" fill="none" stroke="#000" stroke-width="1" />
<path d="M2615.3,560.6 L2615.3,639.6" fill="none" stroke="#000" stroke-width="1" />
<path d="M2617.8,560.6 L2617.8,639.6" fill="none" stroke="#000" stroke-width="1" />
<path d="M2507.2,585.1 L2554,584.5 L2615.5,566.2" fill="none" stroke="#000" stroke-width="1" />
<path d="M2508.2,588.1 L2554,587.4 L2615.5,569.1" fill="none" stroke="#000" stroke-width="1" />
<path d="M2614.3,562.7 A10.4,6.2 0 0 1 2635.1,562.7" fill="none" stroke="#000" stroke-width="1.1" />
<path d="M2616.4,564.8 A8.3,5.2 0 0 1 2633,564.8" fill="none" stroke="#000" stroke-width="1" />
<path d="M2635.1,562.7 L2636.1,564.8 L2616.4,570" fill="none" stroke="#000" stroke-width="1" />
<path d="M2508.2,618.8 L2554,618.6 L2615.5,602.8 L2636.5,597.6" fill="none" stroke="#000" stroke-width="1" />
<path d="M2508.2,621.7 L2554,621.5 L2615.5,605.7 L2636.5,600.5" fill="none" stroke="#000" stroke-width="1" />
<path d="M2634.3,564.8 L2634.3,600.1" fill="none" stroke="#000" stroke-width="1" />
<path d="M2636.8,564.8 L2636.8,600.1" fill="none" stroke="#000" stroke-width="1" />
<path d="M2466.7,618.8 A22.9,14.6 0 0 1 2489.5,604.3" fill="none" stroke="#000" stroke-width="1.1" />
<path d="M2469.2,622 A20.4,12.9 0 0 1 2489.5,609.1" fill="none" stroke="#000" stroke-width="1" />
<path d="M2466.7,618.8 L2466.7,650" fill="none" stroke="#000" stroke-width="1" />
<path d="M2469.2,620.9 L2469.2,650" fill="none" stroke="#000" stroke-width="1" />
<path d="M2489.5,604.3 L2507.2,600.1" fill="none" stroke="#000" stroke-width="1" />
<path d="M2489.5,608.9 L2507.2,604.7" fill="none" stroke="#000" stroke-width="1" />
<path d="M2488.5,606.4 L2488.5,655.2" fill="none" stroke="#000" stroke-width="1" />
<path d="M2491.2,606.4 L2491.2,656.3" fill="none" stroke="#000" stroke-width="1" />
<path d="M2507.2,589.7 A9.4,5.2 0 0 1 2516.6,584.5" fill="none" stroke="#000" stroke-width="1.1" />
</g>
</svg>
</body></html>
